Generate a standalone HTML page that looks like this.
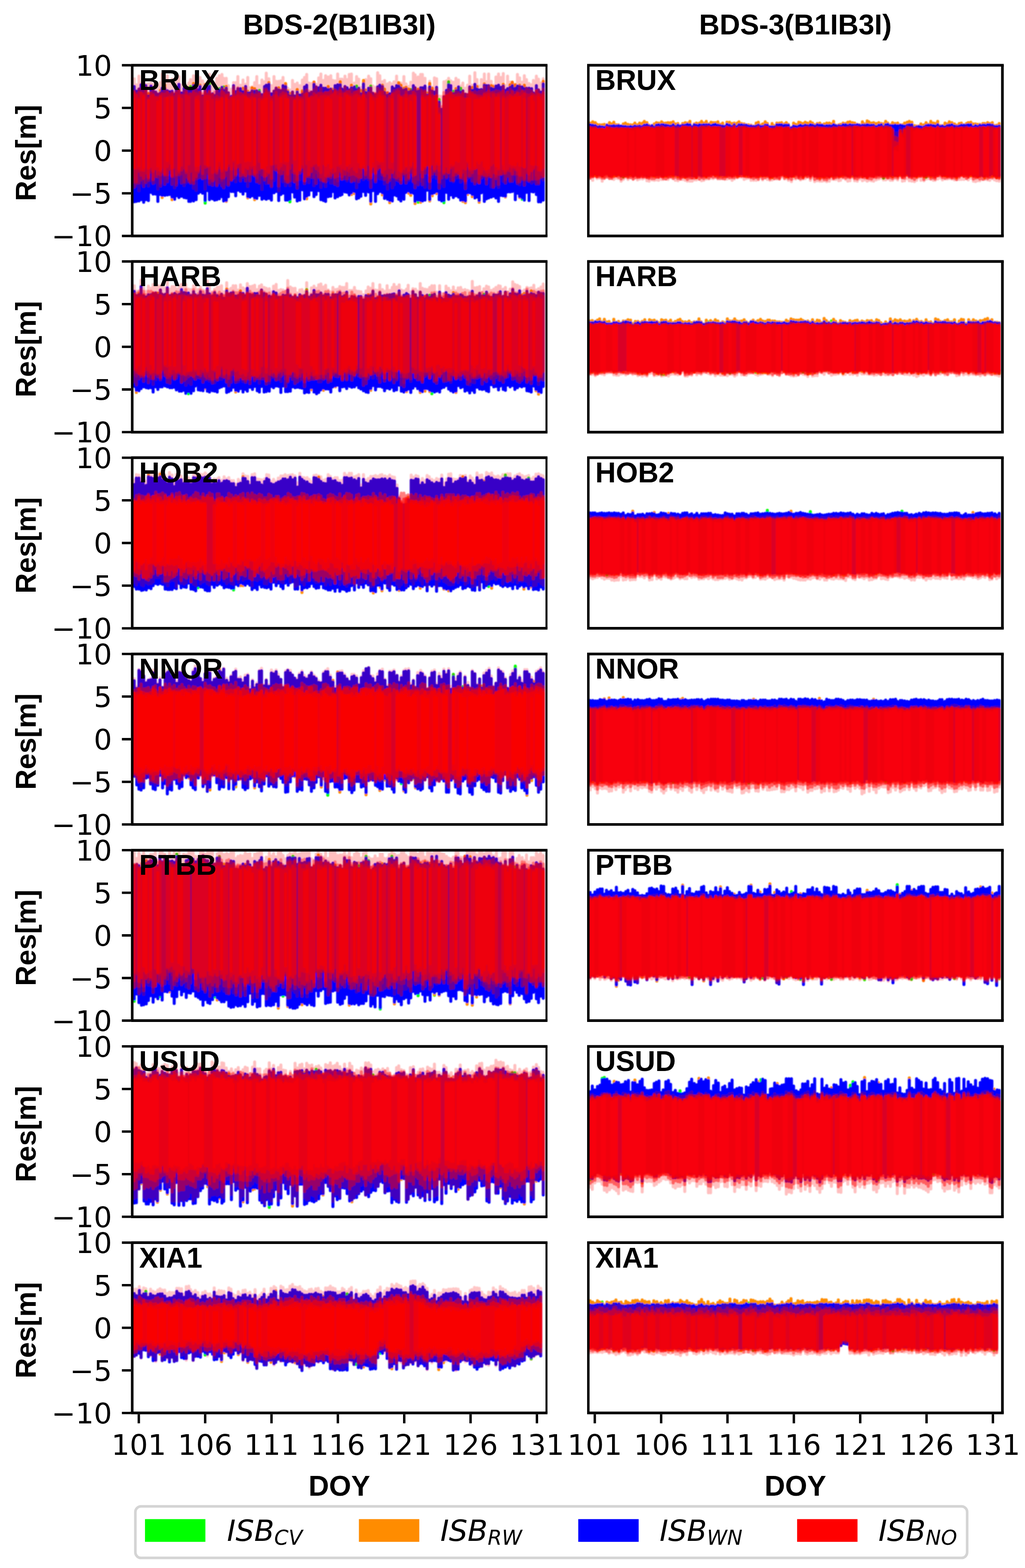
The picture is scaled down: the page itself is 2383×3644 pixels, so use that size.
<!DOCTYPE html>
<html lang="en"><head><meta charset="utf-8"><title>Residuals BDS-2 / BDS-3</title>
<style>html,body{margin:0;padding:0;background:#fff}body{width:2383px;height:3644px;overflow:hidden}svg{display:block}.t{font-family:"DejaVu Sans","Liberation Sans",sans-serif;font-size:66.67px;fill:#000}.b{font-family:"Liberation Sans","DejaVu Sans",sans-serif;font-weight:bold;font-size:66.10px;fill:#000}.i{font-family:"DejaVu Sans","Liberation Sans",sans-serif;font-style:italic;fill:#000}</style></head><body>
<svg width="2383" height="3644" viewBox="0 0 2383 3644">
<rect width="2383" height="3644" fill="#fff"/>
<defs><filter id="bl" x="-2%" y="-5%" width="104%" height="110%"><feGaussianBlur stdDeviation="1"/></filter></defs>
<style>.d path{fill:none;stroke-linecap:round}</style>
<defs><clipPath id="c00"><rect x="307.4" y="151.6" width="963.1" height="396.8"/></clipPath></defs><g clip-path="url(#c00)"><g class="d" stroke-width="7" filter="url(#bl)"><path d="M443 201v10M487 194v9M510 206v6M520 202v11M603 210v6M829 200v11M862 200v7M955 208v7M1021 231v9M1043 190v10M1054 212v8M1071 205v12" stroke="#00ff00"/><path d="M477 463v9M674 460v9M972 462v8M1032 464v7M1214 457v6" stroke="#00ff00"/><path d="M345 217v9M373 210v9M383 198v10M439 207v6M450 194v8M465 198v6M477 197v6M520 206v7M526 201v7M565 205v11M576 212v7M586 204v10M592 206v9M625 192v7M648 204v8M664 194v9M669 211v6M674 217v9M691 208v9M703 211v11M730 191v8M763 201v10M774 207v8M791 190v10M817 198v9M839 210v11M845 187v11M850 209v9M889 198v6M894 207v11M901 216v8M927 192v11M932 198v10M939 205v7M944 203v7M950 207v10M972 207v8M993 216v8M999 194v11M1005 205v10M1060 206v8M1098 203v10M1109 201v9M1126 195v6M1142 199v9M1147 201v9M1170 196v7M1186 197v9M1191 191v11M1198 197v11M1208 198v6M1219 198v11M1263 189v9" stroke="#ff8c00"/><path d="M377 451v8M400 455v9M526 463v5M576 454v6M592 457v7M713 453v9M817 445v7M824 442v8M862 465v9M889 445v8M906 463v8M950 441v8M955 445v9M965 465v8M978 463v7M999 461v6M1005 448v7M1015 442v8M1076 462v6M1082 464v7M1087 445v7M1098 449v8M1114 463v7M1175 453v5M1208 454v5" stroke="#ff8c00"/><path d="M312 201v268M317 212v256M323 207v260M328 197v267M334 198v272M339 199v265M345 223v243M351 200v247M356 205v246M362 214v237M367 219v249M373 216v236M377 205v249M383 205v249M389 211v242M394 213v239M400 212v246M406 219v244M410 203v252M416 196v263M422 216v240M428 205v254M433 206v254M439 210v258M443 208v260M450 199v268M456 200v264M461 209v240M465 201v245M471 223v226M477 200v266M483 202v241M487 200v264M494 218v244M499 222v243M504 209v255M510 209v253M516 203v254M520 210v257M526 205v261M531 216v241M538 224v221M543 199v246M548 213v242M553 206v236M559 206v239M565 213v238M571 201v243M576 216v241M581 216v242M586 211v244M592 212v248M597 211v250M603 214v240M609 220v243M615 201v260M619 198v265M625 196v265M631 218v247M637 212v236M642 205v240M648 209v257M653 211v241M658 199v250M664 201v264M669 214v251M674 223v240M680 214v232M685 223v235M691 214v253M697 221v244M703 219v222M708 202v260M713 198v258M718 217v236M724 214v228M730 196v261M735 202v250M741 204v239M746 198v266M752 205v261M757 205v263M763 208v249M769 207v249M774 212v233M779 199v261M785 197v260M791 197v257M795 207v245M802 201v245M807 204v243M812 209v244M817 204v244M824 202v243M829 208v254M834 205v255M839 218v238M845 195v250M850 215v239M857 205v241M862 204v264M867 217v226M873 220v248M878 202v248M883 198v247M889 201v247M894 215v246M901 221v242M906 218v248M912 202v265M916 206v247M922 199v256M927 200v263M932 205v262M939 209v254M944 207v240M950 214v230M955 212v236M961 199v250M965 204v264M972 212v253M978 204v262M982 204v263M988 200v265M993 221v221M999 202v262M1005 212v238M1010 214v234M1015 203v242M1021 237v227M1027 254v213M1032 225v241M1038 210v237M1043 197v266M1048 199v254M1054 217v242M1060 211v244M1066 202v256M1071 214v251M1076 211v254M1082 219v248M1087 220v228M1092 202v246M1098 210v242M1104 196v264M1109 207v251M1114 209v257M1119 208v240M1126 198v270M1131 199v263M1136 199v261M1142 205v253M1147 207v249M1153 200v260M1159 198v270M1165 203v251M1170 200v255M1175 210v246M1180 206v240M1186 203v243M1191 199v246M1198 205v259M1203 200v249M1208 201v256M1214 202v258M1219 206v259M1224 205v242M1230 205v261M1236 206v239M1240 216v230M1247 199v253M1252 209v260M1257 214v255M1263 195v270" stroke="#0000ff"/><path d="M312 183v230M317 197v235M323 177v266M328 193v233M334 187v226M339 196v214M345 195v237M351 193v227M356 196v220M362 195v229M367 199v240M373 192v233M377 172v242M383 190v217M389 176v238M394 192v210M400 184v223M406 198v238M410 184v241M416 178v236M422 198v206M428 173v258M433 199v225M439 193v224M443 185v241M450 176v261M456 177v265M461 199v192M465 180v210M471 188v226M477 195v244M483 189v211M487 173v251M494 189v224M499 194v226M504 182v250M510 176v234M516 173v246M520 182v232M526 182v246M531 199v228M538 207v209M543 192v200M548 192v230M553 178v222M559 198v196M565 186v215M571 196v212M576 180v253M581 204v199M586 202v201M592 192v214M597 178v235M603 199v202M609 186v254M615 190v218M619 170v256M625 183v241M631 199v235M637 178v241M642 189v206M648 189v254M653 188v222M658 180v242M664 197v234M669 205v211M674 209v222M680 187v232M685 196v226M691 193v235M697 199v218M703 186v203M708 180v240M713 173v243M718 193v231M724 194v205M730 190v241M735 196v205M741 181v229M746 172v263M752 187v236M757 176v257M763 179v239M769 176v249M774 187v238M779 188v222M785 172v248M791 184v222M795 184v232M802 177v216M807 185v235M812 173v239M817 172v250M824 193v224M829 178v258M834 184v232M839 203v198M845 193v224M850 185v217M857 177v240M862 183v230M867 200v192M873 203v215M878 169v242M883 176v239M889 190v226M894 187v240M901 195v244M906 192v219M912 195v241M916 190v239M922 177v226M927 194v220M932 193v232M939 178v231M944 195v222M950 201v218M955 191v206M961 170v253M965 174v251M972 179v238M978 173v248M982 173v237M988 182v253M993 205v196M999 189v233M1005 203v208M1010 181v223M1015 183v231M1021 223v191M1027 224v202M1032 190v243M1038 188v222M1043 182v227M1048 188v222M1054 191v231M1060 182v231M1066 186v226M1071 200v223M1076 193v226M1082 205v220M1087 198v216M1092 177v219M1098 198v210M1104 169v253M1109 185v233M1114 200v212M1119 185v214M1126 172v239M1131 190v226M1136 172v237M1142 189v245M1147 198v235M1153 179v251M1159 172v263M1165 180v225M1170 171v250M1175 199v218M1180 177v231M1186 191v231M1191 191v214M1198 196v220M1203 173v249M1208 181v248M1214 191v223M1219 176v237M1224 185v211M1230 194v220M1236 197v228M1240 187v235M1247 177v230M1252 184v240M1257 193v220M1263 183v235" stroke="#ff0000" opacity=".25"/><path d="M312 214v221M317 217v209M323 207v218M328 207v211M334 208v225M339 203v199M345 218v201M351 216v184M356 209v217M362 215v178M367 218v193M373 225v207M377 216v173M383 205v223M389 213v209M394 221v173M400 219v209M406 216v194M410 212v218M416 210v191M422 221v204M428 212v211M433 206v205M439 218v197M443 218v206M450 211v207M456 207v208M461 215v198M465 216v195M471 218v197M477 209v204M483 219v185M487 212v216M494 219v211M499 214v202M504 211v219M510 218v206M516 207v224M520 214v222M526 208v200M531 215v215M538 229v190M543 202v184M548 224v180M553 204v185M559 217v203M565 218v193M571 205v215M576 226v166M581 219v185M586 213v192M592 223v181M597 212v188M603 219v206M609 222v184M615 208v202M619 207v199M625 213v212M631 226v206M637 211v182M642 204v184M648 210v222M653 209v182M658 207v196M664 209v212M669 219v205M674 224v196M680 214v186M685 225v197M691 218v219M697 228v168M703 215v183M708 213v213M713 209v201M718 212v194M724 214v198M730 209v203M735 202v224M741 216v180M746 206v212M752 220v200M757 216v195M763 216v186M769 209v203M774 215v187M779 211v217M785 212v219M791 205v190M795 213v197M802 203v212M807 213v202M812 210v188M817 208v213M824 213v207M829 213v200M834 208v214M839 221v191M845 210v177M850 219v194M857 217v195M862 204v231M867 216v169M873 217v183M878 205v185M883 209v180M889 202v204M894 214v203M901 215v208M906 225v187M912 217v183M916 211v183M922 214v204M927 207v213M932 207v218M939 209v190M944 208v217M950 215v200M955 209v192M961 215v206M965 205v231M972 209v220M978 208v192M982 217v212M988 215v187M993 223v158M999 207v230M1005 210v194M1010 224v170M1015 207v198M1021 242v195M1027 248v165M1032 215v183M1038 215v198M1043 209v185M1048 215v204M1054 217v190M1060 213v184M1066 215v180M1071 221v186M1076 212v188M1082 218v220M1087 222v186M1092 204v207M1098 215v205M1104 213v214M1109 216v206M1114 213v211M1119 211v202M1126 202v206M1131 215v212M1136 201v209M1142 215v196M1147 218v217M1153 211v198M1159 212v216M1165 218v185M1170 202v195M1175 223v202M1180 215v195M1186 207v213M1191 214v207M1198 215v190M1203 212v214M1208 204v204M1214 211v206M1219 219v211M1224 206v212M1230 209v209M1236 212v185M1240 221v195M1247 211v216M1252 209v218M1257 220v185M1263 207v202" stroke="#ff0000" opacity=".4"/><path d="M312 212v211M317 221v201M323 215v183M328 217v190M334 218v197M339 210v214M345 229v185M351 216v171M356 220v197M362 226v184M367 226v169M373 218v188M377 219v181M383 219v184M389 215v191M394 218v174M400 215v195M406 225v164M410 217v189M416 209v197M422 222v173M428 222v168M433 215v181M439 222v199M443 219v179M450 215v211M456 218v192M461 221v179M465 214v167M471 227v176M477 215v174M483 220v161M487 214v200M494 220v200M499 228v171M504 224v178M510 227v163M516 213v200M520 217v195M526 221v168M531 220v165M538 227v190M543 211v202M548 220v170M553 214v172M559 217v191M565 221v179M571 211v197M576 220v183M581 225v195M586 219v165M592 220v180M597 222v200M603 217v176M609 227v163M615 219v199M619 211v186M625 217v185M631 227v187M637 223v158M642 215v180M648 226v174M653 220v184M658 216v178M664 218v197M669 226v196M674 227v164M680 228v150M685 230v172M691 223v195M697 232v161M703 228v153M708 220v200M713 218v190M718 228v182M724 225v160M730 218v167M735 221v171M741 218v194M746 217v194M752 217v203M757 215v207M763 215v195M769 212v195M774 219v169M779 209v203M785 215v194M791 211v175M795 218v198M802 219v186M807 213v183M812 213v177M817 220v166M824 216v189M829 214v194M834 212v199M839 228v184M845 215v174M850 223v172M857 216v166M862 222v191M867 224v175M873 218v204M878 219v174M883 213v175M889 214v187M894 223v170M901 230v172M906 223v196M912 221v168M916 217v194M922 209v204M927 213v182M932 225v192M939 223v169M944 214v173M950 228v184M955 223v168M961 214v194M965 218v187M982 212v199M988 211v176M993 224v159M999 215v206M1005 222v158M1010 226v172M1015 222v169M1021 253v170M1032 224v180M1038 222v176M1043 219v182M1048 216v168M1054 223v196M1060 227v179M1066 219v184M1071 221v192M1076 217v197M1082 230v190M1087 220v157M1092 213v195M1098 217v176M1104 221v163M1109 223v166M1114 223v202M1119 224v182M1126 218v188M1131 217v191M1136 212v187M1142 218v192M1147 214v187M1153 220v195M1159 218v170M1165 214v191M1170 212v191M1175 219v177M1180 214v178M1186 221v165M1191 212v192M1198 221v168M1203 216v188M1208 218v204M1214 213v194M1219 213v204M1224 220v181M1230 221v200M1236 218v198M1240 218v171M1247 211v205M1252 221v193M1257 221v191M1263 216v194" stroke="#ff0000" opacity=".45"/><path d="M312 218v170M317 222v169M323 229v162M328 216v179M334 222v167M345 234v177M351 224v169M356 222v176M362 228v163M367 229v175M373 223v174M383 229v177M389 228v159M394 226v153M400 226v182M416 223v174M422 231v153M433 223v178M439 226v155M456 227v168M461 225v171M477 224v157M483 224v163M487 225v159M494 233v168M504 231v166M510 232v152M516 228v169M526 224v171M531 234v145M538 227v166M543 226v148M548 227v180M553 223v154M559 226v151M565 223v183M571 228v160M576 230v161M581 230v153M586 227v163M592 229v179M603 231v144M609 232v158M615 219v168M619 217v191M625 223v176M631 232v150M642 223v156M648 230v161M653 227v158M658 224v154M664 222v158M669 231v173M685 234v163M691 227v177M697 226v176M703 233v155M713 218v162M718 230v175M724 227v171M730 227v153M735 223v155M741 228v157M746 225v176M752 224v156M757 224v184M763 225v183M769 223v173M774 221v179M779 215v182M785 224v160M791 219v180M795 228v162M802 217v176M807 221v164M812 224v183M817 227v178M824 224v170M829 221v178M834 224v163M839 225v162M845 222v159M850 231v175M862 219v188M867 228v146M873 230v173M878 223v157M883 217v163M889 224v175M894 226v182M906 229v160M912 220v181M927 222v187M932 227v173M939 228v176M944 221v180M950 223v173M955 223v164M961 222v152M965 224v181M982 224v169M988 228v163M993 227v157M999 223v184M1005 230v152M1010 225v167M1015 223v151M1021 265v131M1032 229v172M1038 223v163M1043 223v178M1048 216v162M1054 222v163M1060 221v179M1066 229v173M1071 226v185M1076 229v161M1082 231v162M1087 231v154M1092 217v176M1098 221v180M1104 223v168M1109 227v162M1114 229v174M1119 227v176M1126 221v165M1131 221v178M1136 219v187M1142 230v153M1147 221v157M1153 227v176M1159 222v183M1170 226v155M1175 231v171M1180 227v169M1186 223v174M1191 228v160M1198 222v172M1203 218v177M1208 226v180M1214 223v162M1219 218v170M1230 228v176M1236 225v171M1240 223v169M1247 225v157M1252 219v164M1257 228v168M1263 223v166" stroke="#ff0000" opacity=".45"/><path d="M312 231v160M323 234v151M334 225v171M345 234v156M367 237v149M373 228v166M389 229v144M400 229v160M416 229v163M456 233v152M461 236v148M483 236v148M504 237v155M510 237v136M516 230v161M526 230v164M543 232v138M553 235v144M571 225v149M576 231v141M581 234v139M592 231v151M609 236v153M615 232v160M619 230v153M631 237v144M653 230v145M664 231v142M669 232v142M685 235v135M697 236v158M718 231v139M741 233v149M757 231v153M763 228v150M769 233v156M791 228v152M807 224v159M812 228v151M834 229v147M839 235v155M845 223v166M862 228v164M867 236v151M878 231v139M883 225v149M889 228v146M912 232v143M932 228v168M944 231v153M955 237v146M965 227v161M982 229v165M988 234v150M999 228v158M1015 230v151M1021 269v113M1048 231v159M1054 233v148M1060 228v144M1066 226v149M1087 230v143M1092 231v158M1104 233v159M1109 233v139M1114 234v145M1119 230v142M1126 227v166M1131 234v159M1136 226v164M1153 229v156M1159 228v165M1170 231v161M1186 232v147M1191 226v156M1198 227v156M1203 228v146M1208 226v158M1219 231v157M1236 225v156M1240 237v145M1252 227v168M1257 235v158" stroke="#ff0000" opacity=".5"/></g></g>
<defs><clipPath id="c01"><rect x="1367.8" y="151.6" width="962.7" height="396.8"/></clipPath></defs><g clip-path="url(#c01)"><g class="d" stroke-width="7" filter="url(#bl)"><path d="M1384 399v7M1449 404v7M2054 406v8M2153 402v10" stroke="#00ff00"/><path d="M1372 286v5M1378 283v9M1384 285v8M1388 289v7M1394 290v5M1400 290v6M1405 289v8M1411 290v2M1417 285v9M1422 288v6M1427 284v8M1433 290v4M1438 290v3M1444 293v1M1449 288v7M1454 286v9M1460 289v7M1466 290v5M1472 290v6M1476 286v8M1482 290v5M1487 286v8M1494 286v9M1498 282v10M1504 285v6M1509 291v2M1516 292v1M1521 288v9M1526 285v7M1531 286v5M1538 283v8M1542 286v5M1548 286v6M1553 285v8M1559 285v9M1565 283v8M1570 288v7M1576 287v5M1582 292v2M1587 287v5M1593 285v7M1598 286v4M1604 282v9M1609 294v2M1614 288v3M1619 286v6M1626 286v5M1631 282v9M1636 286v5M1642 282v9M1648 288v3M1653 284v9M1658 285v6M1663 285v5M1669 283v9M1674 289v4M1680 286v8M1685 293v2M1690 284v6M1696 284v8M1702 287v8M1707 286v5M1714 286v9M1718 283v8M1724 287v4M1730 288v4M1735 290v2M1740 290v4M1746 291v3M1752 293v2M1758 286v8M1763 284v8M1768 291v4M1773 288v7M1779 283v9M1784 287v5M1790 294v2M1795 287v9M1800 292v4M1806 286v5M1812 286v5M1817 285v6M1824 288v4M1828 285v7M1833 289v3M1840 296v1M1845 286v8M1850 289v6M1857 284v9M1861 285v7M1867 287v7M1872 284v8M1877 286v7M1884 283v8M1889 286v6M1894 290v4M1900 287v4M1906 286v6M1911 290v2M1916 288v5M1922 286v7M1928 286v7M1933 288v5M1938 282v9M1943 291v1M1950 290v3M1954 289v4M1960 286v5M1966 287v4M1971 284v9M1976 283v8M1982 285v7M1987 286v6M1993 289v2M1998 290v2M2005 283v9M2010 288v4M2016 281v9M2020 283v9M2026 286v6M2031 285v7M2037 287v8M2043 285v7M2049 287v4M2054 288v8M2059 282v9M2064 286v4M2070 290v3M2075 285v8M2081 287v5M2087 286v7M2093 290v2M2098 290v2M2103 286v8M2109 284v8M2114 282v9M2120 284v7M2126 292v6M2131 293v3M2136 293v2M2141 288v8M2148 290v6M2153 285v8M2158 289v3M2164 282v9M2170 286v7M2174 287v7M2180 282v9M2186 292v3M2191 292v2M2197 286v9M2202 288v5M2207 283v9M2213 285v5M2219 288v6M2224 291v4M2230 287v7M2235 286v6M2241 290v2M2247 287v5M2251 285v6M2257 284v7M2263 288v8M2268 288v5M2273 289v6M2278 289v3M2285 287v5M2289 287v5M2296 285v6M2301 287v4M2307 285v7M2312 292v3M2317 291v4M2323 287v7" stroke="#ff8c00"/><path d="M1384 399v9M1388 402v6M1400 404v6M1417 404v5M1427 401v8M1433 402v6M1438 400v6M1460 403v6M1466 400v6M1509 404v6M1521 403v7M1542 404v6M1548 403v7M1559 400v6M1565 401v9M1576 403v8M1593 405v7M1619 405v8M1636 402v6M1642 403v8M1663 400v8M1674 403v7M1685 403v7M1714 402v8M1718 402v7M1730 401v6M1735 402v7M1746 404v6M1763 404v6M1768 401v8M1779 403v6M1790 404v8M1795 406v7M1824 402v6M1828 402v9M1833 405v6M1845 402v8M1867 404v8M1872 401v6M1906 405v9M1916 404v8M1928 405v5M1933 401v8M1950 403v6M1954 402v8M1960 401v6M1982 402v7M2005 403v7M2016 405v7M2075 404v7M2087 403v6M2093 399v8M2109 400v6M2131 404v7M2136 401v6M2148 404v7M2158 400v6M2164 403v8M2191 403v5M2197 402v7M2202 402v8M2224 404v9M2235 400v6M2257 400v9M2273 405v6M2278 404v6M2289 405v8M2307 402v8M2317 404v9M2323 405v7" stroke="#ff8c00"/><path d="M1372 290v115M1378 291v115M1384 292v110M1388 295v110M1394 294v111M1400 295v112M1405 296v108M1411 291v112M1417 293v114M1422 293v113M1427 292v112M1433 293v112M1438 292v111M1444 293v115M1449 294v113M1454 294v111M1460 295v111M1466 294v109M1472 295v113M1476 293v112M1482 294v114M1487 293v114M1494 294v111M1498 291v116M1504 290v118M1509 293v114M1516 292v114M1521 296v110M1526 291v115M1531 290v116M1538 290v117M1542 290v117M1548 291v115M1553 292v112M1559 293v110M1565 290v114M1570 294v111M1576 291v115M1582 293v115M1587 291v115M1593 291v117M1598 289v119M1604 290v117M1609 295v113M1614 290v118M1619 291v117M1626 290v116M1631 291v117M1636 290v115M1642 290v116M1648 290v116M1653 292v111M1658 290v114M1663 289v114M1669 291v113M1674 292v114M1680 293v113M1685 294v112M1690 289v117M1696 291v115M1702 294v113M1707 290v114M1714 294v111M1718 290v114M1724 290v114M1730 291v113M1735 291v114M1740 293v112M1746 293v114M1752 294v113M1758 293v114M1763 291v116M1768 294v110M1773 294v112M1779 291v115M1784 291v115M1790 295v112M1795 295v114M1800 295v111M1806 290v118M1812 290v116M1817 290v114M1824 291v114M1828 291v114M1833 291v117M1840 297v111M1845 293v112M1850 294v110M1857 293v114M1861 291v114M1867 293v114M1872 291v112M1877 292v113M1884 290v117M1889 291v111M1894 293v115M1900 290v119M1906 291v117M1911 291v117M1916 293v114M1922 292v115M1928 292v116M1933 293v111M1938 290v117M1943 292v115M1950 292v114M1954 293v112M1960 290v114M1966 290v116M1971 292v116M1976 290v118M1982 291v114M1987 291v117M1993 290v118M1998 291v115M2005 291v115M2010 291v117M2016 290v118M2020 291v115M2026 291v116M2031 291v117M2037 294v111M2043 291v115M2049 290v115M2054 295v113M2059 290v116M2064 289v118M2070 292v113M2075 292v114M2081 291v116M2087 292v114M2093 291v111M2098 292v115M2103 293v113M2109 291v112M2114 290v118M2120 290v118M2126 297v110M2131 295v112M2136 294v109M2141 295v110M2148 295v112M2153 292v113M2158 291v112M2164 291v115M2170 292v115M2174 293v114M2180 290v114M2186 294v109M2191 293v113M2197 295v110M2202 292v113M2207 291v116M2213 290v118M2219 293v115M2224 294v113M2230 293v113M2235 291v112M2241 291v113M2247 291v114M2251 290v116M2257 290v113M2263 295v112M2268 292v115M2273 294v114M2278 291v116M2285 291v117M2289 291v117M2296 290v117M2301 290v117M2307 291v113M2312 294v113M2317 294v113M2323 293v115" stroke="#0000ff"/><path d="M1372 295v120M1378 298v121M1384 295v116M1388 297v118M1394 297v117M1400 301v120M1405 301v114M1411 296v115M1417 298v116M1422 299v115M1427 296v121M1433 298v116M1438 296v119M1444 298v123M1449 298v119M1454 299v114M1460 298v119M1466 300v113M1472 298v119M1476 297v117M1482 297v121M1487 297v119M1494 297v119M1498 296v118M1504 294v126M1509 295v126M1516 295v123M1521 298v121M1526 297v121M1531 296v123M1538 294v123M1542 296v121M1548 294v122M1553 297v120M1559 296v117M1565 294v119M1570 296v123M1576 295v125M1582 299v118M1587 295v122M1593 297v122M1598 295v126M1604 295v126M1609 300v121M1614 294v124M1619 297v121M1626 297v120M1631 293v127M1636 295v124M1642 294v122M1648 296v120M1653 296v118M1658 296v119M1663 297v116M1669 296v120M1674 296v120M1680 295v120M1685 298v119M1690 296v120M1696 298v117M1702 299v120M1707 294v122M1714 299v114M1718 293v119M1724 295v117M1730 294v123M1735 297v118M1740 299v115M1746 297v122M1752 296v123M1758 298v121M1763 294v124M1768 300v113M1773 298v120M1779 295v119M1784 295v122M1790 299v120M1795 300v118M1800 297v119M1806 294v122M1812 297v119M1817 294v118M1824 297v119M1828 295v120M1833 298v121M1840 301v121M1845 300v115M1850 299v117M1857 298v116M1861 297v121M1867 298v118M1872 295v120M1877 294v118M1884 296v123M1889 294v119M1894 296v126M1900 294v126M1906 297v124M1911 297v124M1916 296v124M1922 298v124M1928 296v125M1933 296v120M1938 295v122M1943 295v122M1950 297v123M1954 296v123M1960 295v119M1966 295v122M1971 295v126M1976 294v126M1982 295v118M1987 294v126M1993 295v126M1998 294v122M2005 296v124M2010 293v125M2016 296v125M2020 295v124M2026 296v124M2031 294v127M2037 300v118M2043 296v120M2049 295v119M2054 297v121M2059 294v124M2064 296v120M2070 295v124M2075 301v118M2081 309v106M2087 309v109M2093 297v115M2098 301v120M2103 300v120M2109 295v120M2114 294v126M2120 294v127M2126 299v123M2131 298v121M2136 299v114M2141 301v118M2148 299v121M2153 297v119M2158 298v117M2164 294v123M2170 297v122M2174 297v122M2180 294v122M2186 297v117M2191 297v121M2197 297v119M2202 295v121M2207 295v120M2213 296v120M2219 297v121M2224 300v118M2230 298v119M2235 296v121M2241 296v121M2247 294v120M2251 298v120M2257 296v118M2263 300v121M2268 297v125M2273 298v122M2278 298v122M2285 296v120M2289 297v120M2296 295v123M2301 294v125M2307 298v117M2312 299v119M2317 299v121M2323 296v125" stroke="#ff0000" opacity=".25"/><path d="M1372 296v118M1378 296v115M1384 297v112M1388 301v110M1394 300v111M1400 301v113M1405 301v113M1411 296v116M1417 296v119M1422 299v116M1427 300v111M1433 298v111M1438 299v113M1444 299v117M1449 301v112M1454 300v110M1460 299v114M1466 301v112M1472 299v117M1476 298v115M1482 297v116M1487 297v113M1494 298v114M1498 297v113M1504 296v117M1509 296v119M1516 299v116M1521 300v115M1526 296v115M1531 297v115M1538 294v117M1542 296v119M1548 298v118M1553 297v116M1559 299v112M1565 296v119M1570 297v115M1576 297v118M1582 300v116M1587 294v118M1593 296v117M1598 296v121M1604 297v117M1609 298v116M1614 296v118M1619 296v116M1626 297v119M1631 297v116M1636 295v120M1642 294v119M1648 294v120M1653 299v111M1658 297v115M1663 297v114M1669 296v118M1674 296v118M1680 300v115M1685 299v116M1690 295v115M1696 299v114M1702 297v116M1707 293v120M1714 299v113M1718 297v111M1724 297v112M1730 295v113M1735 296v115M1740 299v111M1746 299v114M1752 298v117M1758 297v116M1763 295v121M1768 299v111M1773 299v116M1779 295v118M1784 298v113M1790 301v115M1795 299v113M1800 299v116M1806 296v118M1812 296v120M1817 297v112M1824 299v115M1828 297v114M1833 297v118M1840 301v116M1845 298v111M1850 301v112M1857 299v115M1861 298v117M1867 298v116M1872 297v113M1877 297v114M1884 298v116M1889 298v111M1894 298v119M1900 297v118M1906 297v120M1911 298v115M1916 298v119M1922 298v120M1928 298v116M1933 300v110M1938 297v118M1943 298v115M1950 295v118M1954 298v112M1960 298v114M1966 298v116M1971 296v116M1976 295v118M1982 296v114M1987 295v120M1993 295v121M1998 296v114M2005 297v115M2010 297v116M2016 297v117M2020 297v118M2026 297v119M2031 296v116M2037 298v115M2043 299v113M2049 295v114M2054 297v116M2059 296v116M2064 295v118M2070 297v116M2075 301v114M2081 319v93M2087 321v93M2093 304v104M2098 305v107M2103 300v114M2109 295v112M2114 298v114M2120 299v115M2126 299v118M2131 298v115M2136 301v109M2141 300v110M2148 298v119M2153 296v114M2158 298v112M2164 296v119M2170 299v115M2174 300v116M2180 297v112M2186 300v109M2191 299v114M2197 300v114M2202 297v116M2207 298v114M2213 297v117M2219 299v115M2224 297v120M2230 298v114M2235 297v111M2241 297v113M2247 297v118M2251 299v112M2257 298v110M2263 299v117M2268 298v116M2273 298v115M2278 296v120M2285 297v120M2289 298v117M2296 297v118M2301 296v116M2307 295v118M2312 298v113M2317 301v112M2323 298v117" stroke="#ff0000" opacity=".5"/><path d="M1372 297v114M1378 299v109M1384 298v106M1388 301v110M1394 301v107M1400 300v109M1405 302v109M1411 297v111M1417 299v111M1422 301v110M1427 300v106M1433 299v110M1438 301v106M1444 301v109M1449 299v111M1454 299v110M1460 300v111M1466 300v109M1472 303v108M1476 299v108M1482 300v111M1487 301v111M1494 298v112M1498 296v115M1504 298v114M1509 297v115M1516 300v110M1521 300v108M1526 297v115M1531 296v116M1538 299v110M1542 297v114M1548 299v109M1553 299v112M1559 300v110M1565 297v110M1570 301v107M1576 300v108M1582 298v115M1587 296v115M1593 295v116M1598 297v112M1604 298v113M1609 302v111M1614 297v113M1619 299v114M1626 299v110M1631 295v116M1636 297v113M1642 298v112M1648 296v113M1653 297v112M1658 296v110M1663 296v112M1669 300v111M1674 298v109M1680 300v111M1685 300v109M1690 296v115M1696 296v113M1702 298v112M1707 296v113M1714 300v107M1718 296v113M1724 296v113M1730 299v111M1735 300v106M1740 298v113M1746 298v112M1752 299v109M1758 300v109M1763 297v114M1768 302v103M1773 298v111M1779 295v113M1784 296v113M1790 300v112M1795 302v108M1800 301v109M1806 297v114M1812 299v114M1817 299v107M1824 299v110M1828 299v109M1833 298v113M1840 302v107M1845 300v109M1850 300v108M1857 300v112M1861 299v111M1867 299v113M1872 297v110M1877 296v113M1884 297v112M1889 297v109M1894 301v109M1900 297v116M1906 299v112M1911 299v112M1916 299v113M1922 301v112M1928 300v111M1933 300v107M1938 298v115M1943 299v112M1950 297v112M1954 297v111M1960 297v113M1966 298v111M1971 298v112M1976 298v111M1982 299v107M1987 296v116M1993 299v112M1998 298v114M2005 296v115M2010 297v112M2016 298v115M2020 297v113M2026 299v111M2031 296v114M2037 299v111M2043 297v111M2049 298v112M2054 300v110M2059 296v112M2064 298v115M2070 298v110M2075 304v106M2081 331v77M2087 333v77M2093 304v103M2098 312v101M2103 304v106M2109 297v110M2114 297v113M2120 297v115M2126 301v108M2131 302v107M2136 303v106M2141 303v104M2148 299v110M2153 297v114M2158 297v112M2164 298v110M2170 300v111M2174 301v111M2180 297v111M2186 299v107M2191 299v110M2197 300v108M2202 298v112M2207 299v109M2213 296v116M2219 302v108M2224 298v112M2230 300v109M2235 298v109M2241 300v110M2247 297v112M2251 299v113M2257 298v108M2263 299v111M2268 298v111M2273 300v111M2278 297v112M2285 296v113M2289 297v112M2296 296v113M2301 298v114M2307 298v110M2312 300v109M2317 299v114M2323 298v114" stroke="#ff0000" opacity=".6"/><path d="M1372 299v110M1378 300v110M1384 301v104M1388 301v106M1394 302v104M1400 300v109M1405 302v104M1411 297v107M1417 302v105M1422 299v111M1427 300v105M1433 302v103M1438 302v104M1444 299v109M1449 301v106M1454 301v108M1460 303v103M1466 300v107M1472 301v108M1476 302v106M1482 299v110M1487 302v108M1494 300v109M1498 300v107M1504 297v113M1509 298v111M1516 298v109M1521 301v106M1526 300v108M1531 300v109M1538 299v111M1542 300v110M1548 299v108M1553 297v111M1559 298v109M1565 298v108M1582 302v108M1587 297v112M1593 297v111M1598 298v113M1604 296v112M1614 298v111M1619 297v113M1636 298v109M1642 299v110M1648 296v111M1653 301v106M1658 300v104M1663 297v109M1669 297v110M1690 297v111M1696 299v108M1702 301v108M1707 299v108M1714 299v109M1730 297v111M1735 300v105M1740 300v107M1746 301v109M1752 301v109M1758 302v109M1763 298v109M1768 303v104M1773 301v108M1779 299v107M1784 297v110M1790 300v109M1795 302v107M1800 303v105M1806 298v111M1812 297v110M1817 298v108M1824 299v110M1828 300v109M1833 298v112M1840 303v107M1845 302v105M1850 300v105M1857 299v110M1861 299v107M1867 300v108M1872 300v106M1877 300v105M1884 300v110M1889 298v107M1894 300v109M1900 300v110M1906 300v108M1911 300v109M1916 300v112M1922 300v109M1928 301v109M1933 300v108M1938 300v110M1943 299v109M1950 299v111M1954 299v109M1960 297v110M1966 300v106M1971 300v108M1976 299v112M1987 296v111M1993 296v112M1998 299v109M2005 297v111M2010 300v109M2016 299v112M2020 299v109M2026 297v111M2031 300v110M2037 300v107M2043 298v108M2049 297v108M2054 303v105M2059 300v109M2064 300v109M2070 299v110M2081 344v64M2087 341v66M2093 309v94M2098 316v93M2103 303v105M2120 300v109M2126 304v105M2131 300v109M2136 301v103M2141 303v106M2148 300v108M2153 301v106M2158 299v106M2164 297v111M2170 299v108M2174 300v111M2180 297v111M2186 301v103M2191 300v107M2197 300v106M2202 299v109M2207 299v111M2213 298v111M2219 302v107M2224 302v109M2230 299v109M2235 298v108M2241 301v107M2247 300v108M2251 298v111M2257 298v106M2263 299v110M2268 301v110M2273 301v109M2289 297v113M2296 298v113M2312 304v103M2317 301v109" stroke="#ff0000" opacity=".6"/><path d="M1372 303v103M1378 302v105M1384 301v99M1388 305v100M1394 305v99M1400 305v101M1405 303v102M1411 300v102M1417 303v102M1422 302v104M1427 303v101M1433 305v97M1438 303v100M1444 302v104M1449 302v105M1454 305v97M1466 305v97M1472 306v100M1482 302v105M1487 303v102M1494 304v101M1498 301v105M1504 303v101M1509 304v103M1516 302v102M1521 304v100M1548 303v103M1553 301v105M1559 302v101M1565 301v103M1636 303v101M1642 300v107M1648 299v106M1653 300v102M1658 302v101M1663 301v101M1669 303v102M1702 304v102M1707 299v103M1714 304v101M1730 300v103M1746 305v103M1752 303v101M1758 304v103M1763 303v104M1790 303v105M1795 306v101M1800 303v104M1806 303v103M1812 303v103M1817 300v105M1840 307v101M1857 302v103M1861 303v100M1877 301v101M1906 302v105M1911 301v105M1916 302v105M1922 303v102M1928 302v103M1933 303v102M1950 304v100M1954 304v100M1971 300v104M1976 302v106M1993 303v101M1998 299v107M2010 300v106M2016 300v108M2020 302v102M2026 300v108M2031 303v105M2049 300v104M2054 304v100M2059 303v102M2081 352v52M2087 355v50M2093 312v90M2098 322v84M2126 307v99M2131 304v104M2136 303v99M2141 304v100M2148 305v100M2153 303v100M2158 304v100M2164 302v103M2170 300v106M2180 301v101M2202 304v102M2207 302v105M2213 302v104M2224 302v104M2230 303v103M2241 302v102M2247 303v102M2251 303v101M2257 301v103M2263 302v102M2268 304v100M2273 304v102M2289 303v101M2296 300v108M2317 302v103" stroke="#ff0000" opacity=".5"/></g></g>
<defs><clipPath id="c10"><rect x="307.4" y="607.6" width="963.1" height="396.6"/></clipPath></defs><g clip-path="url(#c10)"><g class="d" stroke-width="7" filter="url(#bl)"><path d="M713 673v8M999 686v8M1125 684v6" stroke="#00ff00"/><path d="M438 907v8M1004 906v9" stroke="#00ff00"/><path d="M323 682v6M367 681v8M527 672v7M559 676v8M713 675v6M774 683v5M856 685v6M988 689v8M1054 680v7M1213 685v7M1219 682v8M1235 676v9" stroke="#ff8c00"/><path d="M317 905v7M477 897v6M548 904v7M724 898v8M752 899v8M780 894v5M862 900v7M945 904v6M977 905v7M988 900v9M999 904v6M1060 906v6M1246 902v6M1252 908v8" stroke="#ff8c00"/><path d="M312 677v221M317 687v220M323 685v223M328 666v237M334 687v212M340 690v211M345 685v217M351 685v216M356 682v229M362 681v218M367 686v219M373 674v225M377 684v215M384 684v213M389 669v230M395 687v214M400 685v216M406 682v218M410 685v221M417 684v225M422 673v236M428 680v227M432 681v233M438 681v229M444 687v227M450 678v230M454 685v212M461 687v219M466 678v229M472 686v222M477 687v213M482 671v238M487 683v228M494 688v220M499 680v229M505 687v224M510 690v211M515 684v215M521 693v204M527 676v236M532 684v226M537 681v226M542 680v220M548 688v219M554 687v222M559 681v222M565 682v229M571 687v218M575 670v239M581 684v216M587 686v219M592 682v216M598 682v226M603 688v223M608 674v224M614 682v229M619 684v226M626 688v221M631 690v208M636 678v223M642 681v216M648 691v207M653 691v221M658 686v211M664 687v223M669 674v236M675 687v222M680 691v208M686 688v213M691 692v208M697 685v216M702 689v213M708 687v226M713 678v233M718 691v221M724 686v215M730 675v236M736 685v230M741 685v227M746 681v225M752 688v214M757 684v220M763 684v220M769 692v219M774 685v214M780 685v212M785 685v210M790 680v228M796 690v209M801 687v211M806 679v224M813 695v203M818 689v211M824 690v209M828 694v201M834 689v212M839 689v215M845 697v211M851 687v224M856 688v224M862 687v216M867 677v219M873 694v212M878 692v206M883 680v218M889 688v212M894 687v221M900 686v216M906 685v219M912 684v216M916 683v225M922 689v217M928 676v219M933 692v217M939 686v225M945 682v225M949 685v219M955 695v217M960 678v224M966 685v212M971 693v210M977 679v229M982 687v223M988 694v209M993 686v217M999 691v216M1004 686v223M1010 684v227M1015 694v215M1022 679v232M1026 693v209M1032 696v204M1037 680v216M1043 686v218M1048 688v220M1054 684v227M1060 689v220M1065 689v207M1071 685v216M1075 687v212M1081 691v218M1087 691v216M1092 689v224M1098 677v230M1103 691v221M1109 688v212M1115 682v222M1121 688v217M1125 687v217M1131 679v229M1136 689v221M1142 691v203M1148 685v214M1153 686v212M1159 685v221M1163 678v219M1170 689v216M1175 679v228M1180 691v204M1186 683v216M1192 673v223M1197 683v222M1203 684v217M1208 676v221M1213 689v210M1219 687v210M1225 677v231M1230 686v223M1235 682v229M1241 684v213M1246 687v218M1252 679v231M1258 682v230M1263 682v216" stroke="#0000ff"/><path d="M312 664v206M317 677v197M323 676v191M328 651v222M334 669v202M340 677v188M345 665v199M351 670v199M356 661v232M362 663v219M367 664v203M373 665v210M377 660v210M384 669v202M389 650v220M395 672v206M400 666v212M406 666v199M410 671v202M417 664v208M422 661v227M428 666v208M432 661v234M438 672v217M444 673v220M450 664v215M454 668v195M461 673v194M466 667v200M472 674v194M477 676v193M482 653v229M487 663v222M494 678v206M499 672v217M505 667v214M510 667v214M515 664v217M521 678v192M527 657v231M532 673v199M537 670v201M542 664v198M548 664v210M554 674v213M559 662v218M565 669v217M571 672v212M575 659v211M581 666v210M587 665v207M592 663v217M598 673v195M603 665v225M608 662v201M614 668v207M619 670v215M626 671v219M631 678v199M636 665v212M642 661v222M648 675v195M653 673v213M658 674v190M664 677v203M669 652v224M675 667v207M680 670v192M686 670v195M691 681v185M697 674v210M702 673v195M708 678v202M713 657v224M718 682v198M724 669v200M730 665v213M736 670v209M741 662v225M746 660v227M752 667v212M757 663v203M763 674v208M769 678v203M774 668v204M780 673v188M785 672v195M790 666v208M796 668v211M801 668v207M806 659v224M813 675v183M818 675v187M824 668v207M828 676v188M834 677v187M839 678v195M845 685v187M851 676v205M856 667v208M862 670v199M867 659v219M873 674v191M878 675v204M883 662v210M889 673v190M894 677v201M900 664v213M906 675v209M912 668v209M916 661v209M922 667v211M928 662v194M933 674v201M939 676v213M945 672v196M949 663v211M955 678v208M960 671v193M966 672v195M971 677v190M977 659v221M982 670v217M988 672v197M993 673v198M999 668v207M1004 664v206M1010 664v221M1015 679v198M1022 664v207M1026 682v196M1032 682v201M1037 665v193M1043 670v205M1048 676v212M1054 667v207M1060 676v204M1065 669v198M1071 668v204M1075 674v194M1081 673v201M1087 675v198M1092 677v217M1098 654v234M1103 669v220M1109 668v206M1115 666v206M1121 679v196M1125 671v211M1131 665v209M1136 667v208M1142 675v202M1148 672v200M1153 668v199M1159 664v218M1163 665v209M1170 672v200M1175 668v206M1180 679v186M1186 672v187M1192 655v206M1197 661v207M1203 663v216M1208 666v216M1213 677v201M1219 674v204M1225 668v221M1230 670v202M1235 669v208M1241 663v209M1246 674v197M1252 671v222M1258 667v209M1263 660v204" stroke="#ff0000" opacity=".25"/><path d="M312 683v204M317 682v212M323 678v202M328 672v198M334 677v209M340 685v184M345 677v212M351 677v191M356 681v197M362 683v182M367 682v187M373 674v208M377 683v177M384 684v181M389 672v216M395 687v203M400 682v188M406 683v198M410 678v200M417 679v188M422 679v209M428 683v201M432 673v207M438 686v189M444 685v187M450 673v201M454 686v184M461 683v194M466 674v204M472 678v210M477 684v197M482 675v192M487 685v189M494 681v209M499 677v202M505 684v192M510 679v194M515 683v191M521 686v189M527 683v204M532 682v214M537 688v200M542 677v193M548 680v208M554 680v202M559 679v196M565 684v196M571 684v204M575 681v197M581 677v214M587 684v184M592 686v198M598 687v186M603 679v192M608 674v206M614 679v201M619 682v210M626 681v203M631 687v178M636 683v191M642 687v195M648 685v196M653 682v192M658 679v181M664 677v221M669 670v214M675 684v190M680 691v190M686 686v205M691 694v193M697 687v180M702 689v192M708 686v212M713 675v197M718 689v179M724 684v187M730 679v194M736 678v202M741 677v202M746 681v197M752 691v190M757 678v191M763 677v211M769 686v190M774 679v184M780 689v185M785 679v196M790 677v192M796 682v199M801 681v184M806 681v185M813 688v177M818 679v189M824 685v186M828 690v167M834 693v180M839 692v175M845 692v203M851 690v201M856 686v193M862 684v186M867 675v193M873 684v183M878 689v170M883 678v210M889 691v177M894 686v192M900 684v178M906 685v196M912 686v183M916 685v204M922 685v197M928 680v176M933 692v202M939 690v208M945 689v190M949 688v176M955 688v192M960 676v188M966 685v191M971 693v171M977 679v203M982 691v197M988 688v186M993 692v176M999 692v186M1004 681v187M1010 680v206M1015 689v201M1022 683v191M1026 689v179M1032 683v203M1037 687v198M1043 689v192M1048 691v191M1054 687v184M1060 681v199M1065 684v187M1071 688v193M1075 682v186M1081 680v197M1087 689v203M1092 681v205M1098 681v191M1103 685v193M1109 691v178M1115 681v183M1121 680v212M1125 690v192M1131 681v205M1136 684v184M1142 681v199M1148 682v208M1153 685v192M1159 680v185M1163 682v201M1170 688v200M1175 679v189M1180 679v196M1186 687v171M1192 671v210M1197 680v199M1203 681v204M1208 685v203M1213 687v196M1219 690v170M1225 672v215M1230 687v186M1235 684v207M1241 677v193M1246 680v188M1252 679v205M1258 677v204M1263 676v207" stroke="#ff0000" opacity=".4"/><path d="M312 684v174M317 688v177M323 686v181M328 687v188M334 684v190M340 694v165M345 690v184M351 687v192M356 680v200M362 680v190M367 687v188M373 687v191M377 689v168M384 690v183M389 685v192M395 691v172M400 684v183M406 692v187M410 686v180M417 688v173M422 687v182M428 688v181M432 691v172M438 689v179M444 690v181M450 686v189M454 687v194M461 689v181M466 686v187M472 691v167M477 689v185M482 688v190M487 687v193M494 685v196M499 686v176M505 693v190M510 686v182M515 687v168M521 688v189M527 680v186M532 684v195M537 683v175M542 685v172M548 692v190M554 685v192M559 683v192M565 685v195M571 691v188M575 682v198M581 684v197M587 682v191M592 692v179M598 692v187M603 695v184M608 678v196M614 693v180M619 684v201M626 695v174M631 690v165M636 685v180M642 690v184M648 690v175M653 691v171M658 689v181M664 690v178M669 685v202M675 694v173M680 691v171M686 685v189M691 696v181M697 690v184M702 687v177M708 696v191M713 682v191M718 695v188M724 692v189M730 688v193M736 694v185M741 691v177M746 687v181M752 685v190M757 689v189M763 690v173M769 697v188M774 687v183M780 685v180M790 687v181M796 694v189M801 693v168M806 685v196M813 699v156M818 689v194M824 687v172M828 695v160M839 691v185M845 697v176M851 693v179M856 695v168M862 693v176M867 693v165M873 698v163M878 690v182M883 691v174M889 694v166M894 693v192M900 693v169M906 697v185M912 696v164M916 695v180M922 687v170M928 692v166M933 688v172M939 695v170M945 689v187M949 688v189M960 687v178M966 692v185M971 698v184M977 690v180M982 691v190M988 690v173M993 687v176M999 695v183M1004 695v167M1010 690v175M1015 694v189M1022 687v181M1026 698v169M1032 690v171M1037 685v168M1043 696v187M1048 697v172M1054 691v179M1060 687v191M1065 686v191M1071 692v168M1075 696v164M1081 696v173M1087 697v184M1092 689v178M1098 683v194M1103 689v182M1109 686v192M1115 694v182M1121 689v186M1125 692v170M1131 688v189M1136 686v187M1142 693v172M1148 694v168M1153 689v172M1159 688v181M1163 688v181M1170 690v180M1175 682v195M1180 696v158M1186 685v181M1192 680v193M1197 688v169M1203 690v176M1208 687v185M1213 689v175M1219 689v182M1225 682v192M1230 684v198M1235 687v194M1241 687v179M1246 693v177M1252 686v185M1258 684v184M1263 689v173" stroke="#ff0000" opacity=".45"/><path d="M317 691v169M323 693v176M328 692v175M334 695v175M340 696v154M345 692v167M351 688v177M356 692v171M367 698v168M373 687v178M384 695v154M389 685v166M395 690v183M400 696v161M406 688v169M410 699v164M417 690v175M428 698v169M432 690v181M438 693v169M444 693v168M454 693v167M461 694v175M466 691v165M472 699v164M477 695v159M482 695v163M494 691v167M499 692v161M505 696v180M510 692v179M515 699v150M521 699v169M527 692v163M532 693v175M537 693v166M542 689v164M548 697v164M554 699v160M559 690v178M565 698v168M571 695v177M575 685v177M587 699v172M592 694v177M598 687v188M603 689v178M608 696v154M619 690v175M631 697v174M636 686v176M642 696v172M648 698v162M653 690v165M664 691v163M669 692v176M675 695v174M680 697v164M686 699v163M691 702v170M697 698v156M702 692v162M708 697v179M713 694v168M718 699v179M724 700v161M730 698v172M736 696v174M741 694v183M752 692v176M757 698v154M763 691v162M769 698v179M774 697v159M780 695v167M790 691v177M796 693v176M801 690v172M806 689v163M813 703v165M818 694v165M824 698v173M828 697v169M839 699v154M851 701v173M856 694v171M862 701v166M867 690v159M873 699v163M878 699v162M883 690v158M889 703v151M894 693v173M900 703v154M906 701v154M916 697v164M922 702v160M928 692v165M933 693v173M939 694v181M945 694v170M949 696v166M960 693v158M966 699v157M977 697v159M982 694v167M993 698v163M999 702v157M1004 695v157M1010 695v165M1015 702v159M1022 694v180M1026 697v157M1032 699v163M1037 694v161M1043 695v168M1048 695v168M1054 693v163M1060 695v178M1065 695v169M1071 693v178M1075 696v169M1081 694v161M1087 693v163M1098 695v168M1103 701v173M1109 700v157M1115 699v168M1121 698v173M1125 693v172M1131 695v169M1136 700v154M1142 691v178M1159 693v167M1163 697v170M1175 693v168M1180 693v167M1186 697v166M1192 689v181M1197 691v181M1203 695v164M1208 688v175M1213 698v151M1219 689v165M1225 696v178M1235 691v166M1241 694v159M1246 697v165M1252 693v182M1258 697v177" stroke="#ff0000" opacity=".45"/><path d="M317 699v155M323 695v152M334 699v163M351 701v144M356 694v163M384 703v142M395 702v146M406 695v154M428 703v143M438 698v162M444 698v161M454 697v158M477 706v145M482 697v165M499 703v156M505 704v143M565 703v151M571 701v156M587 696v159M598 698v162M619 703v149M642 700v152M691 704v140M697 705v146M724 702v146M730 696v160M736 704v162M757 702v154M774 701v150M796 706v152M801 707v147M806 702v160M813 700v147M818 702v154M824 704v157M828 707v139M856 705v148M862 701v146M878 705v150M883 698v151M894 702v161M900 701v150M906 702v155M916 700v149M922 705v156M933 707v155M977 703v157M993 700v152M999 700v150M1004 703v144M1010 698v166M1015 705v140M1022 697v148M1026 708v144M1032 704v144M1037 705v155M1043 704v148M1048 699v153M1060 707v154M1075 700v157M1081 704v154M1087 705v155M1098 704v142M1103 707v146M1109 703v142M1121 698v156M1125 699v153M1136 702v155M1142 702v153M1159 701v162M1163 695v166M1175 696v162M1180 705v139M1186 701v157M1208 701v145M1219 700v152M1225 702v154M1241 702v146" stroke="#ff0000" opacity=".5"/></g></g>
<defs><clipPath id="c11"><rect x="1367.8" y="607.6" width="962.7" height="396.6"/></clipPath></defs><g clip-path="url(#c11)"><g class="d" stroke-width="7" filter="url(#bl)"><path d="M1477 748v7M1647 748v6M1933 746v10M2219 744v9" stroke="#00ff00"/><path d="M1538 860v9M1543 860v10M1697 860v7M1757 856v9M1867 857v8M1921 854v6M1960 859v7M2186 856v6M2323 859v9" stroke="#00ff00"/><path d="M1372 746v5M1377 745v6M1384 747v2M1389 744v6M1394 741v8M1399 748v3M1405 742v8M1411 748v5M1416 747v6M1421 752v2M1427 742v9M1433 749v2M1438 747v6M1444 751v2M1449 746v4M1455 746v3M1460 743v7M1466 744v7M1471 752v5M1477 747v6M1483 747v4M1487 750v4M1493 747v4M1499 743v7M1504 750v1M1510 743v8M1515 745v5M1521 744v7M1527 747v3M1531 750v5M1538 743v8M1543 745v5M1548 744v6M1554 748v5M1559 744v9M1565 750v3M1570 747v6M1576 744v7M1581 742v9M1586 747v7M1593 748v5M1598 749v5M1602 746v7M1608 750v5M1614 748v3M1620 748v2M1625 741v9M1630 748v3M1636 753v2M1642 744v9M1647 750v2M1652 745v7M1658 748v3M1663 743v8M1669 746v7M1675 751v2M1680 748v4M1685 750v5M1691 741v8M1697 746v4M1703 746v3M1708 741v8M1713 746v5M1719 747v4M1724 746v8M1730 743v8M1735 748v3M1741 751v3M1746 747v2M1751 744v5M1757 748v3M1762 745v8M1768 742v9M1773 746v6M1779 747v7M1785 744v7M1789 744v8M1796 746v5M1801 746v6M1807 748v4M1812 748v4M1818 749v4M1823 749v2M1828 744v9M1834 747v6M1839 741v7M1845 743v6M1851 744v6M1856 744v7M1862 742v8M1867 745v5M1872 747v2M1878 746v4M1883 749v4M1889 743v7M1894 749v5M1900 744v9M1905 745v8M1910 750v3M1916 740v9M1921 745v8M1927 749v2M1933 751v3M1938 742v9M1943 747v5M1949 752v3M1954 745v8M1960 748v4M1965 749v3M1971 751v2M1976 745v7M1983 747v6M1988 745v7M1993 744v9M1998 749v3M2004 746v5M2009 748v4M2016 745v7M2021 746v4M2026 745v7M2032 749v4M2038 743v8M2043 745v7M2048 750v6M2054 753v1M2059 748v6M2065 752v2M2070 741v8M2076 747v8M2081 743v9M2086 745v9M2093 743v9M2098 747v5M2103 746v8M2109 747v6M2115 744v9M2119 749v4M2124 745v4M2131 742v7M2135 747v4M2142 747v4M2147 750v3M2153 743v8M2158 749v4M2164 748v5M2170 752v2M2175 741v8M2181 743v8M2186 747v3M2192 748v2M2197 745v5M2203 743v9M2207 748v4M2212 748v3M2219 743v8M2224 753v2M2230 746v8M2235 742v9M2240 743v8M2246 752v4M2252 743v7M2257 748v2M2263 743v8M2269 746v5M2274 748v2M2279 745v8M2285 745v6M2290 742v9M2296 740v9M2302 746v2M2306 743v7M2313 749v1M2318 749v3M2323 750v2" stroke="#ff8c00"/><path d="M1377 859v6M1399 858v6M1427 858v6M1449 856v8M1483 859v8M1493 861v7M1499 860v6M1504 860v8M1527 860v8M1543 860v8M1548 860v6M1565 856v8M1581 861v6M1614 857v8M1630 857v6M1647 854v8M1669 859v8M1680 859v8M1708 858v7M1719 855v7M1751 855v8M1757 856v6M1762 859v8M1768 858v6M1773 858v8M1779 857v9M1785 859v8M1789 860v5M1823 855v8M1845 859v8M1862 856v6M1878 861v8M1883 860v8M1894 860v6M1949 858v7M1960 859v9M1971 858v6M1983 856v9M1988 856v7M2004 856v7M2009 857v6M2021 859v6M2054 856v7M2081 855v9M2103 857v6M2109 856v7M2119 858v7M2135 860v8M2142 859v6M2153 858v6M2164 859v8M2170 854v6M2192 856v8M2197 857v6M2235 854v6M2246 855v6M2252 857v9M2269 859v7M2290 859v6M2302 857v6M2306 859v6M2313 859v8" stroke="#ff8c00"/><path d="M1372 750v112M1377 750v112M1384 748v113M1389 749v114M1394 748v114M1399 750v111M1405 749v111M1411 753v105M1416 753v107M1421 753v106M1427 750v111M1433 750v111M1438 752v108M1444 752v109M1449 749v110M1455 748v111M1460 749v111M1466 750v110M1471 756v104M1477 752v109M1483 750v112M1487 753v109M1493 750v114M1499 749v114M1504 750v113M1510 750v109M1515 749v109M1521 750v111M1527 749v113M1531 754v110M1538 750v113M1543 749v114M1548 749v114M1554 752v112M1559 752v110M1565 752v107M1570 752v107M1576 750v112M1581 750v114M1586 753v105M1593 752v110M1598 753v109M1602 752v111M1608 754v107M1614 750v110M1620 749v110M1625 749v111M1630 750v110M1636 754v105M1642 752v109M1647 751v106M1652 751v109M1658 750v110M1663 751v110M1669 752v110M1675 752v110M1680 751v111M1685 754v107M1691 748v115M1697 749v114M1703 748v114M1708 748v113M1713 750v110M1719 750v108M1724 753v109M1730 750v112M1735 750v111M1741 753v105M1746 748v110M1751 748v110M1757 750v109M1762 752v110M1768 750v111M1773 751v110M1779 753v107M1785 750v112M1789 751v112M1796 750v111M1801 751v110M1807 751v111M1812 751v112M1818 752v106M1823 750v107M1828 752v110M1834 752v111M1839 747v115M1845 748v114M1851 749v113M1856 750v112M1862 749v110M1867 749v111M1872 748v113M1878 749v114M1883 752v111M1889 749v113M1894 753v110M1900 752v110M1905 753v105M1910 752v106M1916 748v110M1921 752v105M1927 751v108M1933 753v106M1938 750v111M1943 751v111M1949 754v107M1954 752v105M1960 751v111M1965 751v111M1971 752v109M1976 751v109M1983 752v107M1988 751v108M1993 752v108M1998 751v108M2004 750v108M2009 751v109M2016 751v108M2021 749v113M2026 751v111M2032 752v110M2038 750v111M2043 751v109M2048 755v107M2054 754v105M2059 753v107M2065 753v108M2070 748v113M2076 754v109M2081 751v107M2086 753v107M2093 751v108M2098 751v110M2103 753v107M2109 752v107M2115 752v109M2119 752v108M2124 748v114M2131 748v113M2135 750v113M2142 750v112M2147 752v110M2153 750v111M2158 752v105M2164 752v110M2170 754v103M2175 748v113M2181 750v110M2186 750v109M2192 749v110M2197 749v111M2203 751v109M2207 751v108M2212 751v108M2219 750v111M2224 754v108M2230 753v109M2235 750v107M2240 750v111M2246 755v103M2252 749v111M2257 750v109M2263 750v110M2269 750v112M2274 749v113M2279 753v109M2285 750v113M2290 750v112M2296 748v111M2302 747v113M2306 749v113M2313 750v112M2318 751v112M2323 751v111" stroke="#0000ff"/><path d="M1372 753v116M1377 752v118M1384 753v120M1389 754v116M1394 755v112M1399 752v117M1405 752v119M1411 757v110M1416 757v109M1421 758v108M1427 755v116M1433 755v117M1438 757v115M1444 756v113M1449 751v117M1455 753v118M1460 752v116M1466 754v112M1471 757v113M1477 754v114M1483 755v118M1487 756v115M1493 752v122M1499 755v117M1504 753v121M1510 755v113M1515 755v112M1521 754v119M1527 752v120M1531 757v114M1538 751v123M1543 753v120M1548 754v118M1554 758v116M1559 756v114M1565 754v115M1570 757v113M1576 755v116M1581 755v115M1586 755v110M1593 756v118M1598 758v116M1602 756v115M1608 754v118M1614 752v113M1620 755v116M1625 751v116M1630 754v116M1636 756v110M1642 752v114M1647 753v115M1652 754v116M1658 752v116M1663 753v120M1669 755v115M1675 756v116M1680 754v118M1685 757v113M1691 753v120M1697 751v119M1703 752v118M1708 751v123M1713 754v117M1719 756v109M1724 756v115M1730 752v117M1735 752v120M1741 756v112M1746 754v112M1751 752v115M1757 755v115M1762 754v118M1768 755v115M1773 753v116M1779 757v110M1785 753v117M1789 755v115M1796 754v119M1801 752v116M1807 757v113M1812 756v117M1818 756v110M1823 755v110M1828 755v115M1834 756v113M1839 751v122M1845 750v124M1851 753v120M1856 755v116M1862 754v112M1867 752v118M1872 751v120M1878 754v121M1883 757v112M1889 753v121M1894 755v118M1900 756v117M1905 757v107M1910 757v107M1916 754v116M1921 757v107M1927 753v112M1933 757v115M1938 753v117M1943 754v116M1949 758v111M1954 754v112M1960 757v114M1965 753v117M1971 754v112M1976 753v117M1983 756v114M1988 756v110M1993 756v116M1998 757v109M2004 755v114M2009 755v114M2016 753v116M2021 755v115M2026 754v116M2032 755v117M2038 754v117M2043 755v114M2048 756v115M2054 757v112M2059 756v115M2065 754v117M2070 754v116M2076 757v113M2081 754v111M2086 755v112M2093 754v114M2098 754v113M2103 758v112M2109 753v117M2115 754v117M2119 753v116M2124 753v119M2131 753v122M2135 752v121M2142 755v115M2147 755v117M2153 754v115M2158 756v113M2164 756v114M2170 758v109M2175 752v120M2181 752v114M2186 755v114M2192 752v113M2197 755v116M2203 753v118M2207 753v114M2212 754v110M2219 754v113M2224 756v117M2230 756v116M2235 755v110M2240 752v119M2246 757v112M2252 753v118M2257 753v116M2263 752v118M2269 752v119M2274 753v116M2279 757v116M2285 756v114M2290 752v120M2296 751v118M2302 751v119M2306 752v118M2313 754v117M2318 752v120M2323 753v121" stroke="#ff0000" opacity=".25"/><path d="M1372 753v116M1377 755v111M1384 755v115M1389 755v114M1394 752v115M1399 755v111M1405 755v111M1411 758v106M1416 756v108M1421 757v107M1427 754v112M1433 754v114M1438 757v107M1444 755v110M1449 753v113M1455 755v112M1460 753v115M1466 756v110M1471 757v110M1477 757v111M1483 757v112M1487 759v111M1493 754v115M1499 753v116M1504 753v118M1510 755v108M1515 755v107M1521 755v115M1527 753v114M1531 759v109M1538 755v116M1543 755v111M1548 753v118M1554 758v110M1559 755v110M1565 758v105M1570 755v112M1576 757v109M1581 755v113M1586 755v106M1593 755v116M1598 757v113M1602 756v113M1608 758v111M1614 755v110M1620 754v112M1625 754v112M1630 755v112M1636 759v104M1642 754v111M1647 756v106M1652 754v113M1658 754v111M1663 754v114M1669 757v110M1675 759v106M1680 756v112M1685 756v115M1691 752v114M1697 754v114M1703 753v113M1708 753v116M1713 753v113M1719 755v106M1724 756v110M1730 754v117M1735 753v113M1741 759v106M1746 754v112M1751 752v114M1757 756v107M1762 756v109M1768 753v114M1773 755v110M1779 756v107M1785 755v113M1789 755v112M1796 756v114M1801 753v114M1807 758v112M1812 758v113M1818 758v108M1823 755v109M1828 757v112M1834 756v114M1839 751v118M1845 754v117M1851 754v113M1856 752v119M1862 753v114M1867 753v112M1872 752v116M1878 753v117M1883 757v110M1889 755v115M1894 755v112M1900 757v110M1905 755v108M1910 755v111M1916 751v111M1921 755v107M1927 754v113M1933 759v105M1938 754v112M1943 753v112M1949 756v110M1954 754v109M1960 757v110M1965 756v108M1971 759v105M1976 755v108M1983 757v109M1988 757v110M1993 757v109M1998 754v108M2004 756v105M2009 755v111M2016 754v109M2021 756v112M2026 757v110M2032 757v111M2038 753v112M2043 754v113M2048 759v111M2054 758v105M2059 758v108M2065 755v114M2070 753v112M2076 757v114M2081 757v109M2086 756v112M2093 757v107M2098 756v112M2103 759v106M2109 757v109M2115 756v107M2119 755v112M2124 753v112M2131 753v114M2135 753v115M2142 754v113M2147 758v107M2153 756v110M2158 756v110M2164 754v117M2170 755v110M2175 756v114M2181 753v115M2186 755v109M2192 754v112M2197 753v114M2203 756v114M2207 755v108M2212 757v109M2219 756v110M2224 756v109M2230 758v111M2235 755v109M2240 755v111M2246 758v103M2252 755v112M2257 753v109M2263 753v114M2269 752v117M2274 754v115M2279 758v110M2285 756v111M2290 753v117M2296 752v114M2302 754v113M2306 754v116M2313 753v115M2318 757v109M2323 756v112" stroke="#ff0000" opacity=".5"/><path d="M1372 754v112M1377 757v106M1384 754v113M1389 754v113M1394 753v110M1399 757v105M1405 755v110M1411 757v105M1416 757v105M1421 758v105M1427 757v107M1433 755v107M1438 756v107M1444 757v107M1449 756v108M1455 757v108M1460 755v110M1466 756v107M1471 758v104M1477 755v107M1483 757v108M1487 759v108M1493 756v111M1499 757v109M1504 754v113M1510 755v108M1515 756v104M1521 755v109M1527 755v110M1531 759v110M1538 757v110M1543 756v108M1548 756v112M1554 756v110M1559 756v108M1565 758v104M1570 757v106M1576 755v110M1581 757v111M1586 756v104M1593 757v110M1598 759v104M1602 758v110M1608 758v108M1614 757v108M1620 756v106M1625 756v106M1630 757v104M1636 759v103M1642 758v103M1647 755v105M1652 754v111M1658 754v111M1663 757v108M1669 755v111M1675 756v107M1680 755v109M1685 757v111M1691 753v112M1697 753v113M1703 755v111M1708 755v109M1713 755v108M1719 758v105M1724 758v106M1730 754v112M1735 757v110M1741 759v104M1746 754v109M1751 754v110M1757 757v105M1762 758v106M1768 754v110M1773 757v106M1779 760v104M1785 754v110M1789 755v109M1796 755v108M1801 755v111M1807 756v108M1812 757v110M1818 756v104M1823 758v105M1828 758v109M1834 759v107M1839 756v111M1845 755v111M1851 755v111M1856 753v115M1862 755v108M1867 754v110M1872 755v111M1878 754v114M1883 756v107M1889 754v113M1894 756v108M1900 757v106M1905 758v102M1910 759v103M1916 756v105M1921 758v100M1927 755v106M1933 756v108M1938 755v109M1943 757v108M1949 757v106M1954 758v105M1960 756v107M1965 756v107M1971 757v108M1976 754v108M1983 760v102M1988 755v110M1993 757v107M1998 756v105M2004 756v103M2009 758v103M2016 758v102M2021 757v110M2026 755v107M2032 755v109M2038 757v108M2043 755v109M2048 762v103M2054 759v102M2059 759v106M2065 759v105M2070 756v110M2076 757v107M2081 757v107M2086 758v106M2093 757v106M2098 756v109M2103 759v102M2109 758v106M2115 758v104M2119 757v109M2124 757v109M2131 753v110M2135 755v109M2142 755v110M2147 757v108M2153 756v110M2158 755v107M2164 756v111M2170 757v106M2175 754v111M2181 756v109M2186 754v106M2192 756v104M2197 757v107M2203 755v108M2207 756v107M2212 757v104M2219 755v109M2224 758v109M2230 757v108M2235 755v105M2240 756v106M2246 760v103M2252 756v108M2257 757v107M2263 756v108M2269 756v110M2274 756v109M2279 756v108M2285 758v108M2290 757v107M2296 755v106M2302 753v112M2306 754v110M2313 755v109M2318 757v111M2323 755v113" stroke="#ff0000" opacity=".6"/><path d="M1372 756v108M1377 758v103M1384 758v107M1389 755v110M1394 757v107M1399 754v107M1405 755v106M1411 759v103M1416 758v102M1421 758v101M1427 756v105M1433 756v108M1460 755v106M1466 758v103M1471 761v103M1477 757v107M1483 756v108M1487 761v102M1493 757v109M1499 755v108M1504 755v110M1510 755v109M1515 759v102M1521 755v109M1527 757v107M1531 758v108M1538 757v109M1543 755v107M1548 757v107M1554 760v105M1559 758v106M1565 757v104M1570 758v103M1576 756v107M1581 758v105M1586 758v102M1593 757v107M1598 757v108M1602 759v106M1608 758v104M1614 758v104M1620 757v104M1625 755v107M1630 756v107M1636 760v100M1642 758v103M1647 758v103M1652 758v104M1658 756v107M1663 758v103M1669 757v107M1685 759v107M1691 755v107M1697 754v108M1703 757v107M1708 757v107M1724 758v105M1730 758v107M1735 757v104M1741 760v102M1746 757v105M1751 754v105M1757 755v107M1762 756v106M1768 756v108M1773 757v104M1779 758v106M1785 756v108M1789 757v106M1796 759v103M1801 759v103M1807 759v107M1812 756v107M1823 756v104M1828 760v104M1834 758v105M1839 757v106M1845 753v110M1851 756v109M1856 754v109M1862 755v105M1867 757v104M1872 756v105M1878 756v107M1883 759v105M1889 756v106M1894 757v105M1900 760v102M1905 759v100M1910 757v106M1916 757v103M1921 757v103M1927 758v102M1933 758v104M1938 756v108M1943 757v106M1949 760v101M1954 756v106M1960 758v107M1965 758v104M1971 758v102M1976 759v103M1983 759v102M1993 759v105M1998 758v102M2004 759v100M2009 757v106M2016 757v104M2021 758v106M2026 760v104M2032 758v105M2038 758v105M2043 758v106M2048 761v103M2054 758v103M2059 759v104M2065 759v105M2070 756v107M2081 759v103M2086 760v104M2093 756v104M2098 758v104M2103 761v100M2109 757v107M2115 760v101M2119 757v106M2124 757v107M2131 757v105M2135 758v105M2142 757v104M2147 760v103M2153 758v103M2164 756v110M2170 760v99M2175 754v109M2181 756v107M2186 756v103M2192 757v105M2197 756v105M2203 757v104M2207 755v104M2212 757v105M2219 756v105M2224 760v102M2230 761v105M2235 757v103M2240 758v103M2246 760v101M2252 756v108M2257 756v106M2263 757v104M2269 756v108M2285 758v107M2296 754v109M2302 756v107M2306 755v108M2313 755v109M2318 757v106M2323 759v107" stroke="#ff0000" opacity=".6"/><path d="M1399 758v102M1405 758v103M1427 759v98M1433 762v97M1460 761v97M1466 762v98M1471 764v96M1477 762v98M1483 762v97M1487 762v101M1493 762v99M1499 759v103M1504 759v103M1510 759v98M1515 760v100M1521 760v100M1527 759v101M1531 762v99M1538 759v101M1543 758v102M1548 761v102M1570 762v95M1576 759v101M1586 761v96M1593 760v103M1598 761v99M1602 762v101M1608 761v98M1614 759v99M1652 758v101M1669 761v99M1697 757v104M1724 764v98M1730 758v103M1762 759v103M1768 759v100M1773 761v97M1779 764v95M1785 759v103M1789 759v101M1807 762v98M1812 760v102M1823 759v97M1828 760v103M1839 757v104M1845 758v104M1851 760v99M1856 760v102M1862 760v97M1867 760v98M1872 759v99M1900 761v100M1905 761v94M1910 760v99M1938 759v103M1943 759v100M1949 761v98M1954 762v96M1960 760v101M1965 759v100M1971 761v97M1976 759v101M1983 762v97M2004 761v96M2009 762v98M2016 759v98M2032 759v100M2059 761v100M2065 763v97M2070 761v99M2081 759v99M2086 762v98M2093 760v99M2109 761v97M2115 763v96M2119 759v103M2131 760v100M2147 763v99M2153 760v99M2175 761v99M2181 760v100M2207 760v96M2224 764v96M2230 761v99M2235 762v95M2240 758v104M2246 764v95M2252 757v104M2257 757v102M2285 760v100M2313 759v100M2318 761v100M2323 762v100" stroke="#ff0000" opacity=".5"/></g></g>
<defs><clipPath id="c20"><rect x="307.4" y="1063.7" width="963.1" height="396.5"/></clipPath></defs><g clip-path="url(#c20)"><g class="d" stroke-width="7" filter="url(#bl)"><path d="M1175 1104v9M1229 1111v6" stroke="#00ff00"/><path d="M460 1359v7M543 1364v7M1136 1356v7" stroke="#00ff00"/><path d="M345 1104v7M373 1102v9M460 1106v8M565 1108v6M741 1109v8M949 1156v8M1076 1108v8M1125 1118v6" stroke="#ff8c00"/><path d="M559 1352v9M565 1354v7M702 1368v9M868 1370v8M884 1358v7M888 1366v7M928 1365v7M977 1359v8M1032 1364v5M1043 1365v8M1143 1359v8M1218 1361v8M1235 1358v6" stroke="#ff8c00"/><path d="M312 1126v237M317 1111v258M323 1111v258M329 1122v250M333 1114v257M340 1128v243M345 1108v258M351 1110v258M356 1112v249M362 1110v246M367 1111v247M373 1108v248M378 1116v242M384 1115v254M390 1124v246M394 1109v261M400 1113v257M405 1131v235M410 1111v257M417 1117v239M421 1115v251M428 1123v241M433 1120v245M438 1120v235M444 1125v244M450 1110v260M455 1111v262M460 1111v250M466 1109v255M472 1111v254M477 1109v262M482 1113v260M487 1111v262M493 1125v233M498 1122v243M505 1123v237M509 1117v240M516 1123v236M521 1118v248M527 1117v247M532 1119v246M538 1124v243M543 1124v243M548 1133v225M554 1125v236M559 1123v232M565 1111v246M570 1112v248M576 1119v237M581 1128v232M586 1110v260M592 1110v256M598 1121v249M603 1121v237M608 1127v237M615 1119v246M620 1112v254M625 1115v249M630 1124v245M636 1126v227M642 1123v238M647 1120v235M653 1118v245M658 1113v255M663 1113v242M670 1115v245M675 1109v245M680 1115v237M686 1111v258M692 1132v237M697 1109v248M702 1114v257M707 1118v248M714 1120v246M719 1125v238M724 1127v229M730 1110v253M735 1111v256M741 1114v252M746 1119v238M752 1123v243M757 1124v244M763 1112v259M768 1112v259M774 1118v249M779 1117v257M784 1122v243M790 1123v251M796 1128v241M801 1110v260M806 1110v264M812 1112v260M817 1111v250M824 1115v256M829 1118v236M834 1112v253M840 1134v224M845 1114v251M850 1122v233M856 1124v235M862 1118v255M868 1113v260M873 1115v260M879 1115v245M884 1115v246M888 1113v256M895 1113v242M901 1117v249M906 1113v259M912 1117v240M917 1118v242M923 1135v235M928 1159v209M933 1172v199M939 1173v198M944 1172v194M949 1161v201M956 1116v242M961 1117v251M967 1113v249M972 1114v245M977 1128v234M982 1122v241M988 1127v232M993 1115v258M998 1118v240M1004 1122v240M1010 1125v233M1015 1121v253M1021 1123v238M1027 1113v248M1032 1133v234M1038 1122v247M1043 1112v256M1048 1113v260M1054 1125v243M1059 1120v245M1065 1118v245M1070 1112v247M1076 1113v255M1082 1110v256M1087 1123v239M1093 1117v247M1098 1123v248M1104 1128v244M1109 1110v249M1115 1117v254M1120 1116v236M1125 1121v245M1131 1110v251M1136 1108v250M1143 1111v250M1147 1115v239M1153 1115v242M1158 1116v240M1164 1118v242M1169 1113v250M1175 1110v250M1180 1111v252M1186 1112v249M1192 1118v250M1197 1114v244M1203 1108v259M1208 1110v252M1214 1116v243M1218 1118v246M1224 1115v246M1229 1114v254M1235 1120v241M1240 1120v250M1246 1113v256M1252 1108v263M1258 1112v252M1263 1115v254" stroke="#0000ff"/><path d="M312 1116v237M317 1103v256M323 1104v247M329 1111v248M333 1109v252M340 1118v236M345 1100v257M351 1104v252M356 1102v250M362 1103v239M367 1102v240M373 1098v244M378 1111v241M384 1104v250M390 1120v241M394 1098v253M400 1104v244M405 1118v231M410 1102v261M417 1106v239M421 1106v249M428 1114v243M433 1115v239M438 1110v231M444 1115v237M450 1103v254M455 1103v257M460 1102v243M466 1102v254M472 1103v249M477 1099v251M482 1103v253M487 1103v256M493 1118v230M498 1113v233M505 1113v241M509 1110v232M516 1116v226M521 1108v242M527 1113v243M532 1110v242M538 1117v239M543 1117v241M548 1125v220M554 1114v239M559 1118v221M565 1101v247M570 1106v239M576 1107v237M581 1121v223M586 1103v258M592 1101v246M598 1113v236M603 1114v232M608 1115v230M615 1113v243M620 1103v254M625 1104v245M630 1119v232M636 1114v225M642 1119v233M647 1111v227M653 1106v246M658 1106v248M663 1103v241M670 1105v235M675 1104v248M680 1103v238M686 1106v257M692 1122v238M697 1100v241M702 1109v244M707 1110v249M714 1110v240M719 1114v235M724 1119v221M730 1105v244M735 1104v249M741 1106v247M746 1108v242M752 1116v232M757 1114v245M763 1103v249M768 1107v251M774 1113v236M779 1110v245M784 1110v235M790 1117v241M796 1116v235M801 1100v252M806 1105v257M812 1100v256M817 1100v255M824 1108v252M829 1106v236M834 1103v256M840 1127v227M845 1103v249M850 1116v228M856 1112v242M862 1107v256M868 1107v255M873 1105v251M879 1107v247M884 1104v238M888 1103v247M895 1106v235M901 1108v253M906 1104v259M912 1108v241M917 1109v235M923 1127v230M928 1152v212M933 1170v188M939 1169v183M944 1165v196M949 1153v188M956 1104v246M961 1109v248M967 1105v243M972 1107v233M977 1119v230M982 1112v245M988 1117v225M993 1105v258M998 1108v241M1004 1114v231M1010 1117v226M1015 1112v253M1021 1114v236M1027 1104v239M1032 1122v229M1038 1113v241M1043 1102v256M1048 1101v258M1054 1113v245M1059 1114v234M1065 1114v240M1070 1105v242M1076 1106v243M1082 1105v253M1087 1118v236M1093 1106v240M1098 1111v252M1104 1117v243M1109 1099v246M1115 1105v260M1120 1104v235M1125 1113v233M1131 1098v259M1136 1101v250M1143 1099v246M1147 1106v235M1153 1108v239M1158 1106v235M1164 1109v232M1169 1103v254M1175 1102v247M1180 1101v249M1186 1101v248M1192 1112v240M1197 1106v239M1203 1103v251M1208 1101v244M1214 1105v246M1218 1108v241M1224 1107v244M1229 1105v253M1235 1113v234M1240 1109v252M1246 1102v258M1252 1101v250M1258 1104v252M1263 1106v254" stroke="#ff0000" opacity=".22"/><path d="M312 1161v175M317 1152v186M323 1150v196M329 1153v178M333 1154v188M340 1154v192M345 1149v199M351 1156v171M356 1154v179M362 1144v177M367 1157v179M373 1149v182M378 1146v184M384 1150v200M390 1158v192M394 1158v187M400 1148v194M405 1160v169M410 1147v188M417 1145v175M421 1152v197M428 1153v187M433 1151v192M438 1159v176M444 1156v196M450 1151v186M455 1145v190M460 1147v183M466 1155v191M472 1148v181M477 1157v176M482 1157v189M487 1146v202M493 1149v187M498 1163v185M505 1148v184M509 1148v199M516 1159v164M521 1160v184M527 1157v183M532 1147v179M538 1151v198M543 1160v174M548 1152v177M554 1154v191M559 1150v177M565 1147v188M570 1158v180M576 1147v173M581 1152v191M586 1146v201M592 1151v187M598 1153v174M603 1149v183M608 1151v189M615 1157v180M620 1157v187M625 1149v192M630 1152v199M636 1161v178M642 1154v183M647 1161v184M653 1161v185M658 1158v187M663 1160v171M670 1147v190M675 1150v184M680 1156v177M686 1157v184M692 1155v177M697 1154v183M702 1147v200M707 1148v192M714 1151v178M719 1157v191M724 1163v157M730 1159v182M735 1152v195M741 1150v200M746 1153v184M752 1161v189M757 1163v175M763 1152v189M768 1149v191M774 1151v186M779 1155v200M784 1157v177M790 1148v197M796 1164v168M801 1156v201M806 1147v207M812 1148v204M817 1151v189M824 1162v193M829 1151v191M834 1149v190M840 1159v163M845 1161v180M850 1163v181M856 1154v178M862 1161v188M868 1147v211M873 1158v184M879 1158v178M884 1147v179M888 1154v192M895 1150v193M901 1160v173M906 1156v176M912 1155v175M917 1158v190M923 1161v181M928 1156v186M933 1146v186M939 1146v199M944 1152v201M949 1150v174M956 1150v193M961 1154v178M967 1149v194M972 1160v172M977 1152v171M982 1164v173M988 1154v189M993 1160v191M998 1160v185M1004 1159v173M1010 1161v167M1015 1154v191M1021 1162v176M1027 1151v191M1032 1158v177M1038 1150v187M1043 1150v190M1048 1150v198M1054 1150v202M1059 1157v178M1065 1151v177M1070 1156v185M1076 1153v178M1082 1153v196M1087 1157v170M1093 1157v181M1098 1155v200M1104 1154v188M1109 1147v187M1115 1147v186M1120 1155v165M1125 1153v181M1131 1150v196M1136 1148v185M1143 1156v169M1147 1151v176M1153 1144v192M1158 1151v189M1164 1158v183M1169 1144v184M1175 1151v182M1180 1148v203M1186 1151v197M1192 1146v186M1197 1148v193M1203 1145v189M1208 1155v193M1214 1159v188M1218 1155v171M1224 1161v164M1229 1153v179M1235 1149v186M1240 1150v195M1246 1157v172M1252 1151v177M1258 1145v198M1263 1158v184" stroke="#ff0000" opacity=".5"/><path d="M312 1166v161M317 1166v164M323 1155v178M329 1165v157M333 1163v178M340 1156v187M345 1152v187M351 1162v179M356 1154v156M362 1153v161M367 1150v181M373 1157v175M378 1164v149M384 1153v182M390 1158v167M394 1155v180M400 1152v172M405 1162v177M410 1156v171M417 1155v162M421 1164v171M428 1154v174M433 1167v151M438 1164v167M444 1159v172M450 1162v159M455 1160v183M460 1163v159M466 1164v164M472 1156v165M477 1159v172M482 1152v173M487 1158v172M493 1158v176M498 1168v160M505 1161v164M509 1159v175M516 1156v168M521 1169v150M527 1158v167M532 1160v167M538 1162v177M543 1157v175M548 1159v158M554 1156v169M559 1164v171M565 1158v166M570 1163v150M576 1161v156M581 1170v147M586 1162v160M592 1165v173M598 1169v161M603 1161v149M608 1164v160M615 1162v165M620 1167v174M625 1166v171M630 1162v163M636 1159v173M642 1160v156M647 1154v159M653 1168v165M658 1162v152M663 1155v163M670 1157v165M675 1163v168M680 1160v152M686 1165v174M692 1165v155M697 1156v166M702 1160v175M707 1155v178M714 1166v154M719 1166v163M724 1155v170M730 1152v174M735 1163v163M741 1156v167M746 1167v155M752 1168v150M757 1170v152M763 1162v165M768 1159v173M774 1158v185M779 1163v164M784 1167v167M790 1165v167M796 1159v158M801 1153v173M806 1164v181M812 1167v161M817 1166v172M824 1167v169M829 1158v176M834 1166v176M840 1172v155M845 1156v172M850 1156v174M856 1164v154M862 1156v171M868 1160v180M873 1154v171M879 1166v152M884 1164v175M888 1164v172M895 1169v151M901 1159v175M906 1168v160M912 1162v166M917 1156v158M923 1173v169M928 1162v181M933 1166v156M939 1160v164M944 1158v169M949 1160v160M956 1164v162M961 1167v161M967 1165v174M972 1168v151M977 1169v146M982 1158v171M988 1166v172M993 1156v182M998 1156v161M1004 1165v169M1010 1171v156M1015 1160v169M1021 1167v161M1027 1157v161M1032 1165v172M1038 1161v172M1043 1155v187M1048 1166v179M1054 1156v185M1059 1157v180M1065 1155v172M1070 1165v145M1076 1166v170M1082 1158v156M1087 1156v180M1093 1165v160M1098 1156v185M1104 1167v157M1109 1156v169M1115 1161v157M1120 1161v152M1125 1158v157M1131 1155v182M1136 1150v177M1143 1151v170M1147 1163v160M1153 1154v170M1158 1164v155M1164 1158v176M1169 1165v163M1175 1160v174M1180 1161v172M1186 1156v171M1192 1154v171M1197 1155v176M1203 1156v157M1208 1165v159M1214 1161v156M1218 1167v167M1224 1154v182M1229 1167v164M1235 1153v171M1240 1161v157M1246 1160v176M1252 1157v166M1258 1165v155M1263 1154v187" stroke="#ff0000" opacity=".6"/><path d="M312 1165v158M317 1167v136M323 1161v159M329 1167v141M333 1170v135M340 1166v156M345 1161v148M351 1167v140M356 1164v143M362 1170v142M367 1161v147M373 1168v144M378 1168v142M384 1165v148M390 1167v138M394 1161v150M400 1171v138M405 1164v148M410 1168v142M417 1162v155M421 1171v147M428 1166v156M433 1170v134M438 1164v151M444 1169v147M450 1170v141M455 1168v146M460 1167v156M466 1169v147M472 1173v129M477 1170v156M498 1175v133M505 1164v157M509 1167v153M516 1170v149M521 1169v148M527 1171v133M532 1164v151M538 1170v135M543 1167v145M548 1166v149M554 1171v134M559 1170v140M565 1169v133M570 1162v150M576 1167v148M581 1173v128M586 1166v136M592 1167v156M598 1173v145M603 1170v144M608 1172v133M615 1174v149M620 1172v146M625 1173v139M630 1164v139M636 1167v137M642 1163v149M647 1174v133M653 1174v142M658 1167v148M663 1172v136M670 1170v141M675 1162v146M680 1165v149M686 1165v135M692 1171v142M697 1165v143M702 1168v143M707 1163v154M714 1165v155M719 1163v138M724 1174v145M730 1166v157M735 1168v156M741 1169v134M746 1167v142M752 1174v148M757 1176v148M763 1161v156M768 1171v134M774 1166v141M779 1174v143M784 1168v149M790 1171v151M796 1173v131M801 1166v160M806 1172v137M812 1166v144M817 1164v157M824 1174v147M829 1172v137M834 1166v148M840 1165v156M845 1162v157M850 1170v150M856 1174v147M862 1172v154M868 1174v135M873 1163v164M879 1167v151M884 1172v151M888 1165v144M895 1175v145M901 1170v137M906 1165v146M912 1175v146M928 1165v161M933 1170v148M944 1161v159M949 1172v149M956 1166v153M961 1165v143M967 1166v141M972 1174v143M977 1166v148M982 1169v145M988 1176v141M993 1170v147M998 1172v148M1004 1166v150M1010 1167v137M1015 1175v150M1021 1174v147M1027 1168v141M1032 1165v142M1038 1165v139M1043 1164v145M1048 1172v136M1054 1169v142M1059 1164v153M1065 1169v132M1070 1167v144M1076 1163v151M1082 1164v157M1087 1175v141M1093 1161v163M1098 1165v147M1104 1174v137M1109 1163v145M1115 1161v145M1120 1169v141M1125 1164v142M1131 1161v145M1136 1168v139M1143 1166v134M1147 1167v143M1153 1166v153M1158 1170v144M1164 1160v156M1169 1172v145M1175 1169v152M1180 1171v142M1186 1167v149M1192 1163v153M1197 1169v145M1203 1172v134M1208 1164v150M1214 1166v149M1218 1166v134M1224 1161v143M1229 1170v147M1235 1170v137M1240 1174v145M1246 1164v137M1252 1167v143M1258 1160v160M1263 1166v142" stroke="#ff0000" opacity=".6"/><path d="M312 1173v127M317 1169v126M323 1175v129M329 1175v136M333 1168v139M340 1174v122M345 1171v136M351 1174v119M367 1172v131M373 1175v126M378 1174v119M390 1177v131M394 1169v126M400 1173v123M405 1172v123M410 1176v119M417 1171v117M421 1170v125M428 1171v138M433 1177v125M438 1173v127M444 1174v130M450 1169v134M455 1175v129M460 1167v135M466 1174v121M472 1170v141M477 1174v134M505 1180v127M509 1173v136M516 1171v127M521 1172v134M527 1175v134M532 1180v112M538 1174v128M554 1171v138M559 1175v122M565 1177v122M576 1172v125M581 1171v124M586 1177v122M592 1175v127M598 1177v118M603 1169v121M620 1179v118M625 1173v120M642 1172v119M647 1168v136M653 1171v136M658 1175v132M663 1178v113M670 1175v123M675 1174v126M692 1179v124M697 1172v131M707 1173v120M714 1174v126M724 1173v116M730 1179v123M735 1169v139M741 1171v124M746 1172v123M752 1174v123M757 1170v134M763 1172v121M768 1176v122M784 1172v121M790 1179v119M812 1177v134M817 1174v134M829 1170v124M834 1171v132M840 1181v111M845 1180v124M850 1171v127M856 1175v118M862 1172v132M873 1179v131M888 1178v131M895 1171v131M901 1173v136M906 1178v129M912 1176v129M956 1171v129M961 1176v119M967 1172v126M972 1174v130M977 1179v126M982 1177v128M988 1183v117M993 1181v112M998 1178v123M1004 1171v124M1021 1178v130M1027 1173v118M1032 1181v131M1038 1174v127M1043 1172v128M1048 1179v122M1054 1180v132M1059 1173v135M1070 1180v126M1076 1173v137M1082 1177v133M1087 1174v135M1093 1176v129M1098 1173v119M1104 1171v140M1109 1170v136M1115 1172v135M1120 1168v130M1125 1173v125M1131 1175v115M1136 1177v116M1143 1171v124M1147 1173v127M1153 1177v117M1158 1166v141M1164 1176v128M1186 1169v133M1192 1170v122M1197 1171v124M1203 1168v123M1208 1170v133M1214 1168v123M1218 1170v136M1224 1168v122M1229 1176v124M1235 1168v131M1246 1169v124M1252 1178v122" stroke="#ff0000" opacity=".6"/></g></g>
<defs><clipPath id="c21"><rect x="1367.8" y="1063.7" width="962.7" height="396.5"/></clipPath></defs><g clip-path="url(#c21)"><g class="d" stroke-width="7" filter="url(#bl)"><path d="M1784 1186v9M1884 1189v9M2097 1188v7" stroke="#00ff00"/><path d="M1411 1328v8" stroke="#00ff00"/><path d="M1471 1188v7M1521 1191v6M1554 1193v7M1839 1188v7M2262 1191v8" stroke="#ff8c00"/><path d="M1433 1328v6M1625 1328v6M1735 1328v5M1762 1325v6M1768 1328v8M1845 1326v5M1851 1327v6M1889 1325v7M1938 1327v8M1961 1329v8M1983 1328v5M2037 1327v7M2042 1325v6M2119 1328v5M2191 1324v6M2229 1327v6M2245 1324v7M2301 1328v7M2317 1327v5" stroke="#ff8c00"/><path d="M1372 1192v137M1378 1192v139M1383 1192v138M1389 1194v134M1394 1193v135M1399 1192v138M1405 1193v137M1411 1193v138M1416 1192v139M1422 1193v139M1428 1192v139M1433 1193v137M1438 1193v139M1444 1195v131M1449 1192v139M1455 1198v132M1460 1195v136M1465 1196v135M1471 1192v138M1477 1199v133M1483 1196v131M1488 1196v132M1494 1195v132M1498 1198v129M1504 1194v133M1510 1194v138M1516 1193v138M1521 1194v133M1527 1197v134M1532 1196v134M1537 1192v139M1543 1193v135M1548 1194v132M1554 1197v134M1560 1193v138M1565 1194v135M1569 1194v134M1576 1195v134M1581 1197v134M1587 1193v139M1592 1192v137M1597 1192v137M1604 1196v130M1608 1194v133M1615 1197v132M1620 1193v136M1625 1198v133M1631 1194v137M1636 1194v136M1641 1194v137M1647 1193v136M1652 1193v137M1658 1197v134M1663 1196v134M1669 1197v133M1674 1198v133M1680 1198v134M1686 1192v138M1691 1194v134M1696 1195v137M1702 1195v137M1707 1199v131M1713 1194v136M1718 1194v137M1725 1193v137M1729 1193v137M1735 1195v136M1740 1198v129M1746 1194v134M1751 1194v138M1756 1193v135M1762 1192v136M1768 1195v136M1773 1194v138M1779 1193v139M1784 1192v137M1790 1193v137M1796 1194v138M1801 1195v136M1807 1194v138M1812 1193v139M1817 1194v137M1823 1194v137M1828 1193v134M1834 1191v137M1839 1193v135M1845 1195v134M1851 1193v137M1856 1193v137M1861 1191v141M1867 1193v138M1872 1194v138M1878 1195v138M1884 1195v135M1889 1197v131M1895 1197v133M1900 1196v135M1906 1195v134M1911 1197v131M1917 1197v135M1922 1196v135M1927 1195v136M1933 1195v138M1938 1193v137M1944 1193v137M1950 1194v135M1955 1192v139M1961 1193v139M1966 1194v137M1971 1193v135M1977 1192v137M1983 1195v136M1988 1198v134M1993 1195v133M1998 1197v133M2004 1194v135M2009 1194v134M2015 1196v133M2021 1197v134M2027 1193v137M2031 1195v137M2037 1193v137M2042 1195v133M2049 1195v134M2054 1194v137M2059 1199v133M2064 1196v134M2070 1195v135M2075 1193v135M2081 1192v136M2087 1191v136M2092 1192v136M2097 1192v137M2103 1193v136M2108 1193v137M2114 1197v134M2119 1196v135M2126 1197v134M2130 1195v133M2137 1193v136M2141 1195v134M2147 1192v140M2153 1191v140M2159 1192v139M2164 1193v139M2169 1192v137M2175 1192v136M2180 1193v136M2186 1193v139M2191 1195v131M2196 1195v134M2202 1195v134M2208 1193v133M2213 1193v136M2219 1192v138M2224 1192v139M2229 1193v137M2234 1198v131M2241 1197v135M2245 1194v133M2252 1197v131M2257 1197v132M2262 1196v134M2269 1194v133M2274 1193v136M2279 1192v135M2284 1194v134M2290 1194v135M2296 1193v134M2301 1193v137M2306 1192v138M2313 1194v133M2317 1197v133M2323 1193v136" stroke="#0000ff"/><path d="M1372 1200v143M1378 1202v143M1383 1203v140M1389 1201v141M1394 1203v135M1399 1203v140M1405 1204v142M1411 1203v141M1416 1200v144M1422 1203v145M1428 1202v147M1433 1204v144M1438 1201v147M1444 1204v136M1449 1200v148M1455 1207v140M1460 1203v140M1465 1205v143M1471 1201v146M1477 1205v142M1483 1205v133M1488 1204v136M1494 1204v136M1498 1206v137M1504 1201v138M1510 1201v147M1516 1204v143M1521 1202v135M1527 1206v139M1532 1205v138M1537 1203v143M1543 1201v139M1548 1203v138M1554 1203v140M1560 1200v146M1565 1202v142M1569 1203v139M1576 1201v140M1581 1206v139M1587 1204v139M1592 1203v142M1597 1202v143M1604 1205v134M1608 1202v140M1615 1205v136M1620 1204v136M1625 1207v139M1631 1202v143M1636 1201v144M1641 1202v140M1647 1203v142M1652 1201v141M1658 1206v139M1663 1205v142M1669 1205v142M1674 1204v141M1680 1206v139M1686 1202v142M1691 1201v141M1696 1204v142M1702 1203v142M1707 1208v135M1713 1203v142M1718 1205v142M1725 1202v146M1729 1203v140M1735 1203v140M1740 1205v135M1746 1202v137M1751 1200v143M1756 1203v139M1762 1204v135M1768 1203v143M1773 1202v143M1779 1202v144M1784 1200v143M1790 1201v140M1796 1203v140M1801 1203v144M1807 1201v144M1812 1204v141M1817 1204v140M1823 1201v147M1828 1202v137M1834 1201v141M1839 1202v139M1845 1206v138M1851 1201v144M1856 1201v146M1861 1201v147M1867 1203v145M1872 1203v145M1878 1202v143M1884 1202v144M1889 1206v137M1895 1203v139M1900 1204v141M1906 1206v140M1911 1203v139M1917 1204v144M1922 1204v144M1927 1202v141M1933 1201v144M1938 1204v142M1944 1201v143M1950 1202v143M1955 1203v142M1961 1203v143M1966 1201v148M1971 1201v140M1977 1200v141M1983 1203v142M1988 1208v139M1993 1203v137M1998 1205v137M2004 1204v138M2009 1202v143M2015 1204v138M2021 1203v145M2027 1202v145M2031 1203v142M2037 1203v141M2042 1204v135M2049 1204v141M2054 1202v142M2059 1206v140M2064 1205v142M2070 1203v138M2075 1205v136M2081 1203v136M2087 1202v138M2092 1200v142M2097 1203v138M2103 1200v144M2108 1203v139M2114 1205v139M2119 1203v145M2126 1206v142M2130 1206v136M2137 1202v140M2141 1204v137M2147 1201v143M2153 1203v145M2159 1202v142M2164 1203v142M2169 1201v141M2175 1201v143M2180 1203v141M2186 1203v142M2191 1202v139M2196 1203v140M2202 1205v139M2208 1203v133M2213 1203v143M2219 1204v140M2224 1203v141M2229 1202v143M2234 1207v137M2241 1206v140M2245 1205v135M2252 1206v133M2257 1204v135M2262 1206v136M2269 1204v138M2274 1203v142M2279 1202v141M2284 1202v138M2290 1204v138M2296 1205v133M2301 1204v143M2306 1202v144M2313 1204v135M2317 1204v141M2323 1200v142" stroke="#ff0000" opacity=".25"/><path d="M1372 1206v132M1378 1205v134M1383 1203v136M1389 1204v133M1394 1203v135M1399 1205v132M1405 1205v133M1411 1205v135M1416 1204v135M1422 1206v134M1428 1205v137M1433 1205v136M1438 1207v130M1444 1207v128M1449 1205v133M1455 1209v131M1460 1205v133M1465 1206v135M1471 1206v135M1477 1209v132M1483 1205v128M1488 1207v129M1494 1205v129M1498 1208v129M1504 1207v128M1510 1203v139M1516 1206v132M1521 1205v128M1527 1206v132M1532 1207v134M1537 1206v134M1543 1204v131M1548 1207v130M1554 1208v133M1560 1204v139M1565 1204v134M1569 1205v128M1576 1205v133M1581 1209v132M1587 1207v133M1592 1206v132M1597 1204v130M1604 1206v131M1608 1206v131M1615 1210v126M1620 1205v132M1625 1208v133M1631 1205v137M1636 1207v133M1641 1205v134M1647 1207v131M1652 1205v130M1658 1207v134M1663 1206v131M1669 1208v134M1674 1208v134M1680 1208v134M1686 1205v133M1691 1204v134M1696 1207v134M1702 1206v137M1707 1211v127M1713 1207v132M1718 1206v135M1725 1207v132M1729 1206v132M1735 1208v132M1740 1207v128M1746 1207v128M1751 1206v134M1756 1204v130M1762 1206v131M1768 1207v135M1773 1206v134M1779 1207v132M1784 1204v131M1790 1204v135M1796 1206v136M1801 1207v133M1807 1205v132M1812 1206v136M1817 1205v133M1823 1204v139M1828 1205v128M1834 1204v136M1839 1203v134M1845 1208v129M1851 1204v134M1856 1206v131M1861 1205v134M1867 1204v137M1872 1205v135M1878 1208v133M1884 1208v130M1889 1207v129M1895 1206v131M1900 1206v137M1906 1208v130M1911 1208v131M1917 1209v129M1922 1209v133M1927 1206v135M1933 1207v133M1938 1206v131M1944 1206v134M1950 1207v129M1955 1204v137M1961 1206v137M1966 1205v132M1971 1206v132M1977 1203v132M1983 1205v137M1988 1210v132M1993 1207v127M1998 1206v134M2004 1206v132M2009 1208v131M2015 1208v130M2021 1207v133M2027 1205v132M2031 1207v134M2037 1206v135M2042 1207v129M2049 1205v132M2054 1205v132M2059 1210v128M2064 1208v133M2070 1208v129M2075 1207v132M2081 1207v130M2087 1205v132M2092 1206v132M2097 1206v129M2103 1203v132M2108 1203v132M2114 1209v131M2119 1207v134M2126 1206v134M2130 1207v129M2137 1205v130M2141 1208v128M2147 1204v137M2153 1206v132M2159 1203v136M2164 1204v134M2169 1205v129M2175 1205v132M2180 1205v131M2186 1206v133M2191 1209v128M2196 1205v133M2202 1207v130M2208 1205v128M2213 1203v134M2219 1206v130M2224 1204v137M2229 1207v129M2234 1207v133M2241 1208v130M2245 1208v129M2252 1206v130M2257 1207v130M2262 1210v127M2269 1205v131M2274 1208v132M2279 1206v132M2284 1205v128M2290 1206v131M2296 1205v131M2301 1206v135M2306 1204v139M2313 1207v132M2317 1209v128M2323 1206v132" stroke="#ff0000" opacity=".5"/><path d="M1372 1208v126M1378 1205v130M1383 1205v129M1389 1206v125M1394 1207v127M1399 1205v130M1405 1209v127M1411 1209v125M1416 1207v128M1422 1205v130M1428 1206v130M1433 1208v125M1438 1205v130M1444 1208v121M1449 1205v131M1455 1211v124M1460 1206v128M1465 1208v128M1471 1208v128M1477 1210v127M1483 1209v123M1488 1209v124M1494 1209v123M1498 1210v121M1504 1208v123M1510 1208v128M1516 1208v127M1521 1210v121M1527 1209v126M1532 1210v123M1537 1208v129M1543 1207v124M1548 1209v123M1554 1211v125M1560 1205v133M1565 1206v129M1569 1210v122M1576 1210v123M1581 1209v125M1587 1207v127M1592 1206v128M1597 1206v129M1604 1209v119M1608 1207v125M1615 1209v123M1620 1207v125M1625 1210v125M1631 1210v125M1636 1206v130M1641 1208v125M1647 1207v127M1652 1208v124M1658 1210v126M1663 1210v125M1669 1209v126M1674 1208v126M1680 1210v124M1686 1207v129M1691 1208v125M1696 1209v127M1702 1209v127M1707 1212v120M1713 1210v126M1718 1207v128M1725 1206v128M1729 1208v125M1735 1209v127M1740 1211v122M1746 1206v127M1751 1208v126M1756 1208v125M1762 1207v127M1768 1208v128M1773 1208v129M1779 1208v126M1784 1207v125M1790 1206v130M1796 1209v127M1801 1210v126M1807 1209v126M1812 1207v130M1817 1207v127M1823 1206v132M1828 1209v122M1834 1205v128M1839 1206v126M1845 1208v124M1851 1208v127M1856 1208v127M1861 1207v131M1867 1205v131M1872 1207v132M1878 1207v128M1884 1208v127M1889 1211v122M1895 1209v126M1900 1209v127M1906 1211v123M1911 1209v126M1917 1212v126M1922 1212v126M1927 1206v129M1933 1208v130M1938 1207v130M1944 1208v128M1950 1208v124M1955 1205v131M1961 1208v126M1966 1208v129M1971 1207v124M1977 1208v124M1983 1209v128M1988 1212v126M1993 1209v122M1998 1211v122M2004 1210v124M2009 1207v127M2015 1210v121M2021 1211v126M2027 1205v132M2031 1207v129M2037 1207v125M2042 1209v121M2049 1210v121M2054 1210v124M2059 1212v123M2064 1210v126M2070 1210v122M2075 1207v128M2081 1205v125M2087 1208v122M2092 1205v129M2097 1206v125M2103 1207v123M2108 1208v124M2114 1210v127M2119 1209v126M2126 1209v128M2130 1209v125M2137 1205v127M2141 1210v123M2147 1207v127M2153 1207v130M2159 1206v131M2164 1207v130M2169 1207v125M2175 1207v126M2180 1208v127M2186 1208v127M2191 1210v121M2196 1208v126M2202 1206v130M2208 1208v121M2213 1208v128M2219 1208v127M2224 1208v128M2229 1206v130M2234 1209v126M2241 1210v125M2245 1208v123M2252 1209v124M2257 1212v122M2262 1212v124M2269 1208v123M2274 1210v125M2279 1207v127M2284 1208v126M2290 1209v125M2296 1206v123M2301 1209v129M2306 1206v128M2313 1207v124M2317 1210v122M2323 1208v125" stroke="#ff0000" opacity=".6"/><path d="M1372 1207v125M1378 1210v122M1383 1209v124M1389 1211v117M1394 1209v122M1399 1208v124M1405 1210v122M1411 1208v123M1416 1210v122M1422 1207v127M1428 1209v125M1433 1210v123M1438 1209v123M1444 1212v117M1449 1210v122M1455 1212v123M1460 1210v123M1465 1212v120M1471 1210v121M1477 1215v119M1488 1211v118M1494 1210v120M1498 1214v116M1504 1211v118M1510 1211v123M1516 1208v125M1521 1211v120M1527 1213v118M1532 1211v123M1537 1209v124M1543 1210v122M1548 1210v119M1554 1214v120M1560 1210v125M1565 1210v121M1569 1211v117M1576 1211v118M1581 1212v120M1587 1209v124M1592 1207v125M1597 1209v123M1604 1212v115M1608 1210v121M1615 1211v117M1620 1211v119M1625 1215v117M1631 1210v125M1636 1210v123M1641 1210v124M1647 1209v122M1652 1210v123M1658 1213v120M1663 1211v122M1669 1211v122M1674 1212v120M1680 1212v121M1686 1208v124M1691 1208v123M1696 1209v124M1702 1210v123M1707 1215v117M1713 1208v124M1718 1209v125M1725 1210v121M1729 1209v122M1735 1212v122M1740 1214v117M1746 1209v122M1751 1209v125M1756 1210v118M1762 1208v122M1768 1210v124M1773 1207v128M1779 1211v124M1784 1207v124M1790 1206v127M1807 1208v124M1812 1208v125M1817 1210v123M1823 1210v122M1828 1210v122M1834 1208v123M1839 1207v125M1845 1211v122M1851 1211v120M1856 1211v122M1861 1207v126M1867 1208v127M1872 1212v121M1878 1212v123M1884 1212v118M1889 1210v121M1895 1213v119M1900 1210v125M1906 1210v123M1911 1211v119M1917 1211v121M1922 1211v123M1927 1210v124M1933 1209v125M1938 1211v122M1944 1210v122M1950 1210v120M1955 1210v123M1961 1210v123M1966 1210v123M1971 1208v121M1977 1207v125M1993 1210v120M1998 1212v117M2004 1209v121M2009 1209v121M2015 1212v118M2021 1211v123M2027 1209v125M2031 1208v124M2037 1210v122M2042 1211v117M2049 1210v121M2054 1209v122M2059 1212v121M2064 1211v124M2070 1212v121M2075 1208v123M2081 1209v120M2097 1209v121M2103 1210v122M2108 1209v124M2114 1214v120M2119 1211v123M2126 1209v125M2137 1209v122M2141 1211v120M2147 1210v125M2153 1207v127M2159 1207v126M2164 1209v122M2169 1208v122M2175 1211v119M2180 1209v122M2186 1208v127M2191 1212v118M2196 1211v119M2202 1210v123M2208 1208v119M2224 1209v124M2229 1211v123M2234 1212v121M2241 1211v121M2245 1210v120M2252 1214v115M2257 1214v116M2262 1211v121M2269 1211v121M2274 1209v121M2279 1211v119M2284 1210v121M2290 1210v122M2296 1209v122M2301 1209v123M2306 1209v125M2313 1212v117M2317 1213v120M2323 1209v122" stroke="#ff0000" opacity=".6"/><path d="M1372 1209v118M1378 1211v119M1383 1211v117M1389 1211v117M1394 1212v116M1405 1213v117M1411 1214v113M1416 1211v116M1422 1211v119M1428 1212v119M1433 1212v117M1438 1214v117M1455 1214v117M1471 1212v118M1477 1217v115M1488 1216v109M1504 1212v115M1510 1211v119M1532 1215v114M1537 1213v116M1543 1211v117M1548 1214v111M1554 1214v118M1565 1210v118M1569 1214v113M1581 1215v116M1587 1212v120M1592 1213v118M1608 1213v116M1615 1216v113M1620 1211v117M1647 1210v119M1652 1213v117M1663 1216v112M1669 1217v112M1674 1217v114M1686 1213v118M1691 1213v114M1696 1215v116M1702 1212v116M1707 1215v113M1725 1214v115M1729 1213v115M1746 1212v114M1751 1214v118M1756 1212v114M1762 1211v117M1807 1213v116M1812 1213v116M1817 1211v117M1823 1213v118M1828 1213v113M1834 1210v119M1856 1214v117M1861 1210v122M1867 1211v118M1872 1213v116M1895 1215v113M1900 1215v115M1906 1215v113M1911 1215v113M1922 1216v114M1927 1214v115M1933 1213v116M1938 1213v115M1944 1212v116M1950 1213v114M1961 1211v121M1966 1212v120M1977 1213v115M1993 1213v114M1998 1214v114M2015 1215v114M2031 1215v115M2037 1213v116M2054 1214v113M2059 1217v112M2064 1213v119M2070 1215v112M2075 1213v115M2108 1212v116M2114 1217v111M2119 1215v113M2126 1215v115M2137 1211v118M2141 1214v113M2169 1212v116M2175 1211v117M2191 1214v111M2196 1214v116M2202 1214v116M2208 1214v112M2224 1213v116M2229 1212v119M2234 1213v117M2241 1214v116M2262 1217v111M2269 1211v117M2279 1212v116M2284 1215v113M2290 1214v115M2296 1211v117M2306 1212v118M2323 1212v115" stroke="#ff0000" opacity=".5"/></g></g>
<defs><clipPath id="c30"><rect x="307.4" y="1519.8" width="963.1" height="396.3"/></clipPath></defs><g clip-path="url(#c30)"><g class="d" stroke-width="7" filter="url(#bl)"><path d="M394 1555v7M399 1565v9M1054 1567v9M1076 1596v6M1198 1548v10" stroke="#00ff00"/><path d="M548 1820v9M762 1839v9M933 1816v5" stroke="#00ff00"/><path d="M510 1555v7M774 1581v7M785 1562v6M1120 1594v8M1241 1584v8" stroke="#ff8c00"/><path d="M439 1802v6M488 1828v8M548 1820v8M592 1824v7M685 1800v5M747 1822v7M790 1832v9M851 1839v8M883 1831v6M895 1806v7M939 1832v6M961 1804v6M966 1825v6M1203 1802v5M1225 1841v7M1236 1805v9" stroke="#ff8c00"/><path d="M312 1582v222M318 1600v224M323 1558v276M328 1562v274M334 1571v260M340 1587v221M345 1581v225M350 1580v242M356 1564v269M361 1565v270M367 1591v234M372 1580v222M378 1598v233M384 1567v254M389 1563v282M394 1559v275M399 1571v265M405 1571v240M411 1588v233M417 1563v269M423 1564v264M428 1567v233M433 1578v229M439 1582v223M444 1585v239M449 1562v269M454 1554v281M461 1565v243M466 1577v223M472 1586v242M477 1566v255M482 1557v282M488 1564v266M493 1586v214M498 1579v222M504 1576v243M510 1559v275M515 1563v265M520 1555v274M527 1581v226M532 1587v246M537 1573v236M543 1563v271M548 1560v263M554 1579v232M559 1579v230M565 1587v243M570 1575v260M576 1570v261M582 1603v207M587 1583v224M592 1599v228M597 1591v226M603 1560v268M608 1559v279M614 1594v228M619 1581v222M625 1595v232M631 1564v258M636 1566v262M642 1561v268M647 1573v231M653 1579v230M658 1598v220M664 1563v278M669 1558v282M675 1564v253M680 1569v234M685 1576v227M691 1581v258M696 1569v265M702 1563v273M707 1575v235M713 1578v233M719 1570v254M724 1564v275M730 1573v258M735 1577v241M741 1586v219M747 1587v238M752 1566v237M757 1561v278M762 1561v281M768 1574v242M774 1585v230M779 1601v228M785 1565v264M790 1564v271M795 1564v270M801 1571v238M807 1578v229M812 1584v251M818 1573v269M823 1571v265M829 1576v240M834 1592v224M840 1575v254M845 1564v263M851 1554v288M857 1552v262M861 1572v239M867 1577v236M873 1587v238M878 1573v255M883 1560v273M889 1561v273M895 1581v228M900 1597v230M906 1563v264M912 1564v270M916 1561v280M923 1570v238M927 1586v229M933 1575v243M939 1561v274M943 1560v281M950 1559v260M956 1594v218M961 1582v225M966 1598v230M971 1570v263M978 1564v272M982 1566v267M988 1574v238M994 1602v203M999 1576v255M1004 1564v274M1010 1562v262M1015 1593v219M1021 1572v243M1026 1579v231M1032 1560v255M1038 1568v273M1043 1559v282M1049 1602v211M1054 1573v235M1059 1585v244M1065 1572v271M1070 1565v280M1076 1599v216M1081 1574v236M1088 1593v233M1092 1600v241M1098 1561v285M1104 1566v260M1109 1593v221M1115 1578v233M1120 1599v231M1125 1570v265M1131 1564v275M1137 1558v281M1142 1577v228M1147 1597v210M1153 1588v228M1159 1557v284M1164 1561v282M1169 1566v248M1175 1579v220M1180 1600v231M1187 1574v265M1192 1565v269M1198 1555v282M1203 1582v223M1208 1575v236M1213 1588v243M1220 1561v276M1225 1561v283M1230 1567v251M1236 1580v228M1241 1589v216M1247 1565v260M1252 1561v280M1257 1557v277M1263 1565v252" stroke="#0000ff"/><path d="M312 1577v217M318 1595v216M323 1556v259M328 1560v268M334 1570v248M340 1584v223M345 1580v214M350 1577v243M356 1557v262M361 1561v263M367 1587v226M372 1575v213M378 1597v218M384 1565v242M389 1558v274M394 1557v267M399 1566v256M405 1566v242M411 1582v226M417 1561v257M423 1561v250M428 1561v232M433 1576v218M439 1579v225M444 1582v231M449 1558v258M454 1548v274M461 1562v241M466 1577v213M472 1580v236M477 1564v255M482 1554v281M488 1561v255M493 1585v215M498 1576v214M504 1570v237M510 1554v268M515 1561v251M520 1553v269M527 1576v221M532 1582v236M537 1570v239M543 1562v257M548 1555v255M554 1576v223M559 1573v230M565 1581v238M570 1569v252M576 1567v260M582 1596v202M587 1580v215M592 1593v226M597 1587v222M603 1558v254M608 1553v276M614 1591v220M619 1579v211M625 1591v227M631 1557v260M636 1562v262M642 1557v266M647 1567v235M653 1579v215M658 1593v207M664 1559v265M669 1556v268M675 1558v250M680 1568v229M685 1576v214M691 1576v254M696 1565v263M702 1559v265M707 1569v229M713 1574v235M719 1568v250M724 1561v267M730 1569v255M735 1574v235M741 1582v218M747 1585v231M752 1562v228M757 1558v264M762 1554v280M768 1569v241M774 1583v225M779 1595v221M785 1561v253M790 1560v261M795 1559v270M801 1567v228M807 1575v220M812 1583v235M818 1567v266M823 1567v255M829 1571v241M834 1589v224M840 1572v248M845 1559v251M851 1554v277M857 1551v255M861 1570v238M867 1571v227M873 1581v234M878 1566v244M883 1558v257M889 1555v261M895 1578v218M900 1592v226M906 1560v257M912 1560v269M916 1557v270M923 1569v235M927 1583v218M933 1571v233M939 1558v270M943 1555v276M950 1554v262M956 1589v207M961 1580v225M966 1596v223M971 1563v265M978 1558v270M982 1563v259M988 1570v236M994 1600v204M999 1574v243M1004 1560v263M1010 1557v250M1015 1588v215M1021 1565v250M1026 1572v227M1032 1555v255M1038 1564v261M1043 1554v275M1049 1595v209M1054 1568v232M1059 1578v239M1065 1567v261M1070 1561v268M1076 1595v209M1081 1571v223M1088 1586v234M1092 1597v231M1098 1558v270M1104 1565v248M1109 1590v210M1115 1577v224M1120 1595v221M1125 1564v255M1131 1558v265M1137 1553v283M1142 1571v232M1147 1594v208M1153 1587v219M1159 1552v276M1164 1559v278M1169 1561v252M1175 1575v224M1180 1599v229M1187 1568v263M1192 1559v266M1198 1554v272M1203 1581v219M1208 1571v229M1213 1582v235M1220 1556v264M1225 1556v275M1230 1567v239M1236 1574v224M1241 1582v215M1247 1560v247M1252 1557v278M1257 1552v267M1263 1562v238" stroke="#ff0000" opacity=".22"/><path d="M312 1605v196M318 1601v205M323 1600v217M328 1590v225M334 1601v214M340 1600v194M345 1598v200M350 1604v209M356 1601v214M361 1594v223M367 1608v212M372 1598v197M378 1604v208M384 1590v214M389 1597v228M394 1590v228M399 1597v215M405 1593v216M411 1608v199M417 1596v219M423 1591v220M428 1598v205M433 1605v188M439 1595v196M444 1601v211M449 1596v210M454 1597v227M461 1600v200M466 1600v202M472 1602v218M477 1588v230M482 1595v215M488 1594v217M493 1598v205M498 1599v198M504 1604v199M510 1597v208M515 1598v204M520 1592v218M527 1592v200M532 1598v216M537 1591v217M543 1595v213M548 1586v228M554 1600v196M559 1602v209M565 1602v202M570 1594v218M576 1599v207M582 1615v182M587 1603v201M592 1602v214M597 1608v200M603 1593v226M608 1592v220M614 1600v214M619 1602v194M625 1611v190M631 1599v215M636 1594v224M642 1591v222M647 1593v210M653 1592v206M658 1599v198M664 1594v224M669 1592v220M675 1600v203M680 1596v203M685 1605v185M691 1602v223M696 1600v207M702 1588v224M707 1592v212M713 1596v207M719 1597v206M724 1595v216M730 1593v219M735 1595v204M741 1608v194M747 1603v200M752 1591v219M757 1590v225M762 1593v236M768 1602v205M774 1599v206M779 1611v205M785 1596v220M790 1592v217M795 1604v214M801 1602v195M807 1597v203M812 1598v218M818 1603v222M823 1595v225M829 1593v205M834 1610v188M840 1602v204M845 1601v216M851 1589v235M857 1593v207M861 1592v221M867 1599v210M873 1595v222M878 1591v219M883 1600v213M889 1596v212M895 1604v192M900 1602v205M906 1592v230M912 1595v216M916 1589v236M923 1592v220M927 1606v199M933 1593v211M939 1600v208M943 1595v232M950 1587v222M956 1607v206M961 1595v209M966 1599v222M971 1601v216M978 1593v224M982 1589v220M988 1591v222M994 1601v200M999 1598v225M1004 1594v219M1010 1601v206M1015 1603v212M1021 1602v214M1026 1592v217M1032 1590v212M1038 1595v224M1043 1594v235M1049 1614v194M1054 1601v209M1059 1604v213M1065 1604v223M1070 1601v221M1076 1606v193M1081 1592v209M1088 1597v220M1092 1599v221M1098 1600v214M1104 1603v212M1109 1601v201M1115 1593v204M1120 1609v208M1125 1591v223M1131 1600v223M1137 1597v221M1142 1597v197M1147 1598v198M1153 1608v189M1159 1599v219M1164 1590v231M1169 1596v202M1175 1593v196M1180 1607v199M1187 1600v223M1192 1597v216M1198 1589v234M1203 1600v194M1208 1596v202M1213 1604v210M1220 1592v221M1225 1601v228M1230 1602v216M1236 1592v215M1241 1596v205M1247 1592v213M1252 1590v234M1257 1591v224M1263 1596v204" stroke="#ff0000" opacity=".5"/><path d="M312 1611v186M318 1617v176M323 1601v211M328 1609v205M334 1610v194M340 1614v183M345 1612v178M350 1610v183M356 1597v213M361 1604v195M367 1614v184M372 1599v187M378 1610v184M384 1607v200M389 1605v194M394 1601v199M399 1606v192M405 1606v186M411 1602v193M417 1607v198M423 1605v188M428 1609v189M433 1603v194M439 1604v194M444 1604v193M449 1608v190M454 1606v187M461 1600v195M466 1598v188M472 1605v203M477 1601v201M482 1604v206M488 1606v187M493 1605v188M498 1608v190M504 1611v192M510 1595v202M515 1606v202M520 1594v201M527 1607v194M532 1605v193M537 1604v198M543 1605v191M548 1606v201M554 1598v200M559 1608v196M565 1601v197M570 1607v189M576 1606v192M582 1612v187M587 1605v179M592 1617v187M597 1611v179M603 1610v194M608 1606v200M614 1616v192M619 1606v192M625 1605v187M631 1600v200M636 1609v196M642 1610v182M647 1604v180M653 1611v190M658 1605v185M664 1594v215M669 1595v206M675 1602v193M680 1598v202M685 1601v190M691 1603v213M696 1606v199M702 1598v199M707 1612v182M713 1608v185M719 1598v208M724 1598v214M730 1610v202M735 1614v183M741 1615v173M747 1608v184M752 1608v181M757 1603v200M762 1598v217M768 1600v194M774 1616v175M779 1615v198M785 1603v198M790 1598v199M795 1607v200M801 1598v194M807 1601v197M812 1607v193M818 1601v213M823 1599v207M829 1599v192M834 1615v174M840 1603v204M845 1601v200M851 1601v210M857 1606v186M861 1604v189M867 1600v192M873 1611v199M878 1609v194M883 1596v212M889 1608v202M895 1605v191M900 1602v200M906 1601v210M912 1611v188M916 1603v214M923 1606v198M927 1611v178M933 1604v185M939 1599v205M943 1600v203M950 1609v184M956 1605v194M961 1607v188M966 1606v188M971 1606v197M978 1607v200M982 1603v197M988 1607v196M994 1609v185M999 1608v187M1004 1600v201M1010 1603v197M1015 1609v194M1021 1602v190M1026 1613v178M1032 1596v212M1038 1607v206M1043 1605v211M1049 1616v179M1054 1601v197M1059 1600v207M1065 1596v214M1070 1597v214M1076 1604v196M1081 1599v197M1088 1603v196M1092 1609v206M1098 1606v206M1104 1606v194M1109 1606v187M1115 1601v195M1120 1605v190M1125 1607v189M1131 1602v194M1137 1603v198M1142 1606v194M1147 1616v168M1153 1611v183M1159 1608v190M1164 1597v209M1169 1604v200M1175 1603v197M1180 1611v201M1187 1600v203M1192 1597v210M1198 1600v196M1203 1609v185M1208 1597v208M1213 1606v191M1220 1598v212M1225 1603v199M1230 1607v188M1236 1600v188M1241 1606v187M1247 1597v194M1252 1599v211M1257 1600v209M1263 1603v186" stroke="#ff0000" opacity=".6"/><path d="M312 1611v181M318 1611v189M323 1616v183M328 1608v186M334 1617v168M340 1612v171M345 1615v179M350 1618v180M356 1605v186M361 1611v177M367 1621v171M372 1615v164M378 1619v179M384 1604v189M389 1612v188M394 1603v190M399 1609v182M405 1609v171M411 1610v173M417 1611v173M423 1606v190M428 1604v188M433 1610v183M439 1614v174M444 1616v174M449 1607v189M454 1609v178M461 1603v175M477 1615v175M482 1605v190M488 1604v194M493 1605v170M498 1610v180M504 1614v174M510 1613v179M515 1606v185M520 1603v183M527 1615v162M532 1618v173M537 1614v178M543 1615v179M548 1603v186M554 1618v176M559 1607v181M565 1620v171M570 1619v176M576 1615v169M582 1616v172M587 1610v177M592 1619v170M597 1619v169M603 1614v182M608 1606v186M614 1620v163M619 1610v180M625 1614v176M631 1611v172M636 1616v176M642 1608v184M647 1613v171M653 1606v176M658 1610v188M664 1615v177M669 1602v196M675 1603v190M680 1605v176M685 1618v170M691 1610v186M696 1605v195M702 1610v179M707 1614v178M713 1607v178M719 1616v184M724 1615v185M730 1612v175M735 1608v182M741 1615v164M747 1620v166M752 1606v179M757 1616v188M762 1618v169M768 1621v175M774 1613v172M779 1617v174M790 1608v194M795 1609v183M801 1617v168M807 1616v177M812 1616v179M818 1612v191M823 1618v182M829 1612v176M834 1614v170M840 1609v186M845 1605v181M851 1602v193M857 1602v193M861 1606v180M867 1604v186M873 1611v182M878 1604v195M883 1605v191M889 1611v190M895 1619v177M900 1621v172M906 1614v181M923 1609v181M927 1617v167M933 1610v179M939 1609v183M943 1604v191M950 1606v192M956 1623v162M961 1616v175M966 1610v191M971 1610v177M978 1618v179M982 1616v178M988 1609v179M994 1618v174M999 1616v181M1004 1609v190M1010 1607v181M1015 1615v169M1021 1611v175M1026 1616v179M1032 1615v177M1038 1606v188M1054 1607v181M1059 1610v176M1065 1612v190M1070 1616v185M1076 1613v170M1081 1607v179M1088 1609v176M1092 1610v194M1098 1613v188M1104 1616v183M1109 1618v168M1115 1607v190M1120 1622v179M1125 1608v179M1131 1615v187M1137 1607v179M1142 1618v167M1147 1617v172M1153 1610v183M1159 1608v185M1164 1607v180M1169 1604v187M1175 1618v169M1180 1615v185M1187 1614v176M1192 1615v181M1198 1610v179M1203 1618v162M1208 1613v170M1213 1617v175M1220 1610v193M1225 1615v181M1230 1613v172M1236 1611v170M1241 1610v183M1247 1603v193M1252 1610v188M1257 1604v187M1263 1610v172" stroke="#ff0000" opacity=".6"/><path d="M323 1618v162M328 1616v165M334 1620v172M340 1625v150M345 1619v162M350 1618v168M356 1621v162M361 1618v172M367 1624v164M372 1622v164M378 1616v166M384 1616v158M389 1617v162M394 1611v169M399 1611v166M411 1617v166M417 1611v166M423 1620v170M428 1621v160M433 1612v164M439 1612v173M444 1622v152M449 1618v161M454 1614v167M461 1616v167M477 1609v174M482 1609v180M488 1619v164M493 1621v159M498 1613v160M504 1618v166M510 1618v157M515 1611v176M520 1613v172M527 1623v149M532 1619v155M537 1620v164M543 1621v168M559 1622v164M565 1625v162M570 1619v164M576 1618v158M582 1624v155M587 1621v162M592 1621v154M597 1622v157M603 1612v166M614 1624v163M619 1624v152M625 1615v172M631 1614v169M636 1617v172M642 1621v158M647 1619v165M664 1617v163M669 1616v164M675 1611v165M680 1618v166M696 1616v167M702 1622v156M707 1621v168M713 1618v162M719 1615v166M724 1621v165M730 1624v155M735 1623v156M747 1625v150M752 1621v167M757 1614v164M762 1623v156M768 1621v154M774 1625v164M779 1621v161M795 1614v178M801 1616v167M807 1618v163M812 1616v175M818 1624v160M823 1622v163M829 1623v167M834 1617v169M840 1620v167M845 1611v169M851 1620v162M857 1618v157M861 1613v162M867 1620v165M878 1616v161M883 1612v180M889 1615v164M923 1621v162M927 1615v160M933 1615v174M939 1618v173M943 1615v166M950 1622v164M956 1621v163M961 1616v165M966 1621v169M982 1620v164M988 1624v159M994 1625v153M1010 1620v167M1015 1622v155M1032 1619v167M1038 1620v170M1054 1615v159M1070 1614v176M1076 1623v155M1081 1623v160M1092 1621v162M1098 1619v175M1104 1621v161M1109 1624v159M1115 1619v168M1120 1614v168M1125 1620v159M1131 1616v172M1137 1618v171M1142 1616v162M1147 1622v159M1192 1612v179M1198 1621v169M1203 1623v153M1208 1612v173M1213 1624v156M1220 1610v179M1236 1623v152M1247 1615v171M1252 1616v167M1257 1619v172" stroke="#ff0000" opacity=".6"/></g></g>
<defs><clipPath id="c31"><rect x="1367.8" y="1519.8" width="962.7" height="396.3"/></clipPath></defs><g clip-path="url(#c31)"><g class="d" stroke-width="7" filter="url(#bl)"><path d="M1565 1810v8M1741 1813v7M2059 1809v7" stroke="#00ff00"/><path d="M1405 1624v5M1416 1622v7M1449 1621v8M1581 1626v5M1587 1623v7M1752 1625v6M1905 1623v8M2031 1625v6" stroke="#ff8c00"/><path d="M1378 1810v7M1389 1815v7M1400 1811v7M1422 1813v7M1499 1809v7M1669 1812v7M1763 1814v8M1977 1812v8M2103 1812v7M2246 1809v7M2318 1811v8" stroke="#ff8c00"/><path d="M1372 1628v187M1378 1628v184M1384 1629v185M1389 1629v189M1395 1626v188M1400 1627v186M1405 1626v187M1411 1630v183M1416 1627v188M1422 1627v189M1428 1627v185M1432 1628v186M1439 1628v184M1443 1626v186M1449 1626v188M1454 1626v187M1460 1625v187M1466 1626v189M1471 1631v181M1476 1627v185M1483 1626v189M1488 1628v184M1493 1628v184M1499 1628v183M1504 1626v186M1510 1625v191M1515 1628v190M1520 1628v185M1526 1627v188M1532 1624v187M1538 1625v191M1543 1630v188M1548 1630v187M1554 1626v187M1560 1627v188M1565 1626v187M1570 1626v188M1576 1625v191M1581 1628v185M1587 1627v188M1593 1626v184M1597 1628v184M1603 1628v188M1608 1627v189M1614 1627v185M1620 1626v188M1624 1626v184M1631 1626v189M1636 1630v186M1642 1628v185M1646 1626v186M1653 1625v188M1658 1625v186M1663 1625v189M1669 1625v190M1675 1627v185M1680 1627v186M1685 1628v183M1691 1627v189M1696 1627v188M1702 1629v185M1707 1629v182M1713 1629v185M1718 1630v182M1725 1628v188M1729 1628v188M1735 1630v184M1741 1628v188M1746 1628v184M1752 1628v185M1757 1628v188M1763 1630v187M1768 1627v184M1774 1627v188M1779 1627v185M1784 1629v185M1789 1629v185M1795 1627v187M1801 1627v186M1806 1629v184M1812 1625v186M1817 1625v190M1823 1626v190M1828 1625v189M1834 1628v185M1839 1625v188M1845 1626v186M1850 1630v183M1857 1625v185M1861 1625v186M1867 1626v187M1872 1624v188M1878 1625v190M1883 1628v188M1888 1625v189M1895 1626v187M1900 1629v185M1905 1628v184M1910 1629v188M1917 1631v185M1922 1625v187M1928 1627v187M1934 1628v185M1939 1628v188M1944 1625v190M1949 1625v190M1955 1626v186M1960 1628v185M1966 1631v180M1971 1628v185M1977 1627v188M1982 1627v185M1988 1628v185M1993 1626v185M1999 1626v188M2004 1627v190M2009 1627v190M2015 1627v183M2021 1630v184M2027 1629v181M2031 1628v187M2037 1628v187M2043 1630v183M2048 1629v181M2054 1630v182M2059 1627v185M2065 1630v185M2070 1626v190M2076 1626v185M2082 1625v188M2086 1630v182M2093 1628v187M2097 1628v188M2103 1629v186M2109 1630v182M2114 1631v183M2119 1627v185M2125 1626v188M2130 1625v190M2136 1627v183M2141 1626v187M2148 1626v185M2152 1628v182M2159 1627v188M2164 1629v186M2169 1629v182M2175 1630v183M2181 1629v182M2185 1626v189M2190 1626v190M2197 1630v185M2202 1626v186M2207 1625v189M2213 1625v188M2219 1626v190M2224 1626v189M2229 1625v187M2236 1627v185M2240 1628v183M2246 1625v187M2252 1626v187M2256 1629v185M2263 1628v183M2268 1630v183M2273 1628v184M2280 1627v188M2285 1625v191M2291 1628v184M2296 1628v185M2301 1629v183M2306 1629v183M2312 1628v187M2318 1627v187M2323 1628v184" stroke="#0000ff"/><path d="M1372 1645v191M1378 1646v182M1384 1645v188M1389 1645v198M1395 1643v188M1400 1644v189M1405 1641v191M1411 1646v187M1416 1643v196M1422 1643v195M1428 1645v184M1432 1643v192M1439 1644v185M1443 1640v187M1449 1640v201M1454 1644v191M1460 1642v187M1466 1640v198M1471 1647v178M1476 1644v188M1483 1644v191M1488 1643v186M1493 1642v189M1499 1643v186M1504 1641v189M1510 1643v196M1515 1645v196M1520 1645v184M1526 1643v191M1532 1639v190M1538 1640v198M1543 1645v198M1548 1643v194M1554 1644v184M1560 1644v190M1565 1641v189M1570 1642v194M1576 1640v201M1581 1644v189M1587 1641v196M1593 1643v186M1597 1642v185M1603 1645v192M1608 1641v200M1614 1641v187M1620 1642v193M1624 1641v188M1631 1643v194M1636 1647v195M1642 1643v192M1646 1642v184M1653 1643v193M1658 1641v188M1663 1642v194M1669 1642v197M1675 1641v184M1680 1643v191M1685 1645v184M1691 1642v196M1696 1645v194M1702 1645v196M1707 1644v181M1713 1643v187M1718 1646v183M1725 1646v197M1729 1645v197M1735 1644v193M1741 1644v196M1746 1642v189M1752 1642v187M1757 1643v195M1763 1645v194M1768 1645v180M1774 1643v191M1779 1642v186M1784 1646v190M1789 1644v192M1795 1644v191M1801 1641v193M1806 1645v188M1812 1640v184M1817 1642v198M1823 1640v200M1828 1642v193M1834 1644v191M1839 1641v190M1845 1642v187M1850 1645v193M1857 1642v186M1861 1642v188M1867 1640v195M1872 1641v183M1878 1642v199M1883 1645v192M1888 1641v196M1895 1642v191M1900 1646v186M1905 1641v188M1910 1644v197M1917 1647v191M1922 1644v182M1928 1641v197M1934 1643v186M1939 1644v196M1944 1641v198M1949 1643v193M1955 1640v190M1960 1642v190M1966 1647v179M1971 1642v192M1977 1641v198M1982 1642v184M1988 1644v188M1993 1645v183M1999 1642v190M2004 1644v201M2009 1644v198M2015 1642v187M2021 1647v192M2027 1645v181M2031 1644v191M2037 1644v198M2043 1645v187M2048 1645v183M2054 1644v185M2059 1643v186M2065 1644v198M2070 1643v197M2076 1641v189M2082 1642v194M2086 1644v186M2093 1645v195M2097 1644v193M2103 1646v189M2109 1646v183M2114 1646v189M2119 1643v182M2125 1643v189M2130 1642v195M2136 1644v185M2141 1643v188M2148 1641v185M2152 1645v179M2159 1644v194M2164 1645v192M2169 1644v187M2175 1645v185M2181 1644v183M2185 1643v193M2190 1644v198M2197 1646v193M2202 1642v185M2207 1643v188M2213 1640v192M2219 1639v201M2224 1640v199M2229 1642v191M2236 1642v191M2240 1644v184M2246 1641v190M2252 1641v196M2256 1643v193M2263 1643v182M2268 1646v189M2273 1643v183M2280 1640v196M2285 1643v193M2291 1644v183M2296 1643v194M2301 1645v191M2306 1644v183M2312 1643v198M2318 1643v196M2323 1644v185" stroke="#ff0000" opacity=".25"/><path d="M1372 1647v178M1378 1648v173M1384 1647v178M1389 1649v185M1395 1647v177M1400 1645v181M1405 1644v179M1411 1648v175M1416 1647v180M1422 1644v184M1428 1646v177M1432 1646v180M1439 1648v175M1443 1645v174M1449 1646v184M1454 1644v180M1460 1646v175M1466 1646v182M1471 1648v173M1476 1646v176M1483 1644v181M1488 1649v174M1493 1646v177M1499 1646v178M1504 1645v174M1510 1645v187M1515 1647v188M1520 1648v169M1526 1644v179M1532 1644v178M1538 1643v186M1543 1646v187M1548 1649v179M1554 1646v175M1560 1645v184M1565 1647v171M1570 1645v184M1576 1645v185M1581 1646v179M1587 1647v180M1593 1644v178M1597 1648v175M1603 1646v180M1608 1644v186M1614 1643v176M1620 1643v183M1624 1645v175M1631 1644v187M1636 1650v178M1642 1645v181M1646 1642v181M1653 1643v183M1658 1645v175M1663 1644v188M1669 1643v187M1675 1647v175M1680 1645v181M1685 1646v176M1691 1646v186M1696 1645v184M1702 1649v181M1707 1646v174M1713 1649v176M1718 1648v175M1725 1647v186M1729 1648v183M1735 1649v177M1741 1646v185M1746 1648v173M1752 1647v172M1757 1645v186M1763 1648v182M1768 1644v176M1774 1647v182M1779 1645v178M1784 1646v177M1789 1646v183M1795 1645v180M1801 1647v175M1806 1647v180M1812 1643v176M1817 1643v188M1823 1645v188M1828 1645v178M1834 1645v181M1839 1643v177M1845 1645v178M1850 1647v181M1857 1643v178M1861 1643v179M1867 1643v180M1872 1643v178M1878 1644v188M1883 1644v185M1888 1643v186M1895 1645v180M1900 1646v176M1905 1644v179M1910 1648v184M1917 1650v177M1922 1644v177M1928 1645v185M1934 1645v179M1939 1645v185M1944 1643v189M1949 1644v186M1955 1646v176M1960 1647v179M1966 1648v173M1971 1647v179M1977 1645v182M1982 1645v174M1988 1645v180M1993 1645v175M1999 1647v177M2004 1643v188M2009 1647v185M2015 1645v173M2021 1648v178M2027 1646v174M2031 1649v179M2037 1646v182M2043 1650v175M2048 1646v177M2054 1648v173M2059 1647v174M2065 1646v188M2070 1647v180M2076 1647v173M2082 1643v184M2086 1647v174M2093 1647v185M2097 1646v183M2103 1647v180M2109 1649v172M2114 1649v179M2119 1644v174M2125 1644v184M2130 1644v184M2136 1647v175M2141 1644v182M2148 1646v173M2152 1644v173M2159 1647v182M2164 1649v176M2169 1647v175M2175 1646v180M2181 1648v172M2185 1647v180M2190 1645v187M2197 1648v181M2202 1644v174M2207 1646v177M2213 1644v183M2219 1646v186M2224 1646v185M2229 1644v182M2236 1647v177M2240 1647v175M2246 1643v181M2252 1643v182M2256 1650v178M2263 1648v172M2268 1649v179M2273 1647v170M2280 1644v181M2285 1644v183M2291 1648v173M2296 1647v180M2301 1648v174M2306 1646v176M2312 1646v184M2318 1647v181M2323 1648v174" stroke="#ff0000" opacity=".5"/><path d="M1372 1651v170M1378 1650v167M1384 1650v171M1389 1652v171M1395 1649v170M1400 1649v169M1405 1648v171M1411 1650v171M1416 1649v174M1422 1648v173M1428 1647v171M1432 1651v167M1439 1649v167M1443 1648v171M1449 1647v173M1454 1647v172M1460 1648v171M1466 1647v172M1471 1653v166M1476 1651v170M1483 1650v168M1488 1652v167M1493 1649v169M1499 1650v168M1504 1649v167M1510 1647v175M1515 1651v173M1520 1649v167M1526 1650v171M1532 1649v167M1538 1648v172M1543 1651v172M1548 1649v170M1554 1646v171M1560 1650v170M1565 1648v171M1570 1645v174M1576 1647v174M1581 1649v168M1587 1649v171M1593 1648v169M1597 1648v168M1603 1651v168M1608 1648v172M1614 1649v166M1620 1646v173M1624 1649v169M1631 1648v175M1636 1653v168M1642 1650v169M1646 1646v172M1653 1645v173M1658 1647v169M1663 1647v173M1669 1646v175M1675 1647v171M1680 1650v169M1685 1651v168M1691 1649v172M1696 1651v171M1702 1649v171M1707 1649v167M1713 1651v167M1718 1652v164M1725 1650v172M1729 1648v172M1735 1651v171M1741 1649v170M1746 1649v168M1752 1650v170M1757 1651v169M1763 1651v169M1768 1647v171M1774 1648v174M1779 1650v168M1784 1648v172M1789 1650v169M1795 1649v168M1801 1648v172M1806 1650v169M1812 1648v170M1817 1647v174M1823 1647v176M1828 1648v172M1834 1649v170M1839 1648v170M1845 1648v170M1850 1652v168M1857 1649v166M1861 1648v168M1867 1649v169M1872 1648v166M1878 1647v176M1883 1649v172M1888 1647v174M1895 1646v172M1900 1652v169M1905 1648v171M1910 1651v169M1917 1651v170M1922 1650v167M1928 1646v174M1934 1648v169M1939 1648v174M1944 1648v174M1949 1646v172M1955 1646v173M1960 1650v169M1966 1651v166M1971 1651v171M1977 1649v171M1982 1650v169M1988 1647v173M1993 1647v171M1999 1647v174M2004 1649v175M2009 1649v171M2015 1649v168M2021 1652v166M2027 1652v163M2031 1650v170M2037 1647v175M2043 1650v168M2048 1651v168M2054 1650v167M2059 1650v169M2065 1650v170M2070 1648v175M2076 1647v169M2082 1646v175M2086 1649v168M2093 1650v172M2097 1651v170M2103 1653v165M2109 1650v169M2114 1654v168M2119 1647v169M2125 1649v172M2130 1647v173M2136 1648v170M2141 1646v172M2148 1648v171M2152 1648v168M2159 1651v169M2164 1652v166M2169 1651v166M2175 1651v170M2181 1650v165M2185 1648v172M2190 1648v173M2197 1653v168M2202 1647v171M2207 1649v170M2213 1645v175M2219 1648v174M2224 1647v175M2229 1649v168M2236 1649v171M2240 1650v164M2246 1649v168M2252 1647v173M2256 1650v169M2263 1651v165M2268 1652v166M2273 1649v167M2280 1649v172M2285 1648v171M2291 1649v170M2296 1650v171M2301 1649v171M2306 1650v169M2312 1649v171M2318 1648v172M2323 1649v169" stroke="#ff0000" opacity=".6"/><path d="M1372 1649v167M1389 1652v167M1395 1652v162M1400 1649v167M1405 1648v169M1411 1654v160M1416 1652v166M1422 1652v167M1428 1653v162M1432 1653v163M1439 1650v163M1443 1648v167M1449 1648v171M1454 1649v166M1460 1651v165M1466 1649v168M1471 1655v160M1476 1653v164M1483 1650v168M1488 1653v159M1493 1653v163M1499 1651v164M1504 1650v164M1510 1648v169M1520 1654v162M1526 1653v164M1532 1648v166M1538 1647v170M1543 1651v169M1548 1651v168M1554 1648v168M1560 1649v166M1565 1650v165M1570 1651v167M1576 1651v167M1581 1653v161M1587 1652v167M1593 1651v161M1597 1652v164M1603 1653v162M1614 1650v163M1620 1649v166M1624 1648v166M1631 1649v167M1636 1653v162M1642 1651v163M1646 1650v162M1653 1648v168M1658 1649v166M1663 1649v168M1669 1648v169M1675 1652v161M1680 1652v164M1685 1653v160M1691 1653v165M1696 1652v164M1713 1654v163M1718 1653v161M1725 1652v165M1735 1652v166M1741 1652v164M1746 1650v164M1752 1652v162M1757 1653v164M1763 1654v164M1768 1651v165M1774 1651v164M1779 1651v164M1784 1654v161M1789 1653v165M1795 1653v162M1801 1650v163M1806 1652v164M1812 1649v165M1817 1648v169M1823 1648v171M1828 1648v165M1834 1654v161M1839 1651v164M1845 1651v164M1850 1652v166M1861 1648v165M1867 1648v168M1872 1648v166M1878 1648v169M1883 1650v168M1900 1654v163M1905 1650v164M1910 1652v164M1917 1654v164M1922 1650v164M1928 1650v166M1934 1651v165M1939 1651v164M1944 1651v167M1949 1651v164M1955 1650v165M1960 1650v165M1966 1653v162M1971 1652v162M1977 1651v166M1982 1652v162M1988 1652v164M1993 1651v161M1999 1651v165M2004 1651v168M2021 1655v163M2027 1652v163M2031 1651v166M2037 1649v167M2043 1652v164M2048 1653v162M2054 1655v159M2059 1651v162M2065 1654v165M2070 1651v167M2076 1649v167M2082 1649v166M2086 1652v162M2093 1651v168M2097 1650v166M2103 1654v164M2109 1653v162M2114 1653v162M2119 1650v162M2125 1651v166M2130 1650v169M2136 1649v164M2141 1648v166M2148 1652v160M2152 1653v161M2159 1651v164M2164 1652v165M2169 1654v161M2175 1653v162M2181 1651v161M2185 1651v165M2190 1652v166M2197 1652v165M2202 1649v163M2207 1649v168M2213 1648v168M2224 1651v167M2229 1650v167M2236 1653v164M2240 1650v162M2246 1650v162M2252 1649v168M2256 1653v165M2268 1654v162M2273 1650v162M2280 1649v165M2285 1650v168M2291 1654v159M2296 1651v163M2301 1654v162M2306 1652v161M2312 1651v168M2318 1650v168" stroke="#ff0000" opacity=".6"/><path d="M1389 1655v159M1405 1654v159M1411 1657v155M1416 1654v160M1422 1652v162M1428 1653v156M1432 1654v159M1439 1653v158M1443 1653v159M1449 1651v161M1454 1654v159M1460 1652v157M1466 1653v163M1471 1657v155M1488 1656v154M1504 1653v158M1510 1653v161M1520 1657v155M1526 1656v158M1538 1652v164M1543 1654v161M1548 1655v160M1554 1651v162M1560 1653v159M1565 1653v159M1570 1652v160M1576 1652v160M1581 1655v158M1587 1653v162M1593 1652v161M1597 1655v157M1603 1653v161M1624 1652v158M1631 1653v160M1636 1655v161M1642 1656v156M1646 1651v159M1669 1654v158M1675 1652v159M1680 1654v156M1685 1652v160M1691 1655v159M1696 1653v159M1725 1653v163M1735 1654v158M1746 1653v158M1752 1655v157M1757 1654v158M1763 1655v161M1768 1653v159M1774 1655v157M1784 1654v159M1789 1657v156M1795 1655v156M1801 1652v159M1812 1652v160M1817 1653v160M1823 1652v164M1828 1652v161M1834 1655v156M1839 1654v157M1845 1654v157M1850 1655v159M1861 1652v157M1867 1650v161M1872 1654v156M1878 1654v162M1883 1653v161M1910 1655v162M1917 1656v156M1922 1652v158M1928 1654v160M1934 1655v156M1939 1654v158M1944 1653v161M1949 1652v163M1960 1654v157M1971 1653v159M1982 1654v158M1988 1654v157M1993 1655v154M1999 1653v161M2004 1654v160M2043 1656v157M2059 1656v153M2065 1657v157M2070 1654v161M2076 1652v160M2082 1652v159M2086 1657v153M2093 1654v161M2103 1658v155M2109 1655v156M2114 1656v158M2141 1651v161M2148 1652v157M2175 1656v157M2181 1657v152M2185 1652v160M2190 1651v164M2197 1655v158M2202 1655v156M2224 1653v162M2229 1652v158M2236 1653v161M2246 1651v161M2252 1655v156M2256 1654v157M2280 1654v157M2296 1656v158M2301 1655v155M2306 1657v153M2312 1653v160M2318 1653v162" stroke="#ff0000" opacity=".5"/></g></g>
<defs><clipPath id="c40"><rect x="307.4" y="1975.8" width="963.1" height="396.1"/></clipPath></defs><g clip-path="url(#c40)"><g class="d" stroke-width="7" filter="url(#bl)"><path d="M411 1985v9M510 1991v6M681 1990v7M834 2012v9M851 1990v7M857 2000v5M911 1990v7M1197 2015v9" stroke="#00ff00"/><path d="M312 2319v8M372 2310v6M499 2310v7M658 2308v7M884 2339v6M972 2305v9M1010 2304v9" stroke="#00ff00"/><path d="M340 2001v9M389 2009v7M422 2015v6M427 2009v8M521 2008v8M570 2009v7M626 1997v8M740 1987v9M779 2010v8M889 2007v8M977 2006v6M988 2003v6M1000 2006v8M1081 1990v8M1093 1991v8" stroke="#ff8c00"/><path d="M394 2298v7M505 2316v8M647 2335v8M669 2333v6M702 2326v9M812 2330v6M917 2326v7M1010 2304v7M1021 2308v5M1086 2325v9M1098 2328v8M1108 2309v8M1186 2328v5" stroke="#ff8c00"/><path d="M312 2012v310M318 2009v301M323 2012v318M329 2018v318M334 2007v328M340 2007v326M345 2003v322M350 2000v314M356 2000v329M361 1995v321M367 2012v309M372 1991v321M377 2003v321M383 1994v310M389 2013v292M394 2002v299M400 2001v314M405 2004v328M411 1991v325M416 1994v305M422 2018v294M427 2014v290M433 2000v318M439 1997v310M443 1999v309M449 1997v306M455 2003v312M461 1997v321M466 1992v330M472 1989v347M477 1999v324M483 2000v330M488 2008v324M494 2007v316M499 2008v305M505 1994v325M510 1994v329M515 2006v322M521 2014v314M527 2007v316M532 2008v330M537 2001v340M543 2002v338M549 2020v315M553 2021v317M559 2014v323M565 2008v325M570 2013v326M576 2002v326M581 2010v298M587 2017v317M592 2002v325M598 2005v335M604 2000v338M608 1993v316M614 2021v288M619 2016v321M626 2002v334M630 2016v321M636 2003v332M641 1998v329M647 2004v334M653 2007v305M658 2013v298M664 2013v299M669 1994v342M674 1993v348M681 1994v349M686 1994v349M691 2009v332M696 1995v339M702 2006v323M708 2004v328M714 1996v339M719 1995v335M724 2017v318M730 2013v324M735 1993v309M740 1993v322M746 1993v309M752 2006v292M757 2001v331M763 2006v324M768 2010v319M774 2006v297M779 2015v286M785 2017v312M791 2012v322M796 2020v312M801 1994v326M807 2000v311M812 2000v332M817 2016v317M824 2004v329M829 2006v324M834 2018v317M840 2006v326M845 2004v328M851 1994v332M857 2002v307M862 2023v315M868 2019v314M872 2009v331M878 2007v306M884 2009v333M889 2012v303M894 2008v308M901 2009v303M905 1996v317M911 1994v320M917 2000v329M922 1994v327M927 2021v306M933 2010v325M939 2006v315M944 2019v299M950 2017v314M955 1993v326M960 1994v310M966 1994v315M972 2001v307M977 2009v294M983 2010v301M988 2006v321M994 2006v306M1000 2011v313M1004 1991v313M1010 2002v305M1015 1990v313M1021 2009v302M1027 2002v303M1032 2012v291M1038 2016v286M1043 2013v301M1048 2008v319M1054 2020v295M1060 1994v327M1065 1994v306M1071 2002v298M1076 2009v293M1081 1995v330M1086 1989v339M1093 1996v312M1098 2007v324M1103 1993v317M1108 2004v308M1115 1995v316M1120 1996v314M1126 1992v336M1131 1996v320M1137 1990v323M1141 1995v331M1147 1993v340M1154 1996v338M1158 2006v329M1164 2007v325M1169 2013v292M1175 2002v301M1180 2017v288M1186 1998v333M1192 1992v322M1197 2021v279M1202 2011v295M1207 2023v290M1214 2014v295M1219 2011v310M1224 2021v308M1230 2024v303M1235 2012v308M1240 2014v292M1247 2005v316M1252 2009v321M1257 2008v307M1263 2020v300" stroke="#0000ff"/><path d="M312 1977v319M318 1995v270M323 1981v299M329 1989v315M334 1975v336M340 1990v294M345 1991v298M350 1986v304M356 1986v292M361 1970v316M367 1999v282M372 1969v303M377 1975v309M383 1985v280M389 1995v271M394 1979v306M400 1989v276M405 1975v303M411 1985v305M416 1972v295M422 1998v278M427 1985v287M433 1987v306M439 1978v280M443 1971v293M449 1972v286M455 1990v284M461 1991v303M466 1971v310M472 1979v313M477 1985v316M483 1978v314M488 1978v321M494 1975v299M499 1996v268M505 1984v283M510 1969v333M515 1976v320M521 1986v317M527 1983v308M532 1986v324M537 1975v322M543 1971v336M549 1995v311M553 1990v308M559 1988v326M565 1989v312M570 1981v316M576 1985v297M581 1984v279M587 1995v323M592 1985v297M598 1983v308M604 1977v319M608 1974v301M614 2002v261M619 1992v301M626 1974v340M630 1989v316M636 1983v308M641 1991v296M647 1975v309M653 1978v294M658 1988v297M664 1996v269M669 1988v298M674 1983v306M681 1984v317M686 1979v327M691 1986v329M696 1984v316M702 1976v332M708 1979v309M714 1971v345M719 1979v324M724 1996v300M730 1999v285M735 1985v271M740 1977v297M746 1985v285M752 1992v263M757 1973v310M763 1995v297M768 1976v329M774 1979v281M779 1979v289M785 1988v289M791 1987v308M796 1987v300M801 1967v315M807 1989v271M812 1970v325M817 1993v302M824 1985v304M829 1977v328M834 1984v306M840 1994v288M845 1983v315M851 1974v304M857 1992v271M862 1996v303M868 1996v300M872 1989v321M878 1995v286M884 1985v317M889 1985v299M894 1995v273M901 1994v301M905 1986v290M911 1973v295M917 1984v326M922 1989v293M927 1988v295M933 1980v306M939 1977v322M944 1988v310M950 1992v302M955 1977v314M960 1980v303M966 1976v289M972 1985v294M977 1975v286M983 1976v303M988 1992v284M994 1980v283M1000 1982v292M1004 1984v270M1010 1972v296M1015 1975v311M1021 1978v283M1027 1984v293M1032 1985v277M1038 1990v273M1043 1994v273M1048 1996v286M1054 1992v282M1060 1971v313M1065 1971v299M1071 1992v283M1076 1993v267M1081 1989v309M1086 1979v326M1093 1968v316M1098 1975v309M1103 1970v295M1108 1987v275M1115 1975v297M1120 1973v315M1126 1984v296M1131 1972v313M1137 1981v312M1141 1966v310M1147 1989v296M1154 1975v342M1158 1995v317M1164 1994v288M1169 1981v278M1175 1978v280M1180 1998v261M1186 1970v319M1192 1976v297M1197 2004v266M1202 1995v295M1207 1988v283M1214 1993v277M1219 2000v290M1224 1987v322M1230 2003v277M1235 1993v279M1240 1993v283M1247 1979v312M1252 1987v301M1257 1980v290M1263 1988v299" stroke="#ff0000" opacity=".25"/><path d="M312 2010v269M318 2011v251M323 2015v294M329 2007v276M334 1997v305M340 1998v276M345 2003v279M350 1996v275M356 2006v300M361 2000v291M367 2005v275M372 2001v263M377 2005v297M383 1990v296M389 2003v272M394 2006v247M400 2006v291M405 2012v262M411 1997v271M416 1993v278M422 2019v269M427 2012v271M433 2005v274M439 2006v290M443 2006v278M449 2001v259M455 2010v288M461 1998v304M466 1991v292M472 1988v292M477 1998v307M483 2001v288M488 2012v303M494 2013v293M499 2009v283M505 2002v301M510 1990v296M515 1999v273M521 2018v273M527 2000v308M532 1998v310M537 2003v290M543 2006v273M549 2013v299M553 2010v273M559 2016v299M565 2015v266M570 2009v304M576 2002v283M581 2016v271M587 2016v288M592 2008v282M598 2006v311M604 2003v286M608 2004v276M614 2008v265M619 2007v314M626 2002v286M630 2006v283M636 2008v293M641 2000v303M647 2010v280M653 1998v284M658 2010v284M664 2014v252M669 2002v317M674 1999v319M681 2003v281M686 1998v299M691 2014v274M696 2005v272M702 1999v316M708 1997v296M714 2006v301M719 2005v275M724 2018v285M730 2001v290M735 2001v252M740 2004v291M746 1991v302M752 1996v256M757 2000v291M763 2003v309M768 2009v287M774 2010v250M779 2003v277M785 2010v292M791 2011v271M796 2020v268M801 1992v301M807 2008v263M812 1993v293M817 2007v273M824 2011v266M829 2006v275M834 2005v297M840 2008v273M845 2001v305M851 2005v292M857 2004v259M862 2015v297M868 2012v301M872 2015v292M878 2005v285M884 2004v296M889 2018v282M894 2013v283M901 2013v258M905 2000v296M911 1997v283M917 2008v272M922 1998v282M927 2012v295M933 2011v301M939 2012v273M944 2013v251M950 2013v277M955 1992v311M960 2002v251M966 2000v287M972 1996v288M977 2004v279M983 2002v296M988 2000v292M994 2003v274M1000 2006v293M1004 1994v299M1010 2003v263M1015 2002v265M1021 2002v280M1027 2007v264M1032 2016v258M1038 2012v240M1043 2012v273M1048 2004v293M1054 2005v291M1060 1990v284M1065 1998v280M1071 1997v276M1076 2013v259M1081 1991v320M1086 2000v285M1093 2005v286M1098 2000v313M1103 1995v288M1108 2002v293M1115 2005v267M1120 2002v263M1126 1993v298M1131 2001v297M1137 2001v300M1141 2000v296M1147 1997v310M1154 2005v285M1158 2008v273M1164 2003v279M1169 2014v270M1175 1998v283M1180 2016v275M1186 1998v310M1192 1998v268M1197 2007v277M1202 2008v271M1207 2020v239M1214 2003v288M1219 2004v283M1224 2009v297M1230 2011v267M1235 2013v268M1240 2006v281M1247 2009v285M1252 2015v265M1257 2003v278M1263 2008v272" stroke="#ff0000" opacity=".4"/><path d="M312 2009v285M318 2008v283M323 2018v274M329 2017v255M334 2008v283M340 2010v263M345 2007v251M350 2013v257M356 2008v285M361 2011v280M367 2017v243M372 2003v281M377 2005v285M383 2001v272M389 2019v227M394 2006v252M400 2011v245M405 2011v277M411 2004v275M416 2006v254M422 2018v244M427 2011v247M433 2014v255M439 2003v259M449 2001v247M455 2008v281M461 2004v251M466 2009v262M472 1999v299M477 2006v260M483 2009v275M488 2013v268M494 2008v281M499 2008v274M505 2007v285M510 2007v258M515 2007v264M521 2013v261M527 2008v267M532 2010v283M537 2012v255M543 2009v275M549 2022v269M553 2013v271M559 2011v259M565 2016v253M570 2020v270M576 2015v268M581 2016v258M587 2021v260M592 2010v254M598 2006v298M604 2012v282M608 2004v259M614 2024v256M619 2018v262M626 2012v262M630 2012v282M636 2006v296M641 2004v282M647 2015v259M653 2010v272M658 2015v263M664 2019v236M669 2006v295M674 2004v289M681 2011v261M686 2002v285M696 2009v284M702 2011v274M708 2010v277M714 2012v270M719 2008v290M724 2016v258M730 2010v283M735 2005v253M740 2005v246M746 2004v253M752 2012v246M757 2006v286M763 2008v250M768 2013v244M774 2015v261M779 2012v237M785 2019v273M791 2011v249M796 2013v247M801 2002v254M807 2009v252M812 2003v276M817 2012v285M824 2006v290M829 2012v271M834 2022v242M840 2008v263M845 2012v254M851 2001v299M857 2015v272M862 2016v290M868 2015v251M872 2017v271M878 2012v279M884 2011v266M889 2011v257M894 2009v253M901 2014v277M905 2005v282M911 2011v277M917 2003v292M922 2004v272M927 2013v251M933 2007v269M939 2005v255M944 2016v255M950 2014v261M955 2009v263M960 2000v254M966 2004v274M972 2009v258M977 2013v242M983 2011v276M988 2011v250M994 2014v259M1000 2007v281M1004 1997v268M1010 2008v274M1015 1999v283M1021 2015v269M1027 2007v255M1032 2012v272M1038 2012v236M1048 2011v253M1054 2016v262M1060 2005v278M1065 2008v257M1071 2004v268M1076 2009v253M1081 2007v288M1086 2004v292M1093 2012v247M1098 2008v263M1103 2001v258M1108 2011v255M1115 2008v242M1120 2011v266M1126 2000v279M1131 2003v276M1137 2001v283M1141 2010v253M1147 2011v266M1154 2009v271M1158 2012v270M1164 2015v277M1169 2010v268M1175 2010v267M1180 2015v266M1186 2009v269M1192 2006v263M1197 2014v232M1202 2015v258M1207 2012v240M1214 2009v246M1219 2009v260M1224 2023v237M1230 2023v233M1235 2017v264M1240 2013v267M1247 2008v284M1252 2010v249M1257 2012v266M1263 2019v272" stroke="#ff0000" opacity=".45"/><path d="M312 2012v247M323 2019v262M329 2019v253M334 2021v235M340 2011v251M345 2016v253M350 2011v265M361 2016v234M367 2017v245M372 2012v247M389 2020v230M394 2012v234M400 2018v225M405 2019v232M411 2009v256M416 2012v244M422 2024v241M427 2019v224M433 2017v235M439 2010v245M449 2011v238M455 2011v263M461 2019v241M466 2012v256M472 2006v262M477 2013v257M483 2012v242M488 2020v234M494 2017v249M499 2020v239M505 2014v252M510 2014v238M515 2021v241M521 2019v258M527 2012v250M537 2019v255M543 2019v243M549 2016v263M553 2020v247M559 2023v239M565 2013v257M570 2017v268M576 2014v253M581 2015v251M587 2018v265M592 2014v267M598 2023v249M604 2022v258M608 2014v249M614 2028v245M626 2016v248M641 2019v248M647 2018v247M653 2021v254M658 2024v250M664 2020v240M669 2015v258M674 2020v244M681 2014v256M686 2019v243M696 2011v257M702 2021v235M708 2021v237M714 2012v265M719 2020v242M724 2021v252M730 2013v268M740 2012v256M746 2015v235M752 2020v230M757 2014v264M768 2012v260M774 2019v238M785 2020v250M791 2019v245M796 2023v240M801 2016v257M807 2011v256M817 2020v248M824 2023v257M829 2015v258M834 2019v245M840 2013v252M845 2019v246M851 2017v244M857 2022v250M862 2022v250M868 2027v252M872 2020v248M884 2018v257M889 2018v253M894 2013v248M905 2018v241M911 2011v249M917 2017v256M927 2018v248M939 2013v260M944 2020v231M950 2022v236M966 2009v243M972 2012v236M977 2019v224M983 2018v245M988 2021v254M1000 2020v238M1004 2010v258M1010 2019v242M1015 2011v251M1021 2017v254M1027 2012v237M1032 2018v238M1038 2021v232M1048 2011v244M1054 2023v238M1060 2011v260M1071 2020v238M1076 2015v231M1081 2009v265M1086 2010v265M1098 2020v253M1103 2014v246M1108 2010v238M1115 2009v236M1120 2014v252M1126 2012v264M1131 2008v258M1137 2012v248M1141 2018v252M1147 2015v241M1154 2009v275M1169 2013v238M1175 2015v242M1180 2014v252M1186 2012v261M1192 2014v237M1197 2026v242M1202 2021v250M1207 2026v244M1214 2023v228M1224 2024v247M1230 2017v244M1235 2023v244M1240 2024v224M1247 2020v251M1252 2021v246M1257 2022v244M1263 2027v221" stroke="#ff0000" opacity=".45"/><path d="M323 2025v231M334 2017v228M340 2021v238M350 2018v235M367 2028v231M400 2019v215M416 2020v217M422 2026v216M488 2025v239M499 2024v226M515 2024v228M537 2021v236M559 2023v241M570 2023v236M576 2027v218M581 2021v236M587 2031v221M604 2026v241M608 2025v220M626 2019v248M641 2021v229M647 2023v248M664 2031v214M674 2024v243M708 2027v219M714 2024v234M740 2023v225M746 2024v216M752 2018v224M757 2021v234M768 2019v232M791 2021v236M796 2023v229M801 2022v216M807 2024v229M824 2018v247M834 2023v224M857 2020v234M868 2023v236M872 2029v229M884 2022v234M911 2020v233M917 2021v224M939 2026v231M944 2020v220M950 2022v237M966 2016v222M972 2024v233M977 2019v236M988 2021v228M1000 2019v221M1021 2020v238M1060 2015v231M1086 2016v247M1108 2023v237M1115 2016v233M1120 2017v243M1126 2021v233M1131 2016v223M1137 2017v237M1141 2021v240M1147 2024v234M1175 2020v220M1180 2029v223M1186 2020v222M1197 2021v218M1230 2022v237M1240 2028v212M1247 2020v219M1263 2024v234" stroke="#ff0000" opacity=".5"/></g></g>
<defs><clipPath id="c41"><rect x="1367.8" y="1975.8" width="962.7" height="396.1"/></clipPath></defs><g clip-path="url(#c41)"><g class="d" stroke-width="7" filter="url(#bl)"><path d="M1840 2072v8M2086 2056v7" stroke="#00ff00"/><path d="M1603 2263v8M1773 2264v9M1829 2265v6M1861 2270v6M1933 2269v7M2010 2270v7M2119 2266v10M2219 2268v6" stroke="#00ff00"/><path d="M1587 2057v6M1675 2061v7M1707 2078v6M1746 2057v6M1767 2073v7M1790 2054v8M1801 2074v9M1861 2077v6M2016 2069v8M2092 2078v5M2119 2069v6M2280 2061v7M2306 2075v9" stroke="#ff8c00"/><path d="M1433 2286v6M1438 2269v9M1493 2263v8M1527 2274v6M1636 2273v6M1767 2269v6M1822 2267v8M1889 2266v7M1927 2263v9M1999 2266v7M2016 2260v7M2147 2271v8M2245 2263v5M2280 2259v8M2323 2268v7" stroke="#ff8c00"/><path d="M1372 2074v197M1378 2080v186M1383 2073v196M1389 2068v195M1395 2066v199M1400 2066v196M1406 2078v192M1410 2069v194M1416 2073v192M1421 2070v204M1427 2075v196M1433 2062v227M1438 2075v197M1443 2074v202M1449 2076v189M1455 2072v208M1460 2069v219M1466 2077v212M1471 2067v195M1476 2070v212M1482 2075v209M1488 2082v181M1493 2081v185M1498 2082v180M1504 2077v200M1510 2065v202M1515 2064v198M1520 2067v201M1527 2066v211M1531 2072v192M1537 2059v205M1543 2060v206M1547 2077v186M1554 2079v195M1559 2080v184M1564 2066v208M1571 2064v198M1575 2071v200M1581 2080v185M1587 2060v203M1592 2082v182M1597 2072v194M1603 2065v201M1609 2077v211M1614 2078v186M1619 2073v193M1625 2073v201M1631 2062v208M1636 2060v216M1642 2075v190M1647 2081v187M1652 2072v216M1658 2074v200M1664 2063v203M1669 2074v206M1675 2065v198M1680 2082v189M1685 2071v196M1691 2063v200M1696 2072v198M1702 2076v191M1707 2081v187M1713 2081v186M1719 2074v194M1724 2080v187M1730 2079v203M1735 2076v198M1741 2060v203M1746 2060v211M1752 2076v190M1756 2078v186M1762 2069v199M1767 2078v194M1773 2079v188M1778 2067v209M1785 2067v199M1790 2059v206M1795 2081v186M1801 2080v188M1806 2068v216M1811 2072v215M1818 2076v190M1822 2073v197M1829 2064v204M1834 2079v187M1840 2077v186M1845 2075v195M1850 2060v212M1856 2079v192M1861 2080v193M1868 2077v211M1872 2078v188M1878 2068v206M1883 2068v195M1889 2063v206M1894 2074v191M1899 2066v198M1905 2074v194M1910 2079v208M1917 2062v210M1923 2063v206M1927 2064v202M1933 2073v198M1938 2060v207M1944 2062v204M1950 2080v187M1954 2081v186M1960 2078v191M1966 2081v187M1972 2069v194M1976 2075v193M1983 2081v185M1987 2070v200M1993 2066v199M1999 2066v203M2005 2079v192M2010 2079v194M2016 2074v189M2021 2074v195M2026 2075v192M2031 2072v191M2037 2066v201M2043 2070v207M2048 2077v200M2054 2077v192M2059 2074v190M2065 2070v207M2071 2070v201M2076 2073v211M2082 2075v197M2086 2061v210M2092 2081v183M2098 2076v189M2104 2072v191M2109 2060v210M2114 2060v213M2119 2072v197M2125 2067v197M2130 2071v196M2136 2062v200M2142 2060v202M2147 2060v213M2152 2076v189M2158 2078v188M2164 2067v206M2169 2062v215M2175 2061v212M2180 2061v214M2186 2074v195M2191 2074v197M2197 2067v198M2202 2068v202M2208 2083v193M2213 2078v190M2219 2083v188M2224 2072v195M2229 2076v188M2235 2077v190M2241 2081v207M2245 2063v203M2252 2073v193M2257 2078v190M2263 2076v192M2268 2067v206M2273 2066v203M2280 2065v197M2285 2062v203M2290 2066v217M2296 2065v221M2301 2062v205M2306 2081v197M2313 2077v188M2317 2075v215M2323 2060v211" stroke="#0000ff"/><path d="M1372 2086v189M1378 2085v185M1383 2087v187M1389 2082v187M1395 2080v196M1400 2086v185M1406 2084v192M1410 2086v188M1416 2083v187M1421 2087v191M1427 2083v191M1433 2083v199M1438 2087v190M1443 2087v187M1449 2083v187M1455 2085v192M1460 2085v200M1466 2084v199M1471 2083v192M1476 2085v192M1482 2087v195M1488 2087v182M1493 2085v188M1498 2090v181M1504 2086v189M1510 2083v189M1515 2082v193M1520 2081v192M1527 2080v196M1531 2086v189M1537 2082v188M1543 2079v194M1547 2083v192M1554 2086v190M1559 2086v185M1564 2083v196M1571 2079v194M1575 2086v189M1581 2085v189M1587 2079v192M1592 2084v190M1597 2087v184M1603 2080v195M1609 2087v197M1614 2086v188M1619 2087v183M1625 2087v189M1631 2079v193M1636 2081v199M1642 2085v187M1647 2085v191M1652 2083v201M1658 2088v190M1664 2083v192M1669 2086v193M1675 2081v194M1680 2086v192M1685 2084v188M1691 2083v190M1696 2086v190M1702 2084v190M1707 2088v183M1713 2086v187M1719 2084v188M1724 2089v186M1730 2085v196M1735 2086v188M1741 2083v190M1746 2080v198M1752 2086v189M1756 2084v188M1762 2085v188M1767 2087v190M1773 2087v186M1778 2084v194M1785 2082v192M1790 2080v192M1795 2086v187M1801 2086v186M1806 2083v200M1811 2085v198M1818 2087v187M1822 2084v190M1829 2080v193M1834 2086v188M1840 2084v188M1845 2085v190M1850 2080v197M1856 2086v190M1861 2085v192M1868 2087v194M1872 2088v189M1878 2083v195M1883 2084v190M1889 2082v194M1894 2083v192M1899 2084v191M1905 2085v187M1910 2087v195M1917 2079v195M1923 2081v194M1927 2082v191M1933 2086v190M1938 2080v196M1944 2081v193M1950 2087v184M1954 2088v188M1960 2089v187M1966 2089v183M1972 2085v186M1976 2083v193M1983 2090v186M1987 2084v190M1993 2082v191M1999 2081v196M2005 2085v189M2010 2084v190M2016 2082v189M2021 2087v189M2026 2084v191M2031 2084v189M2037 2083v189M2043 2083v194M2048 2087v192M2054 2087v191M2059 2086v188M2065 2081v199M2071 2085v188M2076 2083v195M2082 2086v191M2086 2080v196M2092 2085v185M2098 2084v190M2104 2086v185M2109 2079v195M2114 2079v197M2119 2087v190M2125 2081v190M2130 2084v188M2136 2081v192M2142 2080v191M2147 2081v198M2152 2083v189M2158 2087v186M2164 2084v192M2169 2082v194M2175 2082v193M2180 2079v198M2186 2086v189M2191 2088v187M2197 2082v190M2202 2085v188M2208 2090v185M2213 2084v188M2219 2089v186M2224 2083v193M2229 2083v187M2235 2088v186M2241 2090v190M2245 2081v192M2252 2086v187M2257 2086v191M2263 2086v186M2268 2086v188M2273 2085v189M2280 2081v194M2285 2079v193M2290 2080v202M2296 2080v201M2301 2083v188M2306 2089v187M2313 2088v183M2317 2084v198M2323 2084v189" stroke="#ff0000" opacity=".25"/><path d="M1372 2086v186M1378 2092v176M1383 2089v182M1389 2086v182M1395 2083v187M1400 2086v184M1406 2087v185M1410 2085v185M1416 2085v187M1421 2088v187M1427 2087v184M1433 2083v195M1438 2089v185M1443 2088v182M1449 2085v183M1455 2087v186M1460 2083v192M1466 2086v190M1471 2087v184M1476 2089v185M1482 2086v189M1488 2086v184M1493 2090v181M1498 2087v183M1504 2088v188M1510 2087v183M1515 2085v182M1520 2087v182M1527 2084v187M1531 2088v180M1537 2081v190M1543 2084v185M1547 2089v179M1554 2091v182M1559 2091v180M1564 2086v188M1571 2084v188M1575 2084v189M1581 2090v181M1587 2084v187M1592 2091v179M1597 2085v187M1603 2087v185M1609 2086v190M1614 2087v181M1619 2084v186M1625 2088v186M1631 2085v186M1636 2080v195M1642 2089v180M1647 2091v181M1652 2085v192M1658 2090v182M1664 2083v187M1669 2085v187M1675 2087v183M1680 2089v184M1685 2088v181M1691 2083v189M1696 2087v185M1702 2086v184M1707 2087v183M1713 2090v180M1719 2085v185M1724 2090v181M1730 2092v185M1735 2091v180M1741 2081v189M1746 2082v191M1752 2091v182M1756 2091v178M1762 2087v185M1767 2087v187M1773 2087v182M1778 2086v190M1785 2086v186M1790 2085v183M1795 2086v183M1801 2090v184M1806 2082v196M1811 2084v192M1818 2088v184M1822 2088v185M1829 2086v185M1834 2088v181M1840 2088v179M1845 2087v184M1850 2081v189M1856 2091v184M1861 2086v184M1868 2090v190M1872 2090v179M1878 2087v186M1883 2086v186M1889 2086v185M1894 2086v182M1899 2085v185M1905 2086v183M1910 2088v189M1917 2084v188M1923 2084v187M1927 2085v187M1933 2089v182M1938 2086v185M1944 2084v186M1950 2089v182M1954 2092v180M1960 2090v183M1966 2088v181M1972 2084v184M1976 2085v189M1983 2088v181M1987 2087v182M1993 2084v185M1999 2083v187M2005 2092v179M2010 2089v186M2016 2088v178M2021 2088v182M2026 2089v181M2031 2088v184M2037 2085v189M2043 2084v188M2048 2086v185M2054 2089v183M2059 2085v186M2065 2085v187M2071 2087v187M2076 2087v187M2082 2089v182M2086 2080v193M2092 2091v181M2098 2088v182M2104 2087v185M2109 2083v188M2114 2082v193M2119 2083v187M2125 2086v186M2130 2088v185M2136 2085v185M2142 2082v187M2147 2085v190M2152 2090v182M2158 2090v180M2164 2082v193M2169 2081v194M2175 2086v184M2180 2084v190M2186 2086v183M2191 2086v184M2197 2086v185M2202 2087v183M2208 2089v183M2213 2087v185M2219 2089v184M2224 2087v186M2229 2086v181M2235 2089v181M2241 2092v186M2245 2086v187M2252 2087v184M2257 2090v183M2263 2090v182M2268 2086v187M2273 2083v190M2280 2085v187M2285 2082v185M2290 2085v191M2296 2084v194M2301 2082v189M2306 2090v184M2313 2086v185M2317 2088v191M2323 2083v188" stroke="#ff0000" opacity=".5"/><path d="M1372 2091v179M1378 2089v179M1383 2086v181M1389 2090v178M1395 2085v181M1400 2088v176M1406 2089v177M1410 2088v179M1416 2091v174M1421 2088v183M1427 2088v181M1433 2086v191M1438 2089v178M1443 2087v181M1449 2088v179M1455 2086v184M1460 2090v185M1466 2091v182M1471 2085v182M1476 2087v187M1482 2088v184M1488 2094v173M1493 2090v176M1498 2091v173M1504 2092v181M1510 2084v184M1515 2086v180M1520 2087v179M1527 2086v184M1531 2087v182M1537 2086v180M1543 2085v182M1547 2088v178M1554 2088v183M1559 2092v175M1564 2083v188M1571 2085v179M1575 2088v178M1581 2090v178M1587 2082v184M1592 2093v174M1597 2089v178M1603 2086v181M1609 2087v187M1614 2091v175M1619 2089v179M1625 2090v182M1631 2084v186M1636 2087v186M1642 2092v176M1647 2091v175M1652 2090v186M1658 2092v176M1664 2084v183M1669 2089v182M1675 2085v179M1680 2092v176M1685 2085v181M1691 2088v180M1696 2087v180M1702 2089v179M1707 2094v176M1713 2093v175M1719 2090v176M1724 2090v177M1730 2092v179M1735 2091v180M1741 2083v185M1746 2082v187M1752 2090v179M1756 2089v178M1762 2089v181M1767 2093v177M1773 2091v177M1778 2084v185M1785 2085v181M1790 2085v181M1795 2092v177M1801 2089v178M1806 2087v186M1811 2086v186M1818 2087v182M1822 2089v182M1829 2084v182M1834 2093v175M1840 2092v173M1845 2088v183M1850 2085v186M1856 2092v180M1861 2090v178M1868 2089v186M1872 2089v179M1878 2085v186M1883 2085v183M1889 2085v183M1894 2089v180M1899 2089v178M1905 2089v180M1910 2093v183M1917 2087v185M1923 2083v186M1927 2089v178M1933 2088v182M1938 2084v184M1944 2084v182M1950 2092v177M1954 2094v174M1960 2088v182M1966 2093v174M1972 2090v177M1976 2088v180M1983 2090v175M1987 2090v181M1993 2086v181M1999 2090v180M2005 2091v179M2010 2090v180M2016 2091v174M2021 2090v181M2026 2090v177M2031 2089v176M2037 2087v180M2043 2089v182M2048 2092v179M2054 2092v178M2059 2086v179M2065 2087v182M2071 2089v179M2076 2089v183M2082 2090v178M2086 2082v189M2092 2093v175M2098 2092v176M2104 2088v181M2109 2086v180M2114 2085v184M2119 2086v182M2125 2086v181M2130 2086v183M2136 2085v184M2142 2083v184M2147 2085v183M2152 2087v182M2158 2092v174M2164 2088v182M2169 2088v181M2175 2087v183M2180 2085v184M2186 2088v181M2191 2087v180M2197 2086v181M2202 2090v177M2208 2094v175M2213 2092v174M2219 2093v178M2224 2088v178M2229 2091v176M2235 2091v178M2241 2092v184M2245 2089v180M2252 2088v181M2257 2092v175M2263 2088v179M2268 2090v180M2273 2085v182M2280 2089v177M2285 2084v183M2290 2085v190M2296 2086v188M2301 2084v184M2306 2091v180M2313 2091v178M2317 2091v183M2323 2087v184" stroke="#ff0000" opacity=".6"/><path d="M1372 2094v171M1378 2095v170M1383 2090v178M1389 2091v178M1395 2087v179M1400 2091v173M1406 2089v176M1410 2088v178M1416 2091v174M1421 2088v182M1427 2094v173M1433 2090v184M1438 2092v177M1449 2089v179M1455 2090v179M1460 2089v179M1466 2091v178M1471 2088v179M1476 2090v177M1482 2094v173M1488 2096v169M1493 2091v174M1498 2091v175M1504 2092v176M1510 2086v182M1515 2088v179M1520 2088v177M1527 2091v176M1531 2091v172M1537 2084v179M1543 2085v181M1547 2092v175M1554 2090v176M1559 2096v171M1564 2090v180M1571 2086v177M1575 2089v180M1581 2090v173M1587 2086v180M1592 2093v174M1603 2089v177M1609 2089v179M1614 2090v177M1619 2089v176M1625 2090v176M1631 2087v183M1636 2085v182M1642 2091v178M1647 2094v172M1652 2089v179M1658 2091v176M1664 2088v176M1669 2092v178M1675 2091v174M1680 2091v178M1685 2087v181M1691 2087v177M1696 2090v178M1702 2089v175M1707 2092v175M1713 2093v176M1719 2090v179M1724 2091v178M1730 2095v174M1741 2087v179M1746 2086v180M1752 2091v176M1756 2094v171M1762 2090v179M1767 2090v179M1773 2093v171M1790 2089v178M1795 2090v178M1801 2094v171M1806 2087v183M1811 2089v184M1818 2089v176M1822 2089v177M1829 2086v184M1834 2092v172M1840 2091v176M1845 2094v175M1850 2086v183M1856 2092v178M1861 2094v175M1868 2091v179M1872 2090v174M1878 2088v182M1883 2087v177M1889 2090v178M1894 2092v175M1899 2086v182M1905 2094v171M1910 2093v176M1917 2090v180M1923 2089v178M1927 2091v176M1933 2091v176M1938 2089v178M1944 2089v180M1950 2091v177M1954 2091v175M1960 2090v178M1966 2091v175M1972 2091v178M1976 2092v175M1983 2096v170M1987 2092v173M1993 2090v179M1999 2087v181M2005 2093v172M2010 2095v175M2016 2090v176M2021 2093v171M2026 2089v178M2031 2091v176M2037 2090v178M2043 2091v179M2048 2090v179M2054 2092v175M2059 2094v173M2065 2091v179M2071 2088v177M2076 2093v179M2082 2090v180M2086 2088v179M2092 2093v174M2098 2091v172M2104 2091v177M2109 2088v178M2114 2088v183M2119 2087v179M2125 2091v174M2130 2088v180M2136 2085v180M2142 2084v180M2147 2085v182M2152 2094v171M2158 2090v177M2169 2089v179M2175 2088v179M2180 2087v181M2186 2088v178M2191 2091v177M2197 2089v175M2202 2087v179M2208 2096v174M2213 2092v175M2219 2093v177M2224 2090v173M2229 2094v174M2235 2091v178M2241 2096v176M2245 2089v176M2252 2092v172M2268 2089v178M2273 2089v177M2280 2086v181M2285 2085v180M2290 2091v179M2296 2089v183M2301 2089v176M2313 2095v172M2317 2090v181M2323 2090v178" stroke="#ff0000" opacity=".6"/><path d="M1372 2096v170M1378 2094v169M1395 2090v176M1400 2090v174M1406 2095v169M1410 2090v174M1416 2092v172M1421 2090v173M1427 2096v169M1433 2093v176M1460 2094v170M1466 2092v177M1471 2090v171M1476 2094v169M1482 2093v171M1488 2099v161M1515 2092v168M1520 2090v171M1531 2096v165M1537 2091v174M1543 2089v172M1547 2096v169M1559 2094v171M1564 2091v171M1571 2088v174M1587 2091v170M1592 2097v166M1603 2090v176M1609 2095v174M1614 2096v166M1619 2093v167M1625 2090v175M1636 2087v176M1642 2094v168M1647 2095v166M1652 2091v175M1658 2093v171M1664 2093v171M1669 2096v171M1675 2090v174M1713 2098v168M1719 2094v167M1724 2098v169M1741 2090v171M1746 2089v174M1752 2092v173M1756 2094v172M1762 2090v171M1767 2096v171M1773 2094v171M1790 2090v174M1795 2098v166M1811 2092v176M1829 2091v175M1834 2096v165M1845 2097v166M1850 2089v174M1856 2096v170M1861 2093v170M1868 2098v167M1872 2096v170M1889 2090v176M1894 2095v167M1899 2090v175M1905 2095v169M1910 2098v167M1917 2090v177M1923 2089v177M1950 2094v167M1954 2095v167M1966 2097v166M1972 2093v170M1976 2097v166M2005 2098v168M2010 2093v170M2016 2093v172M2031 2092v172M2037 2090v171M2059 2094v169M2065 2095v172M2071 2091v175M2076 2093v175M2082 2093v174M2086 2091v171M2092 2099v162M2136 2090v172M2152 2093v168M2158 2097v169M2169 2093v169M2175 2090v175M2180 2089v177M2186 2096v165M2197 2090v175M2202 2095v169M2224 2095v167M2229 2092v171M2252 2094v168M2268 2095v170M2273 2093v172M2280 2089v173M2290 2091v177M2313 2096v170" stroke="#ff0000" opacity=".5"/></g></g>
<defs><clipPath id="c50"><rect x="307.4" y="2431.8" width="963.1" height="396"/></clipPath></defs><g clip-path="url(#c50)"><g class="d" stroke-width="7" filter="url(#bl)"><path d="M735 2485v8M867 2498v9M1191 2493v7M1197 2493v6" stroke="#00ff00"/><path d="M626 2797v9" stroke="#00ff00"/><path d="M335 2486v8M532 2496v8M708 2492v7M751 2496v7M1049 2506v5" stroke="#ff8c00"/><path d="M328 2745v6M366 2788v6M373 2760v6M389 2769v6M483 2750v8M510 2779v6M565 2786v7M587 2757v8M592 2758v5M680 2794v9M751 2771v6M818 2786v7M933 2736v5M1065 2756v8M1164 2754v6M1219 2791v7M1247 2739v6" stroke="#ff8c00"/><path d="M312 2487v309M317 2482v313M323 2488v275M328 2490v258M335 2491v300M340 2504v294M345 2507v291M350 2499v293M356 2489v311M361 2482v304M366 2494v297M373 2499v264M377 2490v255M383 2494v269M389 2497v275M395 2498v261M400 2487v309M405 2485v315M410 2488v260M416 2505v296M422 2486v304M427 2506v295M434 2497v293M438 2502v284M443 2498v288M449 2490v307M454 2491v305M460 2490v291M466 2483v284M471 2487v274M477 2496v254M483 2505v248M487 2500v298M493 2484v304M498 2481v309M505 2489v304M510 2494v288M516 2488v308M520 2489v303M526 2494v257M532 2501v250M538 2502v286M542 2501v245M548 2499v267M554 2492v270M559 2498v305M565 2504v285M570 2496v263M575 2498v297M582 2505v263M587 2498v262M592 2485v275M598 2497v264M604 2501v288M609 2510v285M615 2504v298M619 2502v286M626 2489v311M631 2493v305M636 2485v296M641 2500v264M647 2493v307M653 2492v292M659 2503v245M664 2501v262M670 2506v268M675 2503v249M680 2509v288M686 2491v288M691 2490v313M697 2489v263M702 2488v264M708 2496v303M713 2487v310M718 2492v298M725 2489v302M730 2491v302M735 2490v300M741 2488v298M746 2491v283M751 2500v274M757 2487v261M763 2489v268M768 2488v279M774 2492v312M779 2488v291M784 2488v300M790 2490v295M796 2494v266M801 2485v276M807 2496v278M813 2489v302M818 2493v296M823 2502v282M829 2505v278M834 2500v274M840 2502v266M846 2505v259M850 2482v295M857 2487v294M862 2485v286M867 2504v262M873 2503v264M879 2502v255M883 2492v254M890 2492v256M895 2499v273M901 2502v266M906 2503v264M911 2505v290M917 2505v282M922 2495v297M927 2493v301M933 2495v243M939 2493v246M945 2504v290M949 2509v278M954 2498v276M961 2486v293M966 2507v252M972 2501v276M977 2499v284M983 2494v285M988 2502v288M994 2496v274M999 2495v293M1005 2494v268M1010 2490v303M1016 2508v280M1021 2499v241M1027 2502v295M1032 2485v268M1037 2492v281M1043 2508v242M1049 2508v254M1054 2509v243M1060 2497v272M1065 2494v264M1070 2485v274M1076 2502v251M1081 2496v254M1088 2501v286M1092 2500v279M1098 2509v268M1104 2501v269M1108 2493v268M1115 2484v259M1120 2490v266M1125 2503v252M1132 2502v289M1137 2491v303M1142 2494v252M1148 2492v255M1153 2485v288M1158 2486v287M1164 2487v270M1170 2484v302M1175 2491v306M1180 2496v295M1186 2497v283M1191 2497v299M1197 2497v292M1202 2501v291M1208 2501v286M1213 2499v294M1219 2494v300M1224 2496v249M1230 2507v238M1235 2505v288M1240 2487v300M1247 2484v258M1252 2491v253M1257 2507v233M1263 2499v278" stroke="#0000ff"/><path d="M312 2469v316M317 2472v310M323 2480v284M328 2475v271M335 2481v301M340 2496v291M345 2494v287M350 2486v297M356 2474v318M361 2475v305M366 2482v306M373 2483v265M377 2477v257M383 2474v274M389 2476v283M395 2490v264M400 2480v311M405 2467v324M410 2473v268M416 2494v298M422 2475v312M427 2492v298M434 2481v305M438 2489v292M443 2489v282M449 2479v311M454 2476v305M460 2473v307M466 2473v283M471 2472v283M477 2488v260M483 2495v247M487 2486v296M493 2468v309M498 2471v305M505 2478v300M510 2480v295M516 2470v309M520 2471v312M526 2482v258M532 2490v250M538 2484v292M542 2492v241M548 2486v270M554 2481v274M559 2491v296M565 2486v293M570 2480v270M575 2482v306M582 2496v260M587 2480v271M592 2468v276M598 2484v264M604 2484v288M609 2498v291M615 2489v309M619 2485v299M626 2470v316M631 2484v307M636 2476v294M641 2493v258M647 2481v309M653 2475v299M659 2487v251M664 2488v262M670 2501v260M675 2490v262M680 2499v293M686 2471v306M691 2482v318M697 2475v271M702 2473v274M708 2484v299M713 2471v317M718 2476v310M725 2475v302M730 2483v296M735 2479v308M741 2477v296M746 2482v281M751 2489v282M757 2474v263M763 2476v279M768 2470v286M774 2478v314M779 2476v300M784 2471v304M790 2479v303M796 2486v269M801 2473v285M807 2484v275M813 2471v312M818 2478v310M823 2495v288M829 2487v287M834 2489v282M840 2482v272M846 2486v262M850 2470v308M857 2470v301M862 2475v282M867 2491v257M873 2487v273M879 2485v271M883 2488v257M890 2484v253M895 2488v282M901 2483v273M906 2493v261M911 2501v277M917 2498v286M922 2481v303M927 2477v313M933 2486v243M939 2488v251M945 2497v292M949 2498v287M954 2481v291M961 2479v289M966 2500v258M972 2492v279M977 2485v296M983 2484v282M988 2491v293M994 2480v283M999 2483v299M1005 2485v265M1010 2473v307M1016 2492v285M1021 2492v249M1027 2496v291M1032 2476v263M1037 2481v282M1043 2497v244M1049 2493v264M1054 2503v247M1060 2485v273M1065 2486v270M1070 2475v269M1076 2490v246M1081 2488v251M1088 2486v301M1092 2494v277M1098 2490v287M1104 2494v261M1108 2477v274M1115 2472v264M1120 2471v273M1125 2487v264M1132 2482v298M1137 2482v307M1142 2478v257M1148 2477v258M1153 2464v308M1158 2469v294M1164 2468v282M1170 2470v308M1175 2481v313M1180 2478v304M1186 2486v288M1191 2488v295M1197 2476v308M1202 2492v291M1208 2485v287M1213 2491v287M1219 2487v299M1224 2484v252M1230 2494v249M1235 2491v285M1240 2480v303M1247 2474v267M1252 2481v254M1257 2490v238M1263 2492v281" stroke="#ff0000" opacity=".25"/><path d="M312 2484v279M317 2481v279M323 2482v258M328 2491v238M335 2495v267M340 2506v251M345 2498v261M350 2497v258M356 2491v271M361 2492v264M366 2489v264M373 2502v235M377 2490v242M383 2496v234M389 2490v256M395 2498v240M400 2493v277M405 2488v271M410 2487v237M416 2504v263M422 2493v272M427 2502v263M434 2495v257M438 2494v255M443 2500v254M449 2484v272M454 2489v270M460 2488v252M466 2481v259M471 2483v252M477 2493v231M483 2500v237M487 2491v263M493 2489v268M498 2492v270M505 2487v272M510 2492v249M516 2492v278M520 2493v265M526 2496v236M532 2493v237M538 2497v252M542 2495v227M548 2501v241M554 2500v242M559 2492v267M565 2494v267M570 2501v242M575 2500v255M582 2495v248M587 2496v239M592 2495v234M598 2498v232M604 2498v263M609 2507v245M615 2498v272M619 2498v249M626 2486v282M631 2490v270M636 2488v255M641 2504v238M647 2499v270M653 2497v250M659 2503v221M664 2498v233M670 2502v238M675 2495v234M680 2500v255M686 2487v263M691 2489v277M697 2488v240M702 2493v238M708 2499v270M713 2487v274M718 2499v257M725 2484v268M730 2498v265M735 2493v270M741 2487v267M746 2497v246M751 2496v241M757 2493v240M763 2489v239M768 2488v262M774 2490v279M779 2488v260M784 2494v256M790 2491v267M796 2491v253M801 2493v242M807 2489v247M813 2487v276M818 2497v258M823 2494v258M829 2502v243M834 2501v244M840 2491v242M846 2503v237M850 2481v274M857 2484v258M862 2490v256M867 2502v236M873 2501v232M879 2498v224M883 2494v233M890 2495v222M895 2489v255M901 2495v237M906 2495v252M911 2502v259M917 2502v255M922 2501v259M927 2499v248M933 2491v224M939 2491v237M945 2503v256M949 2501v243M954 2504v241M961 2488v264M966 2499v235M972 2499v239M977 2493v258M983 2501v253M988 2503v258M994 2490v243M999 2493v269M1005 2497v238M1010 2490v268M1016 2499v254M1021 2499v226M1027 2506v252M1032 2494v240M1037 2492v253M1043 2501v219M1049 2508v229M1054 2502v232M1060 2495v243M1065 2491v235M1070 2492v236M1076 2506v222M1081 2492v228M1088 2499v253M1092 2502v250M1098 2500v245M1104 2495v244M1108 2497v244M1115 2482v248M1120 2489v250M1125 2504v222M1132 2504v256M1137 2491v268M1142 2498v234M1148 2491v237M1153 2482v270M1158 2483v269M1164 2490v249M1170 2482v263M1175 2499v267M1180 2491v263M1186 2493v251M1191 2492v263M1197 2498v262M1202 2496v255M1208 2500v258M1213 2498v253M1219 2490v260M1224 2493v240M1230 2504v212M1235 2496v269M1240 2491v257M1247 2487v236M1252 2493v224M1257 2498v215M1263 2503v238" stroke="#ff0000" opacity=".45"/><path d="M312 2502v242M317 2501v234M323 2493v231M328 2501v222M335 2499v235M340 2510v224M345 2506v229M350 2506v234M356 2500v242M361 2499v245M366 2498v240M373 2503v221M377 2499v209M383 2502v221M389 2507v221M395 2499v236M400 2501v244M405 2492v241M410 2497v224M416 2503v236M422 2500v240M427 2501v239M434 2502v233M438 2502v237M443 2497v245M449 2498v247M454 2497v234M460 2501v231M466 2491v228M471 2498v224M477 2501v219M483 2505v205M487 2499v252M493 2499v231M498 2494v251M505 2493v243M510 2495v231M516 2497v244M520 2493v253M526 2499v220M532 2506v219M538 2503v224M542 2502v211M548 2499v227M554 2499v225M559 2498v243M565 2511v232M570 2505v210M575 2499v244M582 2509v220M587 2498v220M592 2501v226M598 2504v215M604 2504v227M609 2513v226M615 2510v234M619 2510v227M626 2497v248M631 2507v228M636 2492v244M641 2508v226M647 2503v236M653 2500v227M659 2501v224M664 2502v214M670 2502v232M675 2507v224M680 2508v242M686 2497v229M691 2501v248M697 2496v220M702 2500v216M708 2499v240M713 2498v235M718 2502v240M725 2496v243M730 2501v239M735 2497v237M741 2501v236M746 2499v233M751 2498v238M757 2496v229M763 2496v232M768 2499v234M774 2503v249M779 2493v245M784 2501v237M790 2501v233M796 2503v226M801 2493v240M807 2505v234M813 2500v239M818 2505v234M823 2505v235M829 2500v227M834 2506v219M840 2501v228M846 2500v230M850 2496v242M857 2497v233M862 2501v226M867 2500v212M873 2505v218M879 2503v216M883 2496v210M890 2502v202M895 2505v223M901 2506v222M906 2500v232M911 2505v224M917 2501v225M922 2499v226M927 2498v246M933 2503v214M939 2507v196M945 2501v226M949 2510v219M954 2501v219M961 2495v234M966 2505v211M972 2509v210M977 2507v218M983 2502v228M988 2501v240M994 2499v229M999 2507v235M1005 2503v209M1010 2499v242M1016 2506v228M1021 2507v205M1027 2502v226M1032 2499v223M1037 2499v236M1043 2509v205M1049 2507v213M1054 2510v206M1060 2500v221M1065 2504v210M1070 2498v222M1076 2506v209M1081 2506v218M1088 2502v238M1092 2509v213M1098 2509v221M1104 2499v229M1108 2504v221M1115 2497v212M1120 2501v212M1125 2501v213M1132 2502v239M1137 2494v251M1142 2494v222M1148 2495v211M1153 2495v237M1158 2497v238M1164 2492v238M1170 2499v238M1175 2503v244M1180 2497v242M1186 2503v226M1191 2502v230M1197 2498v239M1202 2506v227M1208 2500v226M1213 2497v245M1219 2498v238M1224 2497v210M1230 2511v205M1235 2508v229M1240 2497v239M1247 2502v212M1252 2500v210M1257 2504v202M1263 2509v210" stroke="#ff0000" opacity=".5"/><path d="M312 2509v211M317 2507v213M323 2500v213M328 2505v200M335 2508v201M340 2509v215M345 2516v204M350 2510v216M356 2503v224M361 2502v211M366 2511v201M373 2505v215M377 2506v199M383 2510v208M389 2506v215M395 2507v199M400 2501v216M405 2500v219M410 2510v203M416 2515v212M422 2503v222M427 2508v212M434 2508v216M438 2512v204M443 2503v212M449 2503v213M454 2505v212M460 2503v223M466 2499v212M471 2501v203M477 2501v208M483 2515v195M487 2505v216M493 2498v223M498 2503v220M505 2508v220M510 2512v209M516 2501v212M520 2509v207M526 2510v201M532 2506v196M538 2510v217M542 2509v197M548 2514v208M554 2503v205M559 2504v223M565 2511v207M570 2510v197M575 2512v218M582 2513v205M587 2513v205M592 2510v201M598 2510v213M604 2517v201M609 2514v209M615 2509v215M619 2515v201M626 2505v213M631 2509v217M636 2511v214M641 2517v201M647 2510v210M653 2510v219M659 2517v187M664 2509v209M670 2513v203M675 2507v213M680 2509v217M686 2508v220M691 2505v228M697 2509v203M702 2513v193M708 2512v213M713 2507v211M718 2506v221M725 2508v220M730 2513v219M735 2511v213M741 2500v227M746 2505v215M751 2511v211M757 2510v211M763 2503v211M768 2501v212M774 2507v217M779 2511v206M784 2509v210M790 2503v214M796 2512v206M801 2504v202M807 2503v220M813 2508v204M818 2508v206M823 2513v213M829 2505v216M834 2514v192M840 2508v209M846 2508v196M850 2509v195M857 2505v213M862 2507v197M867 2509v205M873 2505v199M879 2512v201M883 2512v193M890 2501v199M895 2504v200M901 2510v191M906 2512v197M911 2508v208M917 2507v199M922 2504v216M927 2507v216M933 2510v194M939 2503v204M945 2507v216M949 2513v205M954 2506v197M961 2503v217M966 2518v182M972 2508v204M977 2511v208M988 2515v198M994 2509v196M999 2509v210M1005 2514v204M1010 2510v208M1016 2516v194M1021 2506v195M1037 2515v191M1043 2516v195M1049 2518v194M1054 2517v195M1060 2515v199M1065 2511v192M1070 2503v201M1076 2515v189M1081 2514v192M1088 2513v205M1092 2506v209M1098 2508v200M1104 2515v198M1108 2506v203M1115 2510v194M1120 2505v204M1125 2507v197M1132 2511v214M1137 2511v209M1142 2507v198M1148 2509v190M1153 2499v223M1164 2500v202M1170 2510v200M1175 2508v215M1180 2508v215M1186 2508v206M1191 2504v220M1197 2513v202M1202 2513v207M1208 2507v214M1213 2506v213M1219 2513v202M1230 2510v199M1235 2513v201M1240 2511v198M1247 2510v191M1252 2508v197M1257 2516v180M1263 2510v197" stroke="#ff0000" opacity=".55"/><path d="M312 2511v187M317 2515v184M323 2511v189M328 2510v186M335 2516v192M340 2516v193M345 2519v186M350 2519v194M356 2514v191M361 2509v195M366 2514v193M395 2511v200M400 2515v195M405 2514v190M410 2514v193M416 2519v189M422 2512v204M427 2515v197M434 2518v190M443 2516v185M449 2509v196M454 2516v198M460 2508v201M466 2509v202M471 2512v189M498 2509v203M505 2507v196M510 2508v192M516 2512v197M520 2508v205M526 2514v184M532 2513v188M538 2510v195M542 2520v181M554 2518v185M559 2513v193M565 2513v194M575 2514v195M582 2515v190M598 2518v183M604 2520v191M609 2516v194M615 2514v193M631 2513v200M636 2511v199M647 2511v202M653 2516v192M659 2521v189M664 2517v182M670 2519v180M675 2519v190M680 2520v194M686 2515v191M691 2511v204M718 2512v204M725 2512v205M730 2511v191M735 2515v195M741 2512v199M746 2511v190M751 2520v190M763 2515v191M768 2515v196M774 2516v197M779 2517v189M784 2515v193M790 2512v188M796 2509v189M801 2508v189M807 2513v192M823 2518v192M829 2511v193M834 2510v187M840 2516v178M867 2519v179M873 2510v188M879 2516v175M883 2513v183M890 2512v186M895 2513v179M901 2511v188M906 2511v182M927 2512v187M933 2511v180M939 2510v181M945 2516v193M972 2514v184M977 2514v182M988 2512v194M994 2519v174M999 2518v185M1005 2515v180M1010 2510v188M1016 2514v187M1021 2517v171M1037 2519v175M1043 2519v175M1049 2515v184M1054 2516v183M1065 2514v191M1070 2510v185M1076 2520v173M1081 2518v175M1088 2517v192M1092 2516v186M1098 2521v184M1104 2513v194M1108 2518v188M1115 2513v179M1120 2512v190M1125 2519v187M1132 2519v193M1137 2508v199M1142 2509v190M1148 2514v185M1164 2509v195M1170 2512v197M1175 2512v191M1180 2514v186M1186 2513v184M1191 2511v189M1197 2516v195M1202 2516v195M1230 2517v187M1235 2514v182M1240 2513v198M1247 2517v183M1257 2517v179" stroke="#ff0000" opacity=".6"/></g></g>
<defs><clipPath id="c51"><rect x="1367.8" y="2431.8" width="962.7" height="396"/></clipPath></defs><g clip-path="url(#c51)"><g class="d" stroke-width="7" filter="url(#bl)"><path d="M1400 2506v6M1405 2504v7M1428 2515v6M1581 2535v10M1769 2509v11M1977 2522v10M1983 2514v8" stroke="#00ff00"/><path d="M1372 2735v7M1444 2720v6M2042 2735v7M2170 2720v8M2284 2724v6" stroke="#00ff00"/><path d="M1428 2513v8M1476 2510v9M1625 2506v9M1647 2505v9M1762 2513v7M1807 2518v7M1933 2528v7M2010 2504v9M2042 2516v7M2114 2505v8M2311 2531v8" stroke="#ff8c00"/><path d="M1417 2735v7M1493 2742v7M1603 2724v7M1696 2720v6M1944 2725v6M1960 2722v7M1971 2727v7M2229 2741v6" stroke="#ff8c00"/><path d="M1372 2537v201M1377 2524v215M1383 2533v198M1389 2525v200M1395 2522v204M1400 2509v220M1405 2508v234M1411 2508v235M1417 2513v225M1422 2522v212M1428 2519v220M1433 2515v228M1438 2516v229M1444 2521v202M1449 2520v222M1454 2514v224M1461 2511v228M1466 2538v207M1471 2516v227M1476 2516v210M1482 2521v207M1488 2513v213M1493 2508v237M1498 2528v198M1504 2534v190M1510 2534v190M1515 2533v194M1521 2518v215M1526 2515v218M1532 2512v213M1536 2539v185M1542 2533v189M1548 2514v209M1554 2511v213M1559 2520v209M1565 2539v198M1570 2534v203M1576 2541v195M1581 2542v192M1587 2542v192M1592 2540v204M1597 2530v194M1603 2515v212M1608 2508v220M1614 2518v209M1620 2521v213M1625 2512v216M1630 2508v222M1636 2514v210M1641 2509v221M1647 2511v235M1652 2536v210M1659 2523v209M1664 2511v225M1670 2517v218M1675 2539v189M1680 2527v201M1685 2524v209M1691 2532v203M1696 2518v205M1702 2510v220M1708 2533v211M1713 2530v206M1719 2528v209M1724 2529v202M1729 2545v184M1735 2526v212M1741 2528v203M1746 2521v214M1751 2516v207M1758 2509v233M1762 2517v214M1769 2517v216M1773 2508v217M1779 2511v215M1785 2545v181M1791 2531v191M1795 2530v198M1801 2517v211M1807 2522v212M1812 2525v214M1818 2522v211M1823 2521v205M1828 2507v238M1834 2507v238M1840 2507v240M1845 2524v213M1851 2535v196M1856 2538v200M1862 2533v213M1866 2519v206M1872 2519v222M1878 2513v223M1883 2530v213M1888 2521v208M1894 2507v225M1900 2542v196M1906 2544v203M1911 2508v230M1917 2529v200M1922 2523v202M1928 2531v200M1933 2532v202M1939 2521v205M1944 2522v206M1949 2526v218M1955 2509v235M1960 2517v208M1966 2515v209M1971 2533v197M1977 2529v195M1983 2519v219M1988 2516v226M1993 2525v205M1999 2544v193M2004 2514v215M2010 2510v229M2016 2537v193M2021 2518v213M2027 2513v213M2031 2514v226M2038 2509v236M2042 2520v218M2048 2520v209M2053 2536v190M2059 2513v223M2065 2509v220M2070 2521v211M2075 2520v208M2081 2508v218M2086 2540v205M2092 2528v206M2097 2542v187M2103 2543v203M2109 2534v204M2114 2510v226M2120 2529v201M2125 2533v204M2131 2507v226M2136 2511v227M2142 2515v223M2147 2531v206M2153 2517v222M2158 2533v210M2164 2532v207M2170 2510v213M2174 2506v218M2180 2516v209M2186 2533v193M2192 2537v200M2196 2518v224M2203 2543v196M2208 2509v230M2213 2516v213M2219 2541v201M2224 2507v229M2229 2506v238M2236 2536v194M2241 2508v218M2246 2531v200M2251 2514v216M2257 2521v220M2263 2526v199M2268 2511v217M2273 2529v197M2279 2516v213M2284 2508v219M2290 2506v227M2296 2507v221M2302 2511v235M2306 2512v236M2311 2536v198M2318 2533v201M2323 2534v206" stroke="#0000ff"/><path d="M1372 2546v213M1377 2544v220M1383 2547v202M1389 2549v196M1395 2547v198M1400 2542v210M1405 2543v223M1411 2541v229M1417 2543v222M1422 2547v213M1428 2547v216M1433 2539v228M1438 2546v228M1444 2547v193M1449 2541v225M1454 2542v221M1461 2543v223M1466 2553v215M1471 2540v229M1476 2543v204M1482 2542v206M1488 2544v203M1493 2539v231M1498 2548v196M1504 2547v199M1510 2551v194M1515 2549v197M1521 2545v210M1526 2539v213M1532 2540v207M1536 2549v195M1542 2547v192M1548 2539v202M1554 2537v204M1559 2547v202M1565 2546v212M1570 2551v210M1576 2551v206M1581 2548v209M1587 2548v205M1592 2548v221M1597 2544v199M1603 2541v208M1608 2538v206M1614 2547v197M1620 2548v209M1625 2540v211M1630 2544v207M1636 2546v199M1641 2541v211M1647 2544v228M1652 2550v222M1659 2550v203M1664 2545v215M1670 2544v214M1675 2555v191M1680 2547v198M1685 2547v210M1691 2546v212M1696 2542v201M1702 2541v212M1708 2552v217M1713 2548v210M1719 2545v214M1724 2546v207M1729 2550v203M1735 2551v213M1741 2545v207M1746 2547v209M1751 2540v199M1758 2542v225M1762 2543v212M1769 2546v211M1773 2539v207M1779 2546v199M1785 2550v196M1791 2551v188M1795 2548v198M1801 2542v207M1807 2546v209M1812 2546v218M1818 2545v210M1823 2546v200M1828 2538v237M1834 2543v227M1840 2538v234M1845 2544v218M1851 2549v200M1856 2550v210M1862 2547v221M1866 2545v198M1872 2541v223M1878 2538v218M1883 2550v219M1888 2544v206M1894 2537v218M1900 2550v213M1906 2547v224M1911 2539v223M1917 2545v205M1922 2543v198M1928 2546v202M1933 2547v210M1939 2544v203M1944 2548v200M1949 2544v226M1955 2539v232M1960 2542v204M1966 2545v198M1971 2553v199M1977 2550v191M1983 2541v218M1988 2542v228M1993 2549v203M1999 2551v207M2004 2540v212M2010 2541v219M2016 2551v199M2021 2545v204M2027 2541v204M2031 2542v223M2038 2545v225M2042 2546v215M2048 2543v206M2053 2549v199M2059 2543v214M2065 2543v207M2070 2543v214M2075 2541v205M2081 2541v203M2086 2547v227M2092 2546v210M2097 2552v198M2103 2552v221M2109 2547v212M2114 2538v221M2120 2545v208M2125 2544v215M2131 2544v211M2136 2543v216M2142 2539v221M2147 2543v220M2153 2546v220M2158 2550v220M2164 2549v214M2170 2542v200M2174 2538v203M2180 2543v203M2186 2551v193M2192 2549v212M2196 2542v226M2203 2551v212M2208 2543v219M2213 2544v204M2219 2550v216M2224 2536v224M2229 2543v227M2236 2546v208M2241 2541v202M2246 2546v205M2251 2539v208M2257 2547v215M2263 2546v200M2268 2543v207M2273 2547v199M2279 2544v205M2284 2539v205M2290 2537v215M2296 2537v212M2302 2545v227M2306 2540v232M2311 2550v203M2318 2545v211M2323 2546v215" stroke="#ff0000" opacity=".25"/><path d="M1372 2551v199M1377 2548v198M1383 2552v191M1389 2551v182M1395 2552v184M1400 2546v195M1405 2543v211M1411 2547v208M1417 2545v202M1422 2553v194M1428 2545v206M1433 2544v209M1438 2547v211M1444 2549v180M1449 2551v200M1454 2545v206M1461 2548v205M1466 2551v207M1471 2546v206M1476 2545v190M1482 2547v194M1488 2547v187M1493 2541v215M1498 2551v183M1504 2552v185M1510 2550v185M1515 2550v186M1521 2543v201M1526 2547v194M1532 2545v190M1536 2557v174M1542 2550v180M1548 2547v183M1554 2546v191M1559 2549v191M1565 2555v194M1570 2555v189M1576 2553v193M1581 2555v192M1587 2556v186M1592 2556v197M1597 2549v187M1603 2546v193M1608 2546v189M1614 2547v189M1620 2546v199M1625 2543v196M1630 2544v192M1636 2548v188M1641 2548v194M1647 2549v207M1652 2556v201M1659 2552v193M1664 2548v195M1670 2552v192M1675 2554v181M1680 2552v184M1685 2551v195M1691 2553v190M1696 2550v184M1702 2548v191M1708 2554v199M1713 2550v194M1719 2554v194M1724 2549v191M1729 2559v182M1735 2555v198M1741 2554v188M1746 2547v198M1751 2552v179M1758 2544v210M1762 2551v188M1769 2551v193M1773 2544v189M1779 2545v192M1785 2556v181M1791 2552v179M1795 2556v179M1801 2550v188M1807 2549v195M1812 2551v198M1818 2550v193M1823 2552v186M1828 2548v209M1834 2541v218M1840 2544v216M1845 2550v201M1851 2555v182M1856 2555v194M1862 2555v201M1866 2549v186M1872 2546v206M1878 2545v203M1883 2551v204M1888 2548v189M1894 2544v195M1900 2557v191M1906 2558v197M1911 2542v208M1917 2551v190M1922 2547v187M1928 2548v194M1933 2551v192M1939 2549v189M1944 2546v191M1949 2550v208M1955 2546v208M1960 2545v189M1966 2545v191M1971 2553v187M1977 2552v181M1983 2548v203M1988 2545v210M1993 2550v190M1999 2556v189M2004 2545v195M2010 2550v202M2016 2553v189M2021 2549v190M2027 2550v189M2031 2547v203M2038 2548v204M2042 2546v201M2048 2550v189M2053 2553v186M2059 2549v194M2065 2546v195M2070 2546v195M2075 2548v186M2081 2543v194M2086 2558v196M2092 2554v188M2097 2554v185M2103 2554v202M2109 2554v194M2114 2542v207M2120 2554v186M2125 2554v195M2131 2547v197M2136 2541v209M2142 2549v196M2147 2555v193M2153 2548v203M2158 2552v205M2164 2555v194M2170 2544v187M2174 2540v191M2180 2545v192M2186 2548v189M2192 2549v198M2196 2550v204M2203 2554v192M2208 2544v206M2213 2549v194M2219 2550v201M2224 2543v205M2229 2545v212M2236 2554v185M2241 2541v192M2246 2553v191M2251 2543v197M2257 2551v198M2263 2552v181M2268 2545v192M2273 2546v191M2279 2548v189M2284 2543v195M2290 2547v198M2296 2540v195M2302 2542v215M2306 2548v212M2311 2550v196M2318 2551v189M2323 2554v199" stroke="#ff0000" opacity=".5"/><path d="M1372 2561v174M1377 2555v181M1383 2557v178M1389 2550v183M1395 2551v182M1400 2550v186M1405 2547v191M1411 2544v197M1417 2548v188M1422 2553v184M1428 2550v187M1433 2553v188M1438 2549v193M1444 2550v179M1449 2550v189M1454 2552v185M1461 2546v191M1466 2558v182M1471 2546v195M1476 2550v181M1482 2553v180M1488 2549v180M1493 2551v188M1498 2550v180M1504 2553v175M1510 2556v174M1515 2552v179M1521 2546v190M1526 2553v183M1532 2545v188M1536 2559v171M1542 2555v172M1548 2548v181M1554 2551v179M1559 2554v179M1565 2557v178M1570 2551v183M1576 2559v178M1581 2558v179M1587 2562v175M1592 2556v181M1597 2555v174M1603 2552v179M1608 2551v182M1614 2554v180M1620 2549v185M1625 2548v184M1630 2552v182M1636 2547v185M1641 2546v189M1647 2546v197M1652 2554v186M1659 2551v182M1664 2552v183M1670 2553v183M1675 2557v177M1680 2555v179M1685 2557v179M1691 2554v181M1696 2550v181M1702 2547v183M1708 2555v183M1713 2559v174M1719 2554v180M1724 2557v176M1729 2563v170M1735 2553v183M1741 2557v174M1746 2556v179M1751 2550v178M1758 2548v192M1762 2548v184M1769 2553v182M1773 2548v184M1779 2547v183M1785 2560v172M1791 2553v176M1795 2555v177M1801 2555v177M1807 2552v183M1812 2556v181M1818 2551v182M1823 2550v182M1828 2546v193M1834 2549v193M1840 2548v191M1845 2555v180M1851 2558v173M1856 2558v178M1862 2556v187M1866 2555v178M1872 2547v191M1878 2550v186M1883 2558v180M1888 2553v179M1894 2550v186M1900 2554v182M1906 2557v184M1911 2547v192M1917 2552v182M1922 2549v183M1928 2558v176M1933 2554v180M1939 2549v184M1944 2556v175M1949 2556v185M1955 2549v191M1960 2552v179M1966 2550v180M1971 2553v179M1977 2558v172M1983 2553v187M1988 2548v190M1993 2556v177M1999 2563v174M2004 2550v182M2010 2549v187M2016 2559v173M2021 2554v178M2027 2549v183M2031 2554v182M2038 2551v191M2042 2548v191M2048 2548v185M2053 2559v173M2059 2548v186M2065 2547v187M2070 2552v183M2075 2554v179M2081 2551v178M2086 2555v187M2092 2557v178M2097 2555v180M2103 2558v183M2109 2554v183M2114 2547v188M2120 2555v179M2125 2558v180M2131 2550v183M2136 2544v193M2142 2547v188M2147 2552v183M2153 2548v189M2158 2555v184M2164 2554v184M2170 2544v188M2174 2545v184M2180 2548v184M2186 2551v178M2192 2556v178M2196 2552v184M2203 2559v176M2208 2549v190M2213 2551v180M2219 2560v177M2224 2544v191M2229 2547v192M2236 2558v173M2241 2545v185M2246 2551v182M2251 2552v180M2257 2552v187M2263 2551v177M2268 2550v181M2273 2556v177M2279 2547v185M2284 2547v185M2290 2546v189M2296 2545v187M2302 2545v199M2306 2552v188M2311 2556v179M2318 2554v180M2323 2559v177" stroke="#ff0000" opacity=".6"/><path d="M1372 2557v178M1377 2552v177M1383 2557v174M1389 2556v169M1395 2552v176M1400 2553v177M1405 2548v181M1411 2554v177M1417 2553v177M1422 2553v180M1428 2557v174M1433 2551v185M1449 2554v178M1454 2554v180M1461 2552v176M1466 2562v172M1471 2549v187M1476 2553v176M1482 2553v177M1488 2553v174M1493 2548v188M1498 2555v168M1504 2562v164M1510 2560v167M1515 2558v171M1521 2554v176M1526 2554v173M1532 2555v173M1536 2557v172M1542 2557v168M1548 2548v176M1554 2553v169M1559 2550v176M1565 2560v175M1570 2556v174M1576 2563v168M1581 2557v176M1587 2561v169M1592 2558v178M1597 2560v170M1603 2549v176M1608 2551v180M1614 2554v172M1620 2556v177M1625 2553v174M1630 2552v176M1636 2556v172M1641 2551v177M1647 2553v179M1652 2559v178M1659 2557v171M1664 2553v179M1670 2556v177M1675 2560v168M1680 2559v170M1685 2557v169M1691 2559v174M1696 2554v168M1702 2553v178M1708 2562v170M1713 2555v172M1719 2560v167M1724 2560v168M1729 2561v167M1735 2555v177M1741 2557v171M1746 2555v171M1751 2551v175M1769 2553v177M1773 2549v178M1779 2555v172M1785 2559v169M1791 2559v163M1795 2561v168M1801 2553v173M1807 2554v173M1812 2555v173M1818 2555v176M1823 2556v170M1828 2554v182M1834 2553v181M1840 2549v183M1856 2556v177M1862 2557v176M1866 2556v168M1872 2554v177M1878 2555v175M1883 2559v173M1888 2551v178M1894 2548v180M1900 2563v169M1906 2559v176M1911 2551v177M1917 2559v171M1922 2553v170M1928 2560v169M1933 2557v174M1944 2556v175M1949 2554v181M1955 2552v183M1960 2551v176M1966 2554v169M1971 2563v166M1977 2556v170M1983 2558v174M1988 2552v178M1993 2558v173M1999 2564v169M2004 2550v176M2010 2548v182M2016 2559v168M2021 2555v176M2027 2549v177M2031 2549v186M2038 2554v184M2042 2556v176M2048 2551v179M2065 2551v175M2070 2556v177M2075 2554v170M2081 2547v178M2086 2558v175M2092 2553v177M2097 2565v165M2103 2557v174M2109 2561v167M2114 2552v179M2120 2554v172M2125 2555v173M2131 2547v182M2136 2553v174M2147 2555v173M2153 2551v181M2158 2554v176M2164 2558v176M2170 2550v174M2174 2553v171M2180 2553v173M2186 2557v171M2192 2561v168M2196 2553v179M2213 2549v178M2219 2563v169M2224 2551v182M2229 2546v186M2236 2558v170M2241 2553v172M2246 2556v172M2251 2554v176M2257 2555v178M2263 2554v175M2268 2549v182M2273 2557v168M2279 2555v171M2284 2551v180M2290 2548v183M2296 2547v180M2302 2554v180M2306 2553v181M2311 2555v177M2318 2557v174M2323 2561v173" stroke="#ff0000" opacity=".6"/><path d="M1372 2564v162M1377 2561v168M1383 2560v163M1400 2556v171M1405 2553v173M1422 2561v169M1428 2557v171M1433 2556v171M1449 2557v174M1454 2555v170M1461 2558v171M1466 2565v167M1471 2559v171M1476 2558v166M1482 2558v165M1488 2555v171M1493 2557v173M1498 2562v165M1542 2560v161M1565 2561v169M1570 2557v169M1581 2559v166M1587 2566v164M1592 2561v165M1597 2558v169M1603 2558v165M1608 2552v170M1614 2558v168M1620 2559v169M1641 2552v174M1647 2557v176M1652 2559v169M1659 2556v175M1670 2557v167M1675 2564v159M1680 2562v166M1685 2555v173M1691 2561v162M1713 2562v162M1719 2560v168M1741 2561v160M1746 2561v165M1751 2554v170M1769 2558v164M1773 2556v165M1779 2559v164M1785 2564v159M1791 2557v165M1823 2554v169M1828 2551v176M1856 2563v167M1862 2561v173M1872 2554v172M1878 2554v174M1883 2562v169M1888 2556v170M1894 2552v175M1900 2567v160M1906 2566v166M1911 2556v169M1917 2561v169M1922 2561v167M1928 2557v169M1955 2553v180M1960 2559v166M1966 2554v170M1983 2555v174M1988 2560v172M1993 2559v164M1999 2562v167M2010 2551v177M2016 2561v163M2021 2560v169M2027 2553v169M2042 2559v167M2081 2551v175M2086 2561v170M2092 2559v165M2097 2561v163M2103 2560v169M2109 2562v168M2114 2556v175M2120 2560v167M2153 2551v179M2180 2558v169M2186 2559v164M2192 2562v166M2213 2551v171M2219 2561v170M2246 2559v168M2251 2551v176M2257 2555v174M2263 2555v166M2268 2557v172M2273 2561v163M2290 2554v170M2296 2556v170M2302 2553v179M2306 2557v172" stroke="#ff0000" opacity=".5"/></g></g>
<defs><clipPath id="c60"><rect x="307.4" y="2887.9" width="963.1" height="395.8"/></clipPath></defs><g clip-path="url(#c60)"><g class="d" stroke-width="7" filter="url(#bl)"><path d="M339 3001v8M807 3007v9" stroke="#00ff00"/><path d="M477 3141v8M828 3162v9M884 3138v7M1235 3152v6" stroke="#00ff00"/><path d="M641 3000v6M752 3013v6" stroke="#ff8c00"/><path d="M372 3139v8M515 3157v7M521 3137v7M554 3142v6M576 3160v6M630 3158v8M686 3159v7M845 3169v8M911 3173v8M1020 3174v9M1031 3159v8" stroke="#ff8c00"/><path d="M312 3006v146M317 3011v138M324 2999v146M328 3011v144M334 3007v130M339 3006v132M345 3015v138M350 3007v141M356 3011v151M362 3012v149M367 3008v135M372 3007v135M377 3007v155M383 3012v148M389 3018v136M394 3016v149M400 3016v138M405 3012v152M411 3001v161M416 3006v135M422 3007v148M428 3015v142M433 3003v154M439 3001v143M443 3006v136M449 3013v148M454 3009v143M460 3017v135M466 3021v133M471 3013v127M477 3011v133M482 3020v127M488 3017v124M494 3020v127M498 3003v157M504 3013v146M509 3014v138M515 3014v146M521 3011v128M526 3021v120M532 3004v146M537 3006v149M542 3018v129M548 3022v116M554 3014v131M559 3016v125M565 3010v150M570 3009v144M576 3016v147M581 3011v148M587 3019v141M593 3010v161M597 3024v156M604 3020v143M609 3015v149M614 3008v164M619 3021v151M625 3015v146M630 3008v153M637 3001v168M641 3003v163M646 3022v137M653 3000v162M658 3006v156M664 3008v164M668 3009v156M674 3004v159M680 2997v168M686 2998v164M691 3003v166M697 3003v174M702 3007v178M708 3010v157M713 3010v163M719 3008v167M724 3008v165M730 3008v164M734 3005v158M740 3008v156M746 3009v153M752 3016v151M757 3004v157M763 3003v161M768 3003v178M774 3004v177M779 3005v179M785 3011v170M790 3010v174M796 3006v178M800 3005v178M807 3013v171M812 3009v151M817 3004v157M823 3022v149M828 3008v156M833 3018v160M840 3015v164M845 3010v162M851 3008v165M856 3012v162M861 3018v164M866 3024v157M873 3021v160M878 3008v147M884 3005v136M889 3020v125M894 3014v124M900 3004v153M906 3004v174M911 2996v180M916 2999v170M922 2996v186M927 2998v163M932 2998v164M938 3004v175M943 3004v168M949 3009v162M955 2990v175M960 2988v182M965 2991v170M972 3002v172M976 2996v173M983 2991v178M987 2998v176M993 3003v178M998 3021v141M1004 3018v145M1010 3010v152M1016 3025v138M1020 3017v160M1026 3014v163M1031 3009v152M1037 3006v153M1043 3007v154M1048 3006v157M1054 3004v180M1060 3006v176M1065 3009v173M1070 3015v149M1075 3025v135M1082 3013v148M1086 3026v136M1093 3009v161M1097 3005v162M1103 3004v173M1109 3005v177M1114 3004v172M1120 3016v159M1125 3020v146M1130 3021v148M1136 3015v154M1142 3014v145M1147 3003v158M1153 3008v163M1158 3016v144M1163 3002v181M1169 3003v177M1175 3008v169M1180 3013v160M1185 3016v163M1191 3016v157M1197 3017v157M1202 3018v150M1207 3017v153M1214 3010v153M1219 3010v151M1224 3017v130M1230 3006v145M1235 3004v151M1241 3009v142M1246 3015v132M1251 3000v146M1257 3003v148" stroke="#0000ff"/><path d="M312 2996v157M317 2996v152M324 2990v149M328 2999v157M334 2993v143M339 2995v138M345 3007v142M350 2996v154M356 3001v151M362 3003v161M367 2998v145M372 2995v151M377 2998v164M383 2998v157M389 3006v151M394 3003v157M400 3004v150M405 3004v159M411 2994v167M416 2994v140M422 2995v155M428 3007v141M433 2990v171M439 2989v151M443 2997v142M449 3003v159M454 2999v152M460 3004v143M466 3012v137M471 3004v134M477 3001v137M482 3007v144M488 3007v129M494 3012v128M498 2993v162M504 3004v150M509 2999v146M515 3000v157M521 3001v134M526 3012v132M532 2993v155M537 2996v150M542 3008v132M548 3011v125M554 3002v141M559 3008v137M565 2999v163M570 2998v150M576 3006v155M581 3003v156M587 3009v151M593 2997v166M597 3014v165M604 3010v152M609 3005v154M614 2996v173M619 3012v159M625 3008v152M630 2994v171M637 2990v182M641 2993v171M646 3012v146M653 2989v175M658 2992v163M664 2998v166M668 2997v164M674 2989v175M680 2985v181M686 2991v177M691 2992v177M697 2990v183M702 2996v186M708 3000v171M713 3002v169M719 2997v182M724 2996v177M730 3001v167M734 2995v163M740 2994v172M746 3001v157M752 3004v158M757 2993v168M763 2993v163M768 2989v183M774 2993v190M779 2995v187M785 3002v174M790 3002v176M796 2994v187M800 2997v182M807 3002v171M812 2996v164M817 2992v173M823 3011v159M828 2998v163M833 3007v165M840 3007v170M845 3001v167M851 3001v164M856 2999v167M861 3008v167M866 3013v161M873 3007v166M878 2998v156M884 2991v145M889 3007v130M894 3000v143M900 2994v157M906 2995v184M911 2985v185M916 2989v175M922 2984v195M927 2987v173M932 2989v177M938 2995v182M943 2992v180M949 2995v176M955 2978v189M960 2977v190M965 2977v187M972 2990v184M976 2985v177M983 2983v183M987 2987v179M993 2994v189M998 3013v145M1004 3008v159M1010 2999v157M1016 3012v151M1020 3005v166M1026 3005v164M1031 2997v159M1037 2998v165M1043 2996v162M1048 2996v163M1054 2995v186M1060 2995v190M1065 2996v179M1070 3002v156M1075 3016v145M1082 3006v159M1086 3014v149M1093 2999v162M1097 2997v175M1103 2992v181M1109 2993v179M1114 2994v178M1120 3003v172M1125 3009v153M1130 3012v159M1136 3003v170M1142 3004v149M1147 2993v161M1153 2998v176M1158 3005v150M1163 2990v190M1169 2995v177M1175 2998v173M1180 3003v165M1185 3006v165M1191 3005v167M1197 3003v171M1202 3009v157M1207 3005v159M1214 2999v161M1219 2999v160M1224 3007v136M1230 2991v158M1235 2990v169M1241 2994v159M1246 3000v149M1251 2989v157M1257 2994v154" stroke="#ff0000" opacity=".22"/><path d="M312 3020v123M317 3022v119M324 3014v121M328 3018v116M334 3021v102M339 3023v102M345 3024v116M350 3024v107M356 3022v117M362 3017v125M367 3016v119M372 3020v114M377 3019v131M383 3028v118M389 3026v107M394 3026v116M400 3031v102M405 3021v119M411 3024v123M416 3022v105M422 3024v116M428 3028v108M433 3023v119M439 3022v111M443 3019v116M449 3021v120M454 3026v112M460 3022v111M466 3030v112M471 3028v99M477 3030v106M482 3025v113M488 3021v115M494 3029v105M498 3017v131M504 3025v115M509 3020v112M515 3031v113M521 3022v109M526 3025v104M532 3026v109M537 3026v116M542 3022v110M548 3031v99M554 3028v108M559 3029v95M565 3024v119M570 3024v108M576 3024v124M581 3025v115M587 3033v108M593 3019v133M597 3034v133M604 3024v133M609 3032v116M614 3020v137M619 3032v127M625 3029v126M630 3020v135M637 3018v135M641 3025v121M646 3028v115M653 3018v135M658 3025v122M664 3019v132M668 3019v132M674 3017v141M680 3019v136M686 3013v146M691 3020v143M697 3021v136M702 3015v155M708 3026v128M713 3021v138M719 3023v139M724 3014v150M730 3018v147M734 3021v124M740 3015v143M746 3025v132M752 3019v141M757 3023v123M763 3018v129M768 3013v152M774 3017v141M779 3025v143M785 3025v142M790 3020v148M796 3020v145M800 3020v146M807 3028v137M812 3025v129M817 3017v138M823 3025v131M828 3022v128M833 3032v135M840 3028v140M845 3029v134M851 3026v130M856 3029v124M861 3027v133M866 3032v133M873 3034v133M878 3025v114M884 3018v117M889 3031v102M894 3018v112M900 3020v120M906 3017v148M911 3011v153M916 3016v138M922 3011v156M927 3011v134M932 3017v129M938 3011v158M943 3010v153M949 3021v134M955 3004v150M960 3011v148M965 3010v139M972 3013v144M976 3014v137M983 3012v143M987 3019v142M993 3022v141M998 3031v125M1004 3024v130M1010 3020v125M1016 3033v116M1020 3028v136M1026 3020v141M1031 3027v117M1037 3024v122M1043 3026v121M1048 3018v137M1054 3029v139M1060 3024v137M1065 3020v149M1070 3023v133M1075 3035v122M1082 3031v119M1086 3035v123M1093 3021v131M1097 3023v136M1103 3023v145M1109 3018v139M1114 3027v136M1120 3027v135M1125 3029v123M1130 3030v124M1136 3024v126M1142 3022v129M1147 3016v128M1153 3021v131M1158 3030v115M1163 3019v146M1169 3021v148M1175 3022v145M1180 3031v129M1185 3020v144M1191 3021v133M1197 3021v136M1202 3024v130M1207 3022v131M1214 3018v134M1219 3023v116M1224 3022v108M1230 3016v117M1235 3023v116M1241 3017v115M1246 3026v109M1251 3021v118M1257 3014v127" stroke="#ff0000" opacity=".5"/><path d="M312 3023v112M317 3027v106M324 3031v92M328 3035v92M334 3023v104M339 3030v92M345 3031v104M350 3028v105M356 3031v106M362 3030v99M367 3034v89M372 3031v102M377 3028v99M383 3031v108M389 3034v101M394 3030v104M400 3035v99M405 3032v101M411 3028v114M416 3030v99M422 3033v94M428 3034v96M433 3026v100M439 3023v101M443 3028v102M449 3029v109M454 3037v98M460 3037v94M466 3038v87M471 3038v80M477 3036v91M482 3040v89M488 3036v92M494 3040v81M498 3034v103M504 3034v103M509 3032v100M515 3032v106M521 3030v98M526 3036v88M532 3034v94M537 3034v94M542 3039v91M548 3036v81M554 3034v88M559 3036v84M565 3031v99M570 3028v96M576 3036v95M581 3032v99M587 3032v99M593 3034v117M597 3039v113M604 3036v102M609 3038v110M614 3034v116M619 3033v118M625 3037v101M630 3033v116M637 3025v121M641 3028v120M646 3037v106M653 3026v114M658 3030v109M664 3027v129M668 3026v122M674 3024v123M680 3020v131M686 3028v119M691 3027v122M697 3031v126M702 3023v131M708 3024v121M713 3026v123M719 3024v135M724 3029v124M730 3025v130M734 3024v123M740 3027v123M746 3027v118M752 3027v115M757 3034v111M763 3031v116M768 3025v134M774 3029v124M779 3027v128M785 3030v129M790 3026v131M796 3029v125M800 3027v128M807 3034v120M812 3036v107M817 3033v113M823 3030v123M828 3033v108M833 3030v116M840 3034v122M845 3036v119M851 3036v109M856 3040v108M861 3031v121M866 3041v107M873 3031v116M878 3031v104M884 3027v99M889 3035v91M894 3024v97M900 3027v104M906 3022v128M911 3025v129M916 3017v132M922 3015v141M927 3016v128M932 3019v132M938 3025v131M943 3018v134M949 3027v126M955 3010v141M960 3013v142M965 3022v122M972 3014v135M976 3021v126M983 3021v126M987 3024v132M993 3031v128M998 3029v113M1004 3033v118M1010 3031v117M1016 3034v105M1020 3040v111M1026 3035v115M1031 3030v115M1037 3028v118M1043 3029v121M1048 3029v118M1054 3028v120M1060 3032v119M1065 3034v115M1070 3032v112M1075 3036v105M1082 3033v113M1086 3041v108M1093 3032v120M1097 3028v123M1103 3035v117M1109 3029v129M1114 3032v121M1120 3032v121M1125 3032v115M1130 3040v111M1136 3037v116M1142 3030v119M1147 3027v121M1153 3030v124M1158 3031v115M1163 3034v118M1169 3024v125M1175 3026v127M1180 3027v118M1185 3035v115M1191 3029v120M1197 3034v111M1202 3037v113M1207 3035v107M1214 3028v111M1219 3034v101M1224 3028v96M1230 3030v103M1235 3033v92M1241 3032v91M1246 3030v96M1251 3026v100M1257 3030v100" stroke="#ff0000" opacity=".6"/><path d="M312 3034v90M317 3033v84M324 3034v87M328 3037v81M334 3033v85M339 3032v85M345 3039v82M350 3034v84M356 3038v86M362 3037v88M367 3034v85M372 3034v91M377 3032v98M383 3033v86M389 3034v93M394 3039v85M400 3041v81M405 3039v84M411 3035v93M416 3041v75M422 3033v95M428 3039v87M433 3041v77M439 3041v74M443 3041v75M449 3043v79M454 3043v74M460 3035v86M466 3039v81M471 3035v78M477 3040v73M482 3044v76M488 3037v78M494 3039v80M498 3041v85M504 3038v82M509 3039v79M515 3042v86M521 3036v81M526 3039v78M532 3042v82M537 3039v85M542 3045v69M548 3043v72M559 3038v78M565 3037v91M570 3040v82M581 3042v82M587 3041v86M593 3036v102M597 3046v100M604 3043v100M609 3044v98M614 3040v96M619 3040v97M625 3041v95M630 3035v107M637 3033v104M641 3040v98M646 3039v103M653 3032v100M658 3038v99M664 3038v98M668 3038v105M674 3035v100M680 3033v105M686 3029v110M691 3032v106M697 3031v112M702 3040v102M708 3033v113M713 3036v108M719 3034v107M724 3031v115M730 3036v103M734 3037v101M740 3038v101M746 3040v95M752 3034v102M757 3032v104M763 3032v103M768 3032v113M774 3037v104M779 3041v106M785 3034v114M790 3034v114M796 3037v110M800 3036v111M807 3042v98M812 3034v100M817 3040v96M823 3045v100M828 3035v101M833 3037v107M840 3044v101M845 3043v102M851 3040v100M856 3041v105M861 3043v105M866 3047v99M873 3042v101M878 3042v87M884 3034v79M889 3044v73M894 3035v77M900 3027v102M906 3029v110M911 3027v112M916 3032v109M922 3024v117M927 3027v106M932 3031v103M938 3032v115M943 3024v120M949 3033v112M965 3026v111M972 3028v112M976 3028v110M983 3029v113M987 3036v112M993 3037v104M998 3045v94M1004 3042v91M1010 3037v105M1016 3047v96M1020 3045v100M1026 3040v103M1031 3040v103M1037 3042v98M1043 3039v98M1048 3039v96M1054 3040v104M1060 3042v103M1065 3042v100M1070 3046v93M1075 3045v95M1082 3045v99M1086 3044v91M1093 3044v93M1097 3044v102M1103 3037v112M1109 3043v103M1114 3040v101M1120 3038v100M1125 3039v103M1130 3037v102M1136 3038v105M1142 3039v93M1147 3038v95M1153 3041v96M1158 3043v89M1163 3036v110M1169 3037v111M1175 3037v110M1180 3043v101M1185 3039v103M1191 3036v107M1197 3035v97M1202 3041v94M1207 3035v100M1214 3035v92M1219 3038v87M1224 3041v80M1230 3036v84M1235 3039v85M1241 3032v87M1246 3038v79M1251 3034v81M1257 3030v89" stroke="#ff0000" opacity=".6"/><path d="M312 3038v73M317 3038v72M324 3040v72M328 3047v62M345 3043v74M350 3041v69M356 3044v69M362 3044v74M372 3045v73M377 3044v74M383 3041v74M394 3048v65M400 3043v70M405 3041v75M411 3040v78M428 3046v65M433 3048v63M439 3044v68M443 3042v65M449 3044v69M454 3041v73M466 3047v63M482 3049v63M498 3050v69M504 3050v67M521 3046v67M526 3050v58M532 3051v62M537 3047v64M542 3048v62M570 3044v73M581 3045v73M587 3047v80M593 3051v79M604 3050v78M625 3048v77M630 3046v82M637 3045v84M641 3047v83M646 3048v79M653 3047v83M658 3042v88M664 3043v86M668 3040v89M674 3038v101M680 3043v86M686 3041v95M691 3039v90M697 3046v85M713 3046v95M719 3040v98M724 3041v92M730 3045v91M734 3041v96M740 3043v93M746 3048v87M752 3042v93M757 3042v88M763 3044v85M768 3047v91M774 3040v94M785 3041v90M790 3045v87M796 3042v93M800 3045v93M807 3046v86M812 3047v81M817 3046v87M823 3045v84M828 3047v86M833 3053v83M840 3047v82M845 3046v85M861 3052v82M866 3050v87M873 3054v77M878 3051v65M884 3045v67M889 3044v63M906 3037v96M911 3038v100M916 3036v101M922 3037v93M927 3032v99M932 3035v100M938 3033v97M976 3031v100M983 3035v93M987 3042v94M993 3044v87M998 3042v85M1004 3048v83M1010 3044v82M1016 3053v78M1020 3043v89M1026 3045v85M1031 3050v81M1037 3044v88M1043 3045v83M1048 3051v76M1054 3047v86M1060 3049v92M1065 3051v79M1070 3050v86M1075 3047v89M1082 3048v87M1086 3053v78M1093 3051v85M1097 3044v86M1103 3049v85M1109 3042v93M1114 3045v94M1153 3049v89M1158 3043v94M1163 3046v86M1169 3049v85M1175 3043v86M1180 3042v96M1185 3048v87M1191 3047v86M1197 3046v78M1214 3048v67M1219 3040v71M1224 3050v57M1230 3042v70M1241 3042v72M1246 3045v65M1251 3041v71" stroke="#ff0000" opacity=".6"/></g></g>
<defs><clipPath id="c61"><rect x="1367.8" y="2887.9" width="962.7" height="395.8"/></clipPath></defs><g clip-path="url(#c61)"><g class="d" stroke-width="7" filter="url(#bl)"><path d="M1400 3026v8M1509 3027v9M1680 3028v7M1740 3028v7M2229 3028v7" stroke="#00ff00"/><path d="M1427 3130v9M1751 3130v8M2076 3130v9M2152 3128v7M2311 3131v7" stroke="#00ff00"/><path d="M1372 3023v11M1378 3026v9M1384 3029v5M1389 3023v10M1394 3026v7M1400 3029v3M1406 3033v3M1411 3026v6M1416 3028v6M1422 3026v9M1427 3025v6M1432 3021v10M1439 3027v4M1444 3026v9M1449 3031v5M1455 3024v12M1460 3027v7M1465 3029v6M1471 3023v11M1477 3022v12M1482 3022v9M1487 3026v5M1493 3021v11M1499 3024v10M1504 3026v8M1509 3025v10M1516 3031v2M1520 3023v10M1527 3025v8M1531 3030v3M1537 3027v8M1542 3031v4M1547 3023v10M1554 3022v11M1559 3031v2M1564 3027v4M1571 3029v3M1576 3028v4M1582 3022v12M1586 3025v7M1592 3027v6M1597 3023v12M1603 3028v7M1609 3030v6M1613 3032v3M1619 3033v5M1625 3025v9M1631 3020v13M1636 3027v10M1642 3032v4M1646 3025v12M1653 3031v5M1658 3029v7M1664 3033v4M1669 3027v7M1674 3023v12M1680 3026v7M1686 3029v4M1691 3029v5M1697 3019v13M1702 3030v2M1708 3021v11M1713 3023v12M1718 3030v5M1723 3027v8M1729 3022v12M1735 3023v8M1740 3031v2M1746 3021v11M1751 3022v10M1756 3024v8M1762 3026v10M1768 3025v9M1774 3025v9M1779 3027v9M1784 3024v7M1790 3019v13M1795 3024v7M1801 3033v4M1807 3033v2M1812 3032v2M1818 3026v8M1823 3031v3M1829 3027v5M1833 3023v10M1839 3018v13M1845 3030v5M1850 3029v8M1855 3023v12M1861 3025v9M1866 3023v11M1873 3029v4M1877 3027v6M1883 3027v6M1889 3028v6M1894 3027v8M1900 3025v9M1906 3027v5M1911 3020v12M1917 3021v12M1921 3021v11M1928 3027v6M1932 3026v7M1938 3030v2M1944 3028v5M1949 3021v12M1955 3031v4M1961 3027v7M1966 3024v8M1971 3025v7M1976 3032v3M1982 3023v11M1987 3030v5M1992 3023v11M1999 3024v9M2004 3030v4M2009 3022v12M2015 3021v10M2020 3021v11M2026 3023v12M2031 3028v8M2037 3024v10M2042 3026v9M2048 3034v3M2053 3023v10M2059 3022v12M2064 3025v9M2070 3026v8M2076 3030v3M2081 3028v4M2087 3020v11M2092 3020v13M2097 3024v8M2102 3027v9M2108 3034v2M2113 3021v13M2120 3028v3M2125 3033v3M2131 3022v11M2136 3030v3M2141 3032v3M2147 3028v3M2152 3022v12M2158 3026v8M2163 3024v11M2168 3031v3M2174 3032v3M2180 3031v3M2185 3026v6M2191 3031v6M2196 3031v5M2202 3025v9M2207 3029v5M2213 3021v12M2218 3020v12M2223 3028v5M2229 3020v13M2235 3026v10M2239 3028v5M2246 3028v6M2251 3026v9M2257 3029v7M2262 3033v2M2267 3033v3M2273 3027v6M2278 3028v5M2284 3029v6M2290 3029v7M2295 3025v10M2301 3033v2M2306 3024v11M2311 3026v6M2317 3023v10" stroke="#ff8c00"/><path d="M1394 3129v8M1400 3127v7M1406 3127v6M1427 3130v8M1439 3131v8M1460 3131v8M1465 3131v7M1477 3132v6M1493 3128v5M1509 3132v8M1520 3132v8M1547 3130v6M1554 3130v7M1559 3129v9M1564 3130v8M1603 3125v8M1609 3128v8M1613 3129v7M1625 3129v5M1631 3127v9M1636 3131v7M1642 3127v6M1674 3131v6M1680 3131v8M1697 3130v6M1723 3130v9M1735 3127v6M1740 3130v6M1756 3129v9M1779 3131v9M1784 3130v6M1801 3129v8M1807 3129v7M1845 3131v6M1889 3128v6M1900 3132v7M1921 3129v7M1928 3129v6M1938 3130v7M1976 3129v6M1987 3130v9M1992 3131v5M2026 3131v8M2037 3127v8M2070 3131v7M2087 3129v8M2092 3129v7M2102 3127v8M2120 3129v8M2147 3128v8M2168 3131v8M2174 3129v6M2180 3130v7M2196 3130v8M2213 3131v7M2229 3128v7M2235 3131v5M2239 3127v6M2257 3126v5M2262 3129v6M2273 3128v5M2278 3125v7M2290 3131v6M2295 3127v8M2306 3128v7" stroke="#ff8c00"/><path d="M1372 3033v98M1378 3034v96M1384 3033v99M1389 3032v102M1394 3032v100M1400 3031v99M1406 3035v95M1411 3031v100M1416 3033v99M1422 3034v95M1427 3030v103M1432 3030v105M1439 3030v104M1444 3034v98M1449 3035v94M1455 3035v94M1460 3034v100M1465 3034v99M1471 3033v100M1477 3033v101M1482 3030v103M1487 3030v102M1493 3031v99M1499 3034v95M1504 3033v97M1509 3034v101M1516 3032v102M1520 3032v103M1527 3032v99M1531 3032v101M1537 3034v100M1542 3034v100M1547 3032v101M1554 3032v101M1559 3032v100M1564 3030v103M1571 3031v102M1576 3031v102M1582 3033v101M1586 3031v103M1592 3032v101M1597 3034v100M1603 3034v94M1609 3035v96M1613 3034v98M1619 3037v96M1625 3034v98M1631 3032v98M1636 3036v97M1642 3035v95M1646 3036v95M1653 3035v95M1658 3035v96M1664 3036v95M1669 3033v97M1674 3034v100M1680 3032v102M1686 3032v101M1691 3033v100M1697 3031v102M1702 3031v99M1708 3031v101M1713 3034v98M1718 3034v98M1723 3034v99M1729 3033v99M1735 3030v100M1740 3032v100M1746 3031v101M1751 3031v102M1756 3031v101M1762 3035v97M1768 3033v97M1774 3033v101M1779 3035v99M1784 3030v103M1790 3031v102M1795 3030v101M1801 3036v96M1807 3034v98M1812 3034v96M1818 3033v100M1823 3033v100M1829 3031v101M1833 3032v102M1839 3030v102M1845 3034v100M1850 3036v96M1855 3034v99M1861 3033v100M1866 3034v96M1873 3033v98M1877 3032v102M1883 3032v101M1889 3033v98M1894 3034v100M1900 3033v102M1906 3031v103M1911 3031v102M1917 3032v99M1921 3031v101M1928 3032v99M1932 3032v101M1938 3031v101M1944 3032v99M1949 3032v99M1955 3034v93M1961 3033v89M1966 3031v92M1971 3031v93M1976 3034v98M1982 3033v99M1987 3034v99M1992 3033v101M1999 3032v102M2004 3033v101M2009 3033v99M2015 3030v102M2020 3031v104M2026 3034v100M2031 3035v97M2037 3034v96M2042 3034v95M2048 3036v96M2053 3032v100M2059 3033v98M2064 3033v98M2070 3033v101M2076 3032v101M2081 3032v98M2087 3030v102M2092 3032v100M2097 3031v99M2102 3035v95M2108 3036v95M2113 3033v97M2120 3030v102M2125 3035v95M2131 3032v101M2136 3032v102M2141 3035v95M2147 3030v101M2152 3033v98M2158 3033v99M2163 3034v100M2168 3033v101M2174 3034v98M2180 3033v100M2185 3031v101M2191 3036v95M2196 3035v98M2202 3033v101M2207 3033v101M2213 3032v102M2218 3031v103M2223 3032v99M2229 3032v99M2235 3035v99M2239 3032v98M2246 3033v101M2251 3034v99M2257 3035v93M2262 3034v98M2267 3035v96M2273 3032v99M2278 3032v96M2284 3034v96M2290 3035v99M2295 3034v96M2301 3034v96M2306 3034v97M2311 3031v103M2317 3033v101" stroke="#0000ff"/><path d="M1372 3036v108M1378 3037v106M1384 3040v102M1389 3037v106M1394 3036v106M1400 3040v103M1406 3036v105M1411 3040v100M1416 3034v111M1422 3035v108M1427 3031v113M1432 3040v108M1439 3032v114M1444 3035v107M1449 3037v101M1455 3043v100M1460 3033v116M1465 3040v109M1471 3036v111M1477 3042v102M1482 3033v115M1487 3032v112M1493 3033v106M1499 3041v101M1504 3035v107M1509 3038v107M1516 3039v107M1520 3037v110M1527 3032v112M1531 3034v109M1537 3038v107M1542 3036v112M1547 3040v108M1554 3033v110M1559 3037v108M1564 3040v102M1571 3041v106M1576 3040v107M1582 3041v109M1586 3035v109M1592 3035v108M1597 3043v105M1603 3033v105M1609 3044v94M1613 3044v101M1619 3041v106M1625 3036v108M1631 3040v100M1636 3040v106M1642 3038v105M1646 3037v107M1653 3044v97M1658 3039v105M1664 3044v102M1669 3041v98M1674 3040v107M1680 3035v108M1686 3033v113M1691 3034v111M1697 3034v110M1702 3040v104M1708 3039v107M1713 3036v107M1718 3036v111M1723 3042v103M1729 3041v101M1735 3038v104M1740 3040v102M1746 3031v113M1751 3036v111M1756 3035v110M1762 3040v101M1768 3035v109M1774 3035v109M1779 3036v110M1784 3034v114M1790 3038v108M1795 3032v107M1801 3040v104M1807 3039v105M1812 3035v107M1818 3038v107M1823 3037v108M1829 3034v111M1833 3041v104M1839 3034v112M1845 3043v106M1850 3036v110M1855 3038v108M1861 3036v111M1866 3038v101M1873 3037v108M1877 3034v113M1883 3034v111M1889 3043v102M1894 3042v102M1900 3033v114M1906 3033v115M1911 3035v109M1917 3037v108M1921 3040v105M1928 3040v101M1932 3038v108M1938 3042v101M1944 3034v110M1949 3036v108M1955 3042v85M1961 3036v83M1966 3037v83M1971 3038v84M1976 3040v105M1982 3042v102M1987 3038v108M1992 3036v109M1999 3037v109M2004 3037v107M2009 3039v104M2015 3033v110M2020 3034v115M2026 3038v104M2031 3039v108M2037 3041v104M2042 3040v104M2048 3036v108M2053 3033v112M2059 3040v101M2064 3039v100M2070 3035v110M2076 3036v109M2081 3036v104M2087 3036v106M2092 3041v100M2097 3037v104M2102 3044v98M2108 3036v105M2113 3037v107M2120 3034v110M2125 3035v103M2131 3038v106M2136 3041v102M2141 3038v103M2147 3033v113M2152 3043v101M2158 3035v107M2163 3038v109M2168 3039v108M2174 3041v107M2180 3037v106M2185 3041v99M2191 3041v104M2196 3041v108M2202 3039v104M2207 3040v108M2213 3034v113M2218 3040v105M2223 3032v114M2229 3040v100M2235 3035v115M2239 3036v107M2246 3040v109M2251 3035v109M2257 3043v95M2262 3035v106M2267 3039v105M2273 3033v108M2278 3043v96M2284 3040v102M2290 3034v113M2295 3042v99M2301 3041v98M2306 3035v107M2311 3039v110M2317 3033v111" stroke="#ff0000" opacity=".25"/><path d="M1372 3046v93M1378 3048v92M1384 3043v94M1389 3045v95M1394 3040v97M1400 3040v96M1406 3044v92M1411 3042v98M1416 3047v95M1422 3046v89M1427 3039v102M1432 3037v103M1439 3045v97M1444 3048v91M1449 3043v96M1455 3043v95M1460 3046v98M1465 3042v98M1471 3047v95M1477 3047v94M1482 3042v102M1487 3040v103M1493 3045v91M1499 3040v96M1504 3042v99M1509 3047v95M1516 3038v101M1520 3047v92M1527 3042v99M1531 3043v95M1537 3040v99M1542 3041v98M1547 3043v95M1554 3044v98M1559 3044v93M1564 3042v101M1571 3043v97M1576 3041v99M1582 3042v101M1586 3045v96M1592 3047v93M1597 3040v100M1603 3042v96M1609 3048v91M1613 3043v95M1619 3051v90M1625 3043v97M1631 3042v94M1636 3044v95M1642 3041v95M1646 3048v91M1653 3042v93M1658 3049v88M1664 3049v88M1669 3039v100M1674 3041v100M1680 3046v94M1686 3045v93M1691 3040v102M1697 3043v96M1702 3047v89M1708 3043v99M1713 3044v95M1718 3047v91M1723 3047v90M1729 3044v99M1735 3045v90M1740 3042v100M1746 3038v99M1751 3046v94M1756 3041v101M1762 3047v91M1768 3047v91M1774 3042v101M1779 3045v96M1784 3038v104M1790 3040v101M1795 3043v97M1801 3045v98M1807 3041v99M1812 3050v88M1818 3044v99M1823 3040v101M1829 3041v99M1833 3046v94M1839 3038v100M1845 3046v98M1850 3042v97M1855 3041v100M1861 3047v95M1866 3044v91M1873 3042v98M1877 3044v98M1883 3039v100M1889 3043v94M1894 3045v96M1900 3039v104M1906 3042v101M1911 3047v94M1917 3043v97M1921 3041v96M1928 3041v95M1932 3045v93M1938 3044v94M1944 3048v87M1949 3046v94M1955 3045v77M1961 3040v76M1966 3045v75M1971 3042v75M1976 3042v96M1982 3048v91M1987 3046v97M1992 3045v97M1999 3043v100M2004 3039v99M2009 3046v92M2015 3044v94M2020 3038v101M2026 3043v96M2031 3040v102M2037 3041v98M2042 3041v95M2048 3047v92M2053 3045v94M2059 3043v97M2064 3040v99M2070 3048v95M2076 3045v97M2081 3043v96M2087 3042v97M2092 3045v92M2097 3046v94M2102 3046v92M2108 3043v92M2113 3044v93M2120 3038v101M2125 3041v96M2131 3043v98M2136 3042v100M2141 3044v97M2147 3047v91M2152 3041v99M2158 3041v100M2163 3042v99M2168 3048v91M2174 3041v101M2180 3046v96M2185 3044v97M2191 3044v93M2196 3044v95M2202 3044v96M2207 3045v99M2213 3045v95M2218 3047v93M2223 3046v93M2229 3047v89M2235 3050v92M2239 3046v91M2246 3047v93M2251 3041v102M2257 3045v93M2262 3049v93M2267 3049v89M2273 3044v93M2278 3047v90M2284 3049v88M2290 3046v92M2295 3048v89M2301 3049v90M2306 3042v96M2311 3041v102M2317 3044v99" stroke="#ff0000" opacity=".4"/><path d="M1372 3051v82M1378 3051v82M1384 3050v87M1389 3045v91M1394 3050v84M1400 3051v85M1406 3055v79M1411 3053v83M1416 3049v85M1422 3049v85M1427 3044v93M1432 3048v89M1439 3049v89M1444 3051v82M1449 3048v87M1455 3051v85M1460 3054v86M1465 3053v87M1471 3055v81M1477 3049v90M1482 3050v89M1487 3053v85M1493 3046v90M1499 3054v80M1504 3048v89M1509 3051v85M1516 3047v91M1520 3051v85M1527 3052v85M1531 3046v90M1537 3052v88M1542 3056v81M1547 3049v89M1554 3053v84M1559 3052v84M1564 3045v91M1571 3053v83M1576 3052v85M1582 3052v86M1586 3048v89M1592 3054v86M1597 3051v87M1603 3052v82M1609 3057v79M1613 3055v82M1619 3053v86M1625 3047v90M1631 3049v83M1636 3054v84M1642 3053v79M1646 3048v88M1653 3054v80M1658 3053v82M1664 3059v75M1669 3052v84M1674 3054v84M1680 3053v86M1686 3054v82M1691 3056v82M1697 3047v88M1702 3045v88M1708 3050v85M1713 3053v82M1718 3057v82M1723 3057v79M1729 3052v83M1735 3045v90M1740 3052v84M1746 3047v88M1751 3045v93M1756 3051v85M1762 3056v79M1768 3053v81M1774 3054v85M1779 3055v85M1784 3052v87M1790 3047v86M1795 3052v81M1801 3056v79M1807 3055v81M1812 3056v77M1818 3052v85M1823 3048v90M1829 3050v88M1833 3054v81M1839 3052v86M1845 3054v82M1850 3056v82M1855 3056v82M1861 3052v84M1866 3049v86M1873 3055v80M1877 3054v82M1883 3054v84M1889 3049v87M1894 3056v81M1900 3051v88M1906 3050v88M1911 3046v90M1917 3046v87M1921 3046v88M1928 3046v88M1932 3054v84M1938 3050v85M1944 3054v81M1949 3050v88M1955 3052v65M1961 3048v65M1966 3048v67M1971 3049v67M1976 3053v80M1982 3051v86M1987 3054v84M1992 3050v86M1999 3046v94M2004 3048v91M2009 3051v86M2015 3044v91M2020 3048v89M2026 3052v84M2031 3051v86M2037 3048v87M2042 3048v87M2048 3055v79M2053 3045v93M2059 3054v80M2064 3052v80M2070 3049v87M2076 3050v87M2081 3049v83M2087 3052v82M2092 3047v87M2097 3053v81M2102 3054v78M2108 3052v84M2113 3054v80M2120 3047v88M2125 3047v85M2131 3049v87M2136 3051v86M2141 3054v80M2147 3054v84M2152 3050v86M2158 3050v86M2163 3053v85M2168 3053v84M2174 3054v81M2180 3049v90M2185 3049v87M2191 3055v82M2196 3049v89M2202 3054v83M2207 3056v82M2213 3047v90M2218 3051v86M2223 3051v84M2229 3046v87M2235 3055v82M2239 3054v78M2246 3049v88M2251 3046v89M2257 3056v77M2262 3054v80M2267 3055v81M2273 3055v83M2278 3047v87M2284 3053v79M2290 3055v81M2295 3055v75M2301 3055v79M2306 3054v79M2311 3049v88M2317 3049v88" stroke="#ff0000" opacity=".45"/><path d="M1372 3056v78M1378 3057v79M1384 3060v72M1389 3055v84M1394 3056v79M1400 3059v72M1406 3054v78M1411 3055v75M1416 3059v74M1422 3060v75M1427 3060v78M1432 3060v77M1439 3058v82M1444 3054v77M1449 3062v74M1455 3063v69M1460 3055v85M1465 3061v77M1471 3055v85M1477 3054v78M1482 3055v77M1487 3061v79M1493 3051v83M1499 3054v77M1504 3061v70M1509 3054v79M1516 3053v84M1520 3059v75M1527 3056v77M1531 3057v75M1537 3055v83M1542 3058v82M1547 3054v85M1554 3056v75M1559 3053v84M1564 3059v74M1571 3056v77M1576 3054v84M1582 3055v79M1586 3052v85M1592 3056v77M1597 3060v74M1603 3057v75M1609 3062v69M1613 3061v78M1619 3059v81M1625 3058v74M1631 3057v75M1636 3058v75M1642 3057v72M1646 3059v75M1653 3064v66M1658 3057v80M1664 3065v67M1669 3055v76M1674 3055v75M1680 3059v79M1686 3059v74M1691 3062v77M1697 3057v75M1702 3059v77M1708 3053v84M1713 3060v73M1729 3054v83M1735 3060v67M1740 3059v74M1746 3056v74M1751 3053v80M1756 3053v84M1762 3063v74M1768 3059v76M1774 3054v81M1779 3056v77M1784 3051v87M1790 3053v78M1795 3052v79M1801 3059v72M1807 3054v76M1812 3057v73M1818 3058v79M1823 3055v79M1829 3061v71M1833 3052v86M1839 3060v71M1845 3055v81M1850 3065v68M1855 3056v74M1861 3060v78M1866 3060v75M1873 3062v66M1877 3055v81M1883 3056v77M1889 3059v74M1894 3063v74M1900 3055v85M1917 3060v77M1921 3055v76M1928 3058v71M1932 3057v73M1938 3057v75M1944 3054v80M1949 3053v85M1955 3058v63M1961 3058v55M1966 3061v50M1971 3062v50M1976 3062v73M1982 3054v79M1987 3058v81M1992 3060v72M1999 3057v81M2004 3061v75M2009 3057v74M2015 3058v76M2020 3053v78M2026 3059v78M2031 3064v72M2037 3055v79M2042 3056v74M2048 3062v73M2053 3059v71M2059 3060v71M2064 3060v71M2070 3062v76M2076 3055v80M2081 3060v71M2087 3059v75M2092 3061v69M2097 3054v76M2102 3061v72M2108 3062v69M2113 3062v75M2120 3056v79M2125 3055v78M2131 3061v76M2136 3053v85M2141 3055v78M2147 3053v80M2152 3057v77M2158 3061v68M2163 3060v79M2168 3058v75M2174 3058v80M2180 3056v83M2185 3054v79M2191 3059v75M2202 3060v75M2207 3059v73M2213 3060v80M2218 3053v82M2223 3052v80M2229 3057v72M2235 3057v80M2239 3058v71M2246 3059v80M2251 3059v78M2257 3056v77M2262 3056v82M2267 3061v69M2273 3058v73M2278 3059v76M2284 3063v71M2290 3062v70M2295 3063v73M2301 3061v69M2306 3055v81M2311 3057v75M2317 3056v81" stroke="#ff0000" opacity=".5"/><path d="M1372 3061v72M1378 3063v67M1384 3061v74M1389 3057v72M1406 3058v76M1411 3061v67M1427 3060v69M1432 3055v80M1439 3056v76M1444 3067v62M1471 3057v75M1477 3062v73M1482 3058v74M1487 3060v73M1493 3064v61M1509 3062v72M1516 3058v74M1520 3061v76M1537 3061v73M1542 3060v76M1547 3057v76M1554 3064v71M1564 3058v74M1571 3064v70M1576 3062v68M1582 3061v68M1586 3058v77M1592 3065v67M1609 3062v67M1613 3061v73M1625 3062v66M1631 3062v71M1636 3067v63M1642 3066v59M1646 3066v64M1653 3062v70M1658 3058v76M1674 3059v74M1680 3065v63M1686 3062v68M1691 3065v70M1697 3064v65M1702 3056v71M1708 3064v62M1713 3060v73M1729 3057v71M1735 3063v71M1740 3063v68M1746 3062v69M1751 3061v73M1762 3068v63M1768 3065v63M1774 3062v68M1779 3067v68M1784 3057v74M1801 3063v73M1807 3065v65M1812 3068v63M1818 3059v76M1823 3063v68M1839 3058v69M1845 3060v73M1850 3067v67M1855 3061v70M1861 3062v66M1866 3058v74M1873 3057v73M1877 3058v70M1883 3063v67M1889 3060v67M1894 3061v74M1917 3060v70M1921 3060v68M1928 3058v73M1932 3058v75M1938 3056v77M1944 3063v67M1949 3059v68M1955 3066v45M1961 3062v51M1971 3057v58M1976 3064v64M1982 3061v67M1987 3062v72M1999 3057v77M2004 3065v72M2020 3058v77M2026 3062v66M2031 3060v75M2037 3063v66M2042 3063v64M2048 3061v72M2064 3063v62M2070 3060v72M2076 3060v75M2081 3063v64M2087 3063v66M2092 3060v74M2097 3063v66M2102 3061v64M2108 3060v65M2113 3065v70M2120 3058v72M2125 3064v68M2141 3059v72M2147 3065v65M2158 3065v63M2174 3057v72M2180 3058v76M2185 3062v65M2191 3066v67M2202 3063v65M2207 3066v66M2213 3059v70M2218 3058v71M2223 3058v75M2229 3063v67M2235 3060v75M2239 3058v72M2246 3058v79M2251 3065v66M2257 3064v66M2262 3065v71M2273 3064v69M2278 3062v65M2284 3066v61M2311 3057v78M2317 3064v68" stroke="#ff0000" opacity=".5"/></g></g>
<text class="b" x="788.9" y="80.2" text-anchor="middle">BDS-2(B1IB3I)</text>
<text class="b" x="1849.2" y="80.2" text-anchor="middle">BDS-3(B1IB3I)</text>
<g>
<path d="M304.4 151.6H1272.8M304.4 548.4H1272.8" stroke="#000" stroke-width="6.2" fill="none"/>
<path d="M307.4 151.6V548.4" stroke="#000" stroke-width="6" fill="none"/>
<path d="M1270.5 151.6V548.4" stroke="#000" stroke-width="4.6" fill="none"/>
<text class="b" x="323.6" y="209.2">BRUX</text>
<text class="t" x="260.5" y="175.6" text-anchor="end">10</text>
<text class="t" x="260.5" y="274.8" text-anchor="end">5</text>
<text class="t" x="260.5" y="374" text-anchor="end">0</text>
<text class="t" x="260.5" y="473.2" text-anchor="end">−5</text>
<text class="t" x="260.5" y="572.4" text-anchor="end">−10</text>
<path d="M283.4 151.6h21M283.4 250.8h21M283.4 350h21M283.4 449.2h21M283.4 548.4h21" stroke="#000" stroke-width="5.6" fill="none"/>
<text class="b" transform="translate(83.3 355.6) rotate(-90)" text-anchor="middle">Res[m]</text>
</g>
<g>
<path d="M1365 151.6H2333.6M1365 548.4H2333.6" stroke="#000" stroke-width="6.2" fill="none"/>
<path d="M1367.8 151.6V548.4" stroke="#000" stroke-width="5.7" fill="none"/>
<path d="M2330.5 151.6V548.4" stroke="#000" stroke-width="6.2" fill="none"/>
<text class="b" x="1384" y="209.2">BRUX</text>
</g>
<g>
<path d="M304.4 607.6H1272.8M304.4 1004.3H1272.8" stroke="#000" stroke-width="6.2" fill="none"/>
<path d="M307.4 607.6V1004.3" stroke="#000" stroke-width="6" fill="none"/>
<path d="M1270.5 607.6V1004.3" stroke="#000" stroke-width="4.6" fill="none"/>
<text class="b" x="323.6" y="665.2">HARB</text>
<text class="t" x="260.5" y="631.6" text-anchor="end">10</text>
<text class="t" x="260.5" y="730.8" text-anchor="end">5</text>
<text class="t" x="260.5" y="830" text-anchor="end">0</text>
<text class="t" x="260.5" y="929.1" text-anchor="end">−5</text>
<text class="t" x="260.5" y="1028.3" text-anchor="end">−10</text>
<path d="M283.4 607.6h21M283.4 706.8h21M283.4 806h21M283.4 905.1h21M283.4 1004.3h21" stroke="#000" stroke-width="5.6" fill="none"/>
<text class="b" transform="translate(83.3 811.6) rotate(-90)" text-anchor="middle">Res[m]</text>
</g>
<g>
<path d="M1365 607.6H2333.6M1365 1004.3H2333.6" stroke="#000" stroke-width="6.2" fill="none"/>
<path d="M1367.8 607.6V1004.3" stroke="#000" stroke-width="5.7" fill="none"/>
<path d="M2330.5 607.6V1004.3" stroke="#000" stroke-width="6.2" fill="none"/>
<text class="b" x="1384" y="665.2">HARB</text>
</g>
<g>
<path d="M304.4 1063.7H1272.8M304.4 1460.2H1272.8" stroke="#000" stroke-width="6.2" fill="none"/>
<path d="M307.4 1063.7V1460.2" stroke="#000" stroke-width="6" fill="none"/>
<path d="M1270.5 1063.7V1460.2" stroke="#000" stroke-width="4.6" fill="none"/>
<text class="b" x="323.6" y="1121.3">HOB2</text>
<text class="t" x="260.5" y="1087.7" text-anchor="end">10</text>
<text class="t" x="260.5" y="1186.8" text-anchor="end">5</text>
<text class="t" x="260.5" y="1285.9" text-anchor="end">0</text>
<text class="t" x="260.5" y="1385" text-anchor="end">−5</text>
<text class="t" x="260.5" y="1484.2" text-anchor="end">−10</text>
<path d="M283.4 1063.7h21M283.4 1162.8h21M283.4 1261.9h21M283.4 1361h21M283.4 1460.2h21" stroke="#000" stroke-width="5.6" fill="none"/>
<text class="b" transform="translate(83.3 1267.5) rotate(-90)" text-anchor="middle">Res[m]</text>
</g>
<g>
<path d="M1365 1063.7H2333.6M1365 1460.2H2333.6" stroke="#000" stroke-width="6.2" fill="none"/>
<path d="M1367.8 1063.7V1460.2" stroke="#000" stroke-width="5.7" fill="none"/>
<path d="M2330.5 1063.7V1460.2" stroke="#000" stroke-width="6.2" fill="none"/>
<text class="b" x="1384" y="1121.3">HOB2</text>
</g>
<g>
<path d="M304.4 1519.8H1272.8M304.4 1916H1272.8" stroke="#000" stroke-width="6.2" fill="none"/>
<path d="M307.4 1519.8V1916" stroke="#000" stroke-width="6" fill="none"/>
<path d="M1270.5 1519.8V1916" stroke="#000" stroke-width="4.6" fill="none"/>
<text class="b" x="323.6" y="1577.3">NNOR</text>
<text class="t" x="260.5" y="1543.8" text-anchor="end">10</text>
<text class="t" x="260.5" y="1642.8" text-anchor="end">5</text>
<text class="t" x="260.5" y="1741.9" text-anchor="end">0</text>
<text class="t" x="260.5" y="1841" text-anchor="end">−5</text>
<text class="t" x="260.5" y="1940" text-anchor="end">−10</text>
<path d="M283.4 1519.8h21M283.4 1618.8h21M283.4 1717.9h21M283.4 1817h21M283.4 1916h21" stroke="#000" stroke-width="5.6" fill="none"/>
<text class="b" transform="translate(83.3 1723.5) rotate(-90)" text-anchor="middle">Res[m]</text>
</g>
<g>
<path d="M1365 1519.8H2333.6M1365 1916H2333.6" stroke="#000" stroke-width="6.2" fill="none"/>
<path d="M1367.8 1519.8V1916" stroke="#000" stroke-width="5.7" fill="none"/>
<path d="M2330.5 1519.8V1916" stroke="#000" stroke-width="6.2" fill="none"/>
<text class="b" x="1384" y="1577.3">NNOR</text>
</g>
<g>
<path d="M304.4 1975.8H1272.8M304.4 2371.9H1272.8" stroke="#000" stroke-width="6.2" fill="none"/>
<path d="M307.4 1975.8V2371.9" stroke="#000" stroke-width="6" fill="none"/>
<path d="M1270.5 1975.8V2371.9" stroke="#000" stroke-width="4.6" fill="none"/>
<text class="b" x="323.6" y="2033.4">PTBB</text>
<text class="t" x="260.5" y="1999.8" text-anchor="end">10</text>
<text class="t" x="260.5" y="2098.8" text-anchor="end">5</text>
<text class="t" x="260.5" y="2197.9" text-anchor="end">0</text>
<text class="t" x="260.5" y="2296.9" text-anchor="end">−5</text>
<text class="t" x="260.5" y="2395.9" text-anchor="end">−10</text>
<path d="M283.4 1975.8h21M283.4 2074.8h21M283.4 2173.9h21M283.4 2272.9h21M283.4 2371.9h21" stroke="#000" stroke-width="5.6" fill="none"/>
<text class="b" transform="translate(83.3 2179.5) rotate(-90)" text-anchor="middle">Res[m]</text>
</g>
<g>
<path d="M1365 1975.8H2333.6M1365 2371.9H2333.6" stroke="#000" stroke-width="6.2" fill="none"/>
<path d="M1367.8 1975.8V2371.9" stroke="#000" stroke-width="5.7" fill="none"/>
<path d="M2330.5 1975.8V2371.9" stroke="#000" stroke-width="6.2" fill="none"/>
<text class="b" x="1384" y="2033.4">PTBB</text>
</g>
<g>
<path d="M304.4 2431.8H1272.8M304.4 2827.8H1272.8" stroke="#000" stroke-width="6.2" fill="none"/>
<path d="M307.4 2431.8V2827.8" stroke="#000" stroke-width="6" fill="none"/>
<path d="M1270.5 2431.8V2827.8" stroke="#000" stroke-width="4.6" fill="none"/>
<text class="b" x="323.6" y="2489.4">USUD</text>
<text class="t" x="260.5" y="2455.8" text-anchor="end">10</text>
<text class="t" x="260.5" y="2554.8" text-anchor="end">5</text>
<text class="t" x="260.5" y="2653.8" text-anchor="end">0</text>
<text class="t" x="260.5" y="2752.8" text-anchor="end">−5</text>
<text class="t" x="260.5" y="2851.8" text-anchor="end">−10</text>
<path d="M283.4 2431.8h21M283.4 2530.8h21M283.4 2629.8h21M283.4 2728.8h21M283.4 2827.8h21" stroke="#000" stroke-width="5.6" fill="none"/>
<text class="b" transform="translate(83.3 2635.4) rotate(-90)" text-anchor="middle">Res[m]</text>
</g>
<g>
<path d="M1365 2431.8H2333.6M1365 2827.8H2333.6" stroke="#000" stroke-width="6.2" fill="none"/>
<path d="M1367.8 2431.8V2827.8" stroke="#000" stroke-width="5.7" fill="none"/>
<path d="M2330.5 2431.8V2827.8" stroke="#000" stroke-width="6.2" fill="none"/>
<text class="b" x="1384" y="2489.4">USUD</text>
</g>
<g>
<path d="M304.4 2887.9H1272.8M304.4 3283.7H1272.8" stroke="#000" stroke-width="6.2" fill="none"/>
<path d="M307.4 2887.9V3283.7" stroke="#000" stroke-width="6" fill="none"/>
<path d="M1270.5 2887.9V3283.7" stroke="#000" stroke-width="4.6" fill="none"/>
<text class="b" x="323.6" y="2945.5">XIA1</text>
<text class="t" x="260.5" y="2911.9" text-anchor="end">10</text>
<text class="t" x="260.5" y="3010.8" text-anchor="end">5</text>
<text class="t" x="260.5" y="3109.8" text-anchor="end">0</text>
<text class="t" x="260.5" y="3208.7" text-anchor="end">−5</text>
<text class="t" x="260.5" y="3307.7" text-anchor="end">−10</text>
<path d="M283.4 2887.9h21M283.4 2986.8h21M283.4 3085.8h21M283.4 3184.7h21M283.4 3283.7h21" stroke="#000" stroke-width="5.6" fill="none"/>
<text class="b" transform="translate(83.3 3091.4) rotate(-90)" text-anchor="middle">Res[m]</text>
<text class="t" x="322.7" y="3381.4" text-anchor="middle">101</text>
<text class="t" x="477" y="3381.4" text-anchor="middle">106</text>
<text class="t" x="631.2" y="3381.4" text-anchor="middle">111</text>
<text class="t" x="785.5" y="3381.4" text-anchor="middle">116</text>
<text class="t" x="939.8" y="3381.4" text-anchor="middle">121</text>
<text class="t" x="1094" y="3381.4" text-anchor="middle">126</text>
<text class="t" x="1248.3" y="3381.4" text-anchor="middle">131</text>
<path d="M322.7 3286.7v21M477 3286.7v21M631.2 3286.7v21M785.5 3286.7v21M939.8 3286.7v21M1094 3286.7v21M1248.3 3286.7v21" stroke="#000" stroke-width="5.6" fill="none"/>
<text class="b" x="788.9" y="3476" text-anchor="middle">DOY</text>
</g>
<g>
<path d="M1365 2887.9H2333.6M1365 3283.7H2333.6" stroke="#000" stroke-width="6.2" fill="none"/>
<path d="M1367.8 2887.9V3283.7" stroke="#000" stroke-width="5.7" fill="none"/>
<path d="M2330.5 2887.9V3283.7" stroke="#000" stroke-width="6.2" fill="none"/>
<text class="b" x="1384" y="2945.5">XIA1</text>
<text class="t" x="1382.8" y="3381.4" text-anchor="middle">101</text>
<text class="t" x="1537.1" y="3381.4" text-anchor="middle">106</text>
<text class="t" x="1691.3" y="3381.4" text-anchor="middle">111</text>
<text class="t" x="1845.6" y="3381.4" text-anchor="middle">116</text>
<text class="t" x="1999.9" y="3381.4" text-anchor="middle">121</text>
<text class="t" x="2154.1" y="3381.4" text-anchor="middle">126</text>
<text class="t" x="2308.4" y="3381.4" text-anchor="middle">131</text>
<path d="M1382.8 3286.7v21M1537.1 3286.7v21M1691.3 3286.7v21M1845.6 3286.7v21M1999.9 3286.7v21M2154.1 3286.7v21M2308.4 3286.7v21" stroke="#000" stroke-width="5.6" fill="none"/>
<text class="b" x="1849.2" y="3476" text-anchor="middle">DOY</text>
</g>
<g>
<rect x="314.7" y="3500.7" width="1933.8" height="119.9" rx="13" ry="13" fill="#fff" stroke="#d4d4d4" stroke-width="6"/>
<rect x="337.1" y="3530.4" width="140.4" height="52.8" fill="#00ff00"/>
<text class="i" x="527.7" y="3580.5" font-size="68.00px">ISB<tspan dy="9.6" font-size="47.60px">CV</tspan></text>
<rect x="834.4" y="3530.4" width="140.4" height="52.8" fill="#ff8c00"/>
<text class="i" x="1023.8" y="3580.5" font-size="68.00px">ISB<tspan dy="9.6" font-size="47.60px">RW</tspan></text>
<rect x="1344.4" y="3530.4" width="140.4" height="52.8" fill="#0000ff"/>
<text class="i" x="1533.5" y="3580.5" font-size="68.00px">ISB<tspan dy="9.6" font-size="47.60px">WN</tspan></text>
<rect x="1853.2" y="3530.4" width="140.4" height="52.8" fill="#ff0000"/>
<text class="i" x="2042.2" y="3580.5" font-size="68.00px">ISB<tspan dy="9.6" font-size="47.60px">NO</tspan></text>
</g>
</svg></body></html>
